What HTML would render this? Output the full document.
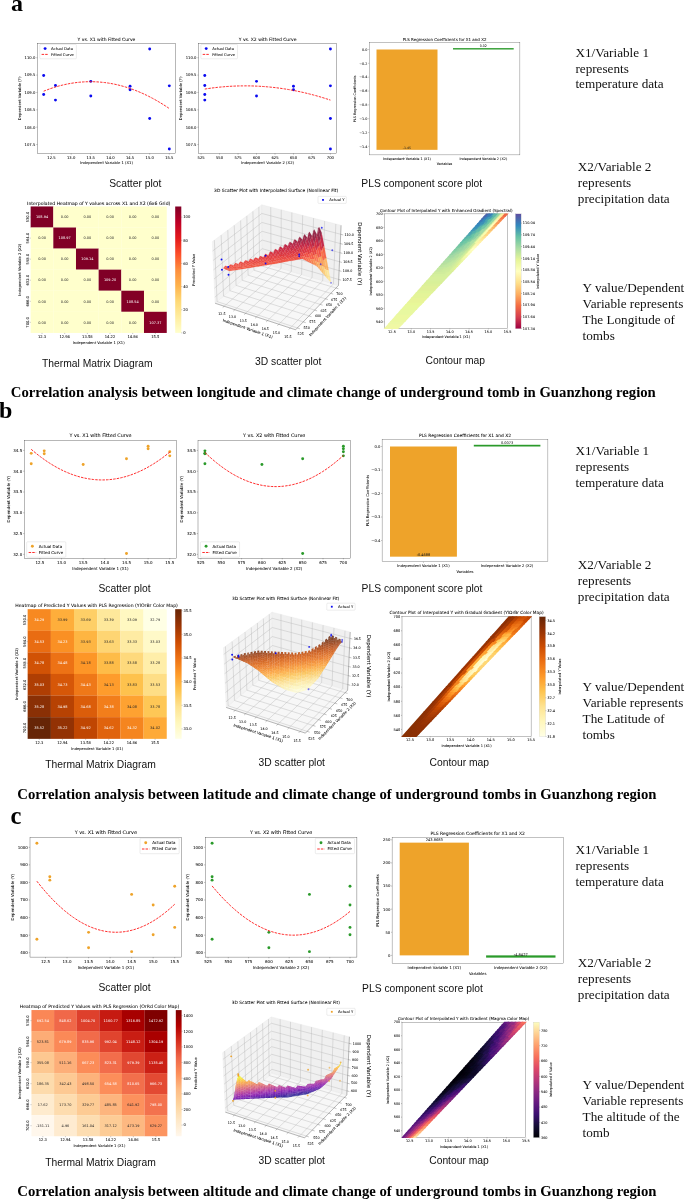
<!DOCTYPE html>
<html><head><meta charset="utf-8"><title>Figure</title>
<style>html,body{margin:0;padding:0;background:#fff}svg{display:block;filter:blur(0.3px)}text{white-space:pre}</style></head>
<body><svg width="685" height="1200" viewBox="0 0 685 1200"><defs><linearGradient id="gA" x1="0" y1="1" x2="0" y2="0" gradientUnits="objectBoundingBox"><stop offset="0.000" stop-color="#ffffcc"/><stop offset="0.125" stop-color="#ffeda0"/><stop offset="0.250" stop-color="#fed976"/><stop offset="0.375" stop-color="#feb24c"/><stop offset="0.500" stop-color="#fd8d3c"/><stop offset="0.625" stop-color="#fc4e2a"/><stop offset="0.750" stop-color="#e31a1c"/><stop offset="0.875" stop-color="#bd0026"/><stop offset="1.000" stop-color="#800026"/></linearGradient><linearGradient id="gcA" x1="0" y1="1" x2="0" y2="0" gradientUnits="objectBoundingBox"><stop offset="0.000" stop-color="#9e0142"/><stop offset="0.100" stop-color="#d53e4f"/><stop offset="0.200" stop-color="#f46d43"/><stop offset="0.300" stop-color="#fdae61"/><stop offset="0.400" stop-color="#fee08b"/><stop offset="0.500" stop-color="#ffffbf"/><stop offset="0.600" stop-color="#e6f598"/><stop offset="0.700" stop-color="#abdda4"/><stop offset="0.800" stop-color="#66c2a5"/><stop offset="0.900" stop-color="#3288bd"/><stop offset="1.000" stop-color="#5e4fa2"/></linearGradient><linearGradient id="gB" x1="0" y1="1" x2="0" y2="0" gradientUnits="objectBoundingBox"><stop offset="0.000" stop-color="#ffffe5"/><stop offset="0.125" stop-color="#fff7bc"/><stop offset="0.250" stop-color="#fee391"/><stop offset="0.375" stop-color="#fec44f"/><stop offset="0.500" stop-color="#fe9929"/><stop offset="0.625" stop-color="#ec7014"/><stop offset="0.750" stop-color="#cc4c02"/><stop offset="0.875" stop-color="#993404"/><stop offset="1.000" stop-color="#662506"/></linearGradient><linearGradient id="gcB" x1="0" y1="1" x2="0" y2="0" gradientUnits="objectBoundingBox"><stop offset="0.000" stop-color="#ffffe5"/><stop offset="0.125" stop-color="#fff7bc"/><stop offset="0.250" stop-color="#fee391"/><stop offset="0.375" stop-color="#fec44f"/><stop offset="0.500" stop-color="#fe9929"/><stop offset="0.625" stop-color="#ec7014"/><stop offset="0.750" stop-color="#cc4c02"/><stop offset="0.875" stop-color="#993404"/><stop offset="1.000" stop-color="#662506"/></linearGradient><linearGradient id="gC" x1="0" y1="1" x2="0" y2="0" gradientUnits="objectBoundingBox"><stop offset="0.000" stop-color="#fff7ec"/><stop offset="0.125" stop-color="#fee8c8"/><stop offset="0.250" stop-color="#fdd49e"/><stop offset="0.375" stop-color="#fdbb84"/><stop offset="0.500" stop-color="#fc8d59"/><stop offset="0.625" stop-color="#ef6548"/><stop offset="0.750" stop-color="#d7301f"/><stop offset="0.875" stop-color="#b30000"/><stop offset="1.000" stop-color="#7f0000"/></linearGradient><linearGradient id="gcC" x1="0" y1="1" x2="0" y2="0" gradientUnits="objectBoundingBox"><stop offset="0.000" stop-color="#000004"/><stop offset="0.100" stop-color="#140e36"/><stop offset="0.200" stop-color="#3b0f70"/><stop offset="0.300" stop-color="#641a80"/><stop offset="0.400" stop-color="#8c2981"/><stop offset="0.500" stop-color="#b73779"/><stop offset="0.600" stop-color="#de4968"/><stop offset="0.700" stop-color="#f7705c"/><stop offset="0.800" stop-color="#fe9f6d"/><stop offset="0.900" stop-color="#fecf92"/><stop offset="1.000" stop-color="#fcfdbf"/></linearGradient></defs>
<rect width="685" height="1200" fill="#fff"/>
<text x="11" y="11.4" font-size="24" font-family="'Liberation Serif',serif" font-weight="bold">a</text><text x="-1" y="418" font-size="24" font-family="'Liberation Serif',serif" font-weight="bold">b</text><text x="10.5" y="823.5" font-size="24.5" font-family="'Liberation Serif',serif" font-weight="bold">c</text><text x="10.8" y="396.9" font-size="14.7" font-family="'Liberation Serif',serif" font-weight="bold" textLength="645" lengthAdjust="spacingAndGlyphs">Correlation analysis between longitude and climate change of underground tomb in Guanzhong region</text><text x="17.3" y="798.5" font-size="14.7" font-family="'Liberation Serif',serif" font-weight="bold" textLength="639.2" lengthAdjust="spacingAndGlyphs">Correlation analysis between latitude and climate change of underground tombs in Guanzhong region</text><text x="17.3" y="1196" font-size="14.7" font-family="'Liberation Serif',serif" font-weight="bold" textLength="639.2" lengthAdjust="spacingAndGlyphs">Correlation analysis between altitude and climate change of underground tombs in Guanzhong region</text><text x="135.3" y="186.5" font-size="10.3" font-family="'Liberation Sans',sans-serif" text-anchor="middle" fill="#111">Scatter plot</text><text x="421.7" y="186.8" font-size="10.3" font-family="'Liberation Sans',sans-serif" text-anchor="middle" fill="#111">PLS component score plot</text><text x="97.3" y="366.6" font-size="10.3" font-family="'Liberation Sans',sans-serif" text-anchor="middle" fill="#111">Thermal Matrix Diagram</text><text x="288.2" y="364.6" font-size="10.3" font-family="'Liberation Sans',sans-serif" text-anchor="middle" fill="#111">3D scatter plot</text><text x="455.3" y="364.2" font-size="10.3" font-family="'Liberation Sans',sans-serif" text-anchor="middle" fill="#111">Contour map</text><text x="575.4" y="56.6" font-size="13.2" font-family="'Liberation Serif',serif" fill="#111">X1/Variable 1</text><text x="575.4" y="72.5" font-size="13.2" font-family="'Liberation Serif',serif" fill="#111">represents</text><text x="575.4" y="88.4" font-size="13.2" font-family="'Liberation Serif',serif" fill="#111">temperature data</text><text x="577.8" y="170.7" font-size="13.2" font-family="'Liberation Serif',serif" fill="#111">X2/Variable 2</text><text x="577.8" y="186.9" font-size="13.2" font-family="'Liberation Serif',serif" fill="#111">represents</text><text x="577.8" y="202.5" font-size="13.2" font-family="'Liberation Serif',serif" fill="#111">precipitation data</text><text x="582.6" y="291.7" font-size="13.2" font-family="'Liberation Serif',serif" fill="#111">Y value/Dependent</text><text x="582.6" y="307.6" font-size="13.2" font-family="'Liberation Serif',serif" fill="#111">Variable represents</text><text x="582.6" y="323.8" font-size="13.2" font-family="'Liberation Serif',serif" fill="#111">The Longitude of</text><text x="582.6" y="339.7" font-size="13.2" font-family="'Liberation Serif',serif" fill="#111">tombs</text><text x="124.5" y="592" font-size="10.3" font-family="'Liberation Sans',sans-serif" text-anchor="middle" fill="#111">Scatter plot</text><text x="422" y="592" font-size="10.3" font-family="'Liberation Sans',sans-serif" text-anchor="middle" fill="#111">PLS component score plot</text><text x="100.5" y="768" font-size="10.3" font-family="'Liberation Sans',sans-serif" text-anchor="middle" fill="#111">Thermal Matrix Diagram</text><text x="291.8" y="765.5" font-size="10.3" font-family="'Liberation Sans',sans-serif" text-anchor="middle" fill="#111">3D scatter plot</text><text x="459.3" y="765.5" font-size="10.3" font-family="'Liberation Sans',sans-serif" text-anchor="middle" fill="#111">Contour map</text><text x="575.6" y="455.4" font-size="13.2" font-family="'Liberation Serif',serif" fill="#111">X1/Variable 1</text><text x="575.6" y="471.4" font-size="13.2" font-family="'Liberation Serif',serif" fill="#111">represents</text><text x="575.6" y="487.4" font-size="13.2" font-family="'Liberation Serif',serif" fill="#111">temperature data</text><text x="577.8" y="569.4" font-size="13.2" font-family="'Liberation Serif',serif" fill="#111">X2/Variable 2</text><text x="577.8" y="585.4" font-size="13.2" font-family="'Liberation Serif',serif" fill="#111">represents</text><text x="577.8" y="601.4" font-size="13.2" font-family="'Liberation Serif',serif" fill="#111">precipitation data</text><text x="582.6" y="690.7" font-size="13.2" font-family="'Liberation Serif',serif" fill="#111">Y value/Dependent</text><text x="582.6" y="706.7" font-size="13.2" font-family="'Liberation Serif',serif" fill="#111">Variable represents</text><text x="582.6" y="722.7" font-size="13.2" font-family="'Liberation Serif',serif" fill="#111">The Latitude of</text><text x="582.6" y="738.7" font-size="13.2" font-family="'Liberation Serif',serif" fill="#111">tombs</text><text x="124.5" y="991" font-size="10.3" font-family="'Liberation Sans',sans-serif" text-anchor="middle" fill="#111">Scatter plot</text><text x="422.5" y="991.5" font-size="10.3" font-family="'Liberation Sans',sans-serif" text-anchor="middle" fill="#111">PLS component score plot</text><text x="100.5" y="1165.5" font-size="10.3" font-family="'Liberation Sans',sans-serif" text-anchor="middle" fill="#111">Thermal Matrix Diagram</text><text x="291.8" y="1163.5" font-size="10.3" font-family="'Liberation Sans',sans-serif" text-anchor="middle" fill="#111">3D scatter plot</text><text x="459" y="1164" font-size="10.3" font-family="'Liberation Sans',sans-serif" text-anchor="middle" fill="#111">Contour map</text><text x="575.6" y="853.7" font-size="13.2" font-family="'Liberation Serif',serif" fill="#111">X1/Variable 1</text><text x="575.6" y="869.7" font-size="13.2" font-family="'Liberation Serif',serif" fill="#111">represents</text><text x="575.6" y="885.7" font-size="13.2" font-family="'Liberation Serif',serif" fill="#111">temperature data</text><text x="577.8" y="967.4" font-size="13.2" font-family="'Liberation Serif',serif" fill="#111">X2/Variable 2</text><text x="577.8" y="983.4" font-size="13.2" font-family="'Liberation Serif',serif" fill="#111">represents</text><text x="577.8" y="999.4" font-size="13.2" font-family="'Liberation Serif',serif" fill="#111">precipitation data</text><text x="582.6" y="1089" font-size="13.2" font-family="'Liberation Serif',serif" fill="#111">Y value/Dependent</text><text x="582.6" y="1105" font-size="13.2" font-family="'Liberation Serif',serif" fill="#111">Variable represents</text><text x="582.6" y="1121" font-size="13.2" font-family="'Liberation Serif',serif" fill="#111">The altitude of the</text><text x="582.6" y="1137" font-size="13.2" font-family="'Liberation Serif',serif" fill="#111">tomb</text><circle cx="43.68" cy="75.45" r="1.45" fill="#0a0af0"/><circle cx="43.68" cy="94.55" r="1.45" fill="#0a0af0"/><circle cx="55.46" cy="85.52" r="1.45" fill="#0a0af0"/><circle cx="55.46" cy="100.1" r="1.45" fill="#0a0af0"/><circle cx="90.8" cy="81.35" r="1.45" fill="#0a0af0"/><circle cx="90.8" cy="95.93" r="1.45" fill="#0a0af0"/><circle cx="130.06" cy="86.21" r="1.45" fill="#0a0af0"/><circle cx="130.06" cy="89.68" r="1.45" fill="#0a0af0"/><circle cx="149.69" cy="49.06" r="1.45" fill="#0a0af0"/><circle cx="149.69" cy="118.5" r="1.45" fill="#0a0af0"/><circle cx="169.32" cy="85.87" r="1.45" fill="#0a0af0"/><circle cx="169.32" cy="149.06" r="1.45" fill="#0a0af0"/><polyline points="43.68,91.18 45.78,90.35 47.87,89.56 49.96,88.81 52.06,88.09 54.15,87.41 56.25,86.77 58.34,86.17 60.43,85.61 62.53,85.08 64.62,84.6 66.72,84.15 68.81,83.73 70.9,83.36 73,83.02 75.09,82.73 77.18,82.47 79.28,82.24 81.37,82.06 83.47,81.91 85.56,81.8 87.65,81.73 89.75,81.7 91.84,81.71 93.94,81.75 96.03,81.83 98.12,81.95 100.22,82.11 102.31,82.3 104.41,82.53 106.5,82.8 108.59,83.11 110.69,83.46 112.78,83.84 114.88,84.26 116.97,84.72 119.06,85.22 121.16,85.76 123.25,86.33 125.35,86.94 127.44,87.59 129.53,88.28 131.63,89 133.72,89.77 135.82,90.57 137.91,91.41 140,92.28 142.1,93.2 144.19,94.15 146.28,95.14 148.38,96.17 150.47,97.24 152.57,98.34 154.66,99.48 156.75,100.66 158.85,101.88 160.94,103.14 163.04,104.43 165.13,105.76 167.22,107.13 169.32,108.54" fill="none" stroke="#ff1414" stroke-width="0.9" stroke-dasharray="2.5 1.1"/><rect x="37.4" y="43.4" width="138.2" height="110" fill="none" stroke="#333" stroke-width="0.35"/><line x1="51.53" y1="153.4" x2="51.53" y2="154.6" stroke="#333" stroke-width="0.3"/><text x="51.53" y="158.81" font-size="3.76" font-family="'DejaVu Sans','Liberation Sans',sans-serif" text-anchor="middle" stroke="#000" stroke-width="0.04">12.5</text><line x1="71.16" y1="153.4" x2="71.16" y2="154.6" stroke="#333" stroke-width="0.3"/><text x="71.16" y="158.81" font-size="3.76" font-family="'DejaVu Sans','Liberation Sans',sans-serif" text-anchor="middle" stroke="#000" stroke-width="0.04">13.0</text><line x1="90.8" y1="153.4" x2="90.8" y2="154.6" stroke="#333" stroke-width="0.3"/><text x="90.8" y="158.81" font-size="3.76" font-family="'DejaVu Sans','Liberation Sans',sans-serif" text-anchor="middle" stroke="#000" stroke-width="0.04">13.5</text><line x1="110.43" y1="153.4" x2="110.43" y2="154.6" stroke="#333" stroke-width="0.3"/><text x="110.43" y="158.81" font-size="3.76" font-family="'DejaVu Sans','Liberation Sans',sans-serif" text-anchor="middle" stroke="#000" stroke-width="0.04">14.0</text><line x1="130.06" y1="153.4" x2="130.06" y2="154.6" stroke="#333" stroke-width="0.3"/><text x="130.06" y="158.81" font-size="3.76" font-family="'DejaVu Sans','Liberation Sans',sans-serif" text-anchor="middle" stroke="#000" stroke-width="0.04">14.5</text><line x1="149.69" y1="153.4" x2="149.69" y2="154.6" stroke="#333" stroke-width="0.3"/><text x="149.69" y="158.81" font-size="3.76" font-family="'DejaVu Sans','Liberation Sans',sans-serif" text-anchor="middle" stroke="#000" stroke-width="0.04">15.0</text><line x1="169.32" y1="153.4" x2="169.32" y2="154.6" stroke="#333" stroke-width="0.3"/><text x="169.32" y="158.81" font-size="3.76" font-family="'DejaVu Sans','Liberation Sans',sans-serif" text-anchor="middle" stroke="#000" stroke-width="0.04">15.5</text><line x1="36.2" y1="144.55" x2="37.4" y2="144.55" stroke="#333" stroke-width="0.3"/><text x="35.3" y="145.9" font-size="3.76" font-family="'DejaVu Sans','Liberation Sans',sans-serif" text-anchor="end" stroke="#000" stroke-width="0.04">107.5</text><line x1="36.2" y1="127.18" x2="37.4" y2="127.18" stroke="#333" stroke-width="0.3"/><text x="35.3" y="128.54" font-size="3.76" font-family="'DejaVu Sans','Liberation Sans',sans-serif" text-anchor="end" stroke="#000" stroke-width="0.04">108.0</text><line x1="36.2" y1="109.82" x2="37.4" y2="109.82" stroke="#333" stroke-width="0.3"/><text x="35.3" y="111.18" font-size="3.76" font-family="'DejaVu Sans','Liberation Sans',sans-serif" text-anchor="end" stroke="#000" stroke-width="0.04">108.5</text><line x1="36.2" y1="92.46" x2="37.4" y2="92.46" stroke="#333" stroke-width="0.3"/><text x="35.3" y="93.82" font-size="3.76" font-family="'DejaVu Sans','Liberation Sans',sans-serif" text-anchor="end" stroke="#000" stroke-width="0.04">109.0</text><line x1="36.2" y1="75.1" x2="37.4" y2="75.1" stroke="#333" stroke-width="0.3"/><text x="35.3" y="76.45" font-size="3.76" font-family="'DejaVu Sans','Liberation Sans',sans-serif" text-anchor="end" stroke="#000" stroke-width="0.04">109.5</text><line x1="36.2" y1="57.74" x2="37.4" y2="57.74" stroke="#333" stroke-width="0.3"/><text x="35.3" y="59.09" font-size="3.76" font-family="'DejaVu Sans','Liberation Sans',sans-serif" text-anchor="end" stroke="#000" stroke-width="0.04">110.0</text><text x="106.5" y="41.3" font-size="4.5" font-family="'DejaVu Sans','Liberation Sans',sans-serif" text-anchor="middle" stroke="#000" stroke-width="0.04">Y vs. X1 with Fitted Curve</text><text x="106.5" y="164.45" font-size="3.76" font-family="'DejaVu Sans','Liberation Sans',sans-serif" text-anchor="middle" stroke="#000" stroke-width="0.04">Independent Variable 1 (X1)</text><text x="21.02" y="98.4" font-size="3.76" font-family="'DejaVu Sans','Liberation Sans',sans-serif" text-anchor="middle" transform="rotate(-90 21.02 98.4)" stroke="#000" stroke-width="0.04">Dependent Variable (Y)</text><rect x="39.8" y="44.4" width="36.6" height="14.4" rx="0.9" fill="#fff" fill-opacity="0.8" stroke="#ccc" stroke-width="0.35"/><circle cx="45.1" cy="48.6" r="1.45" fill="#0a0af0"/><text x="51.1" y="49.9" font-size="3.76" font-family="'DejaVu Sans','Liberation Sans',sans-serif" stroke="#000" stroke-width="0.04">Actual Data</text><line x1="41.6" y1="54.4" x2="48.6" y2="54.4" stroke="#ff1414" stroke-width="0.9" stroke-dasharray="2.5 1.1"/><text x="51.1" y="55.7" font-size="3.76" font-family="'DejaVu Sans','Liberation Sans',sans-serif" stroke="#000" stroke-width="0.04">Fitted Curve</text><circle cx="204.78" cy="75.45" r="1.45" fill="#0a0af0"/><circle cx="204.78" cy="94.55" r="1.45" fill="#0a0af0"/><circle cx="204.78" cy="85.52" r="1.45" fill="#0a0af0"/><circle cx="204.78" cy="100.1" r="1.45" fill="#0a0af0"/><circle cx="256.51" cy="81.35" r="1.45" fill="#0a0af0"/><circle cx="256.51" cy="95.93" r="1.45" fill="#0a0af0"/><circle cx="293.47" cy="86.21" r="1.45" fill="#0a0af0"/><circle cx="293.47" cy="89.68" r="1.45" fill="#0a0af0"/><circle cx="330.42" cy="49.06" r="1.45" fill="#0a0af0"/><circle cx="330.42" cy="118.5" r="1.45" fill="#0a0af0"/><circle cx="330.42" cy="85.87" r="1.45" fill="#0a0af0"/><circle cx="330.42" cy="149.06" r="1.45" fill="#0a0af0"/><polyline points="204.78,89.06 206.88,88.74 208.97,88.43 211.06,88.14 213.16,87.87 215.25,87.62 217.35,87.38 219.44,87.16 221.53,86.96 223.63,86.77 225.72,86.61 227.82,86.45 229.91,86.32 232,86.2 234.1,86.11 236.19,86.02 238.28,85.96 240.38,85.91 242.47,85.88 244.57,85.87 246.66,85.87 248.75,85.89 250.85,85.93 252.94,85.98 255.04,86.06 257.13,86.15 259.22,86.25 261.32,86.38 263.41,86.52 265.51,86.68 267.6,86.85 269.69,87.04 271.79,87.25 273.88,87.48 275.98,87.72 278.07,87.99 280.16,88.26 282.26,88.56 284.35,88.87 286.45,89.2 288.54,89.55 290.63,89.91 292.73,90.3 294.82,90.69 296.92,91.11 299.01,91.54 301.1,91.99 303.2,92.46 305.29,92.95 307.38,93.45 309.48,93.97 311.57,94.5 313.67,95.06 315.76,95.63 317.85,96.21 319.95,96.82 322.04,97.44 324.14,98.08 326.23,98.74 328.32,99.41 330.42,100.1" fill="none" stroke="#ff1414" stroke-width="0.9" stroke-dasharray="2.5 1.1"/><rect x="198.5" y="43.4" width="138.2" height="110" fill="none" stroke="#333" stroke-width="0.35"/><line x1="201.09" y1="153.4" x2="201.09" y2="154.6" stroke="#333" stroke-width="0.3"/><text x="201.09" y="158.81" font-size="3.76" font-family="'DejaVu Sans','Liberation Sans',sans-serif" text-anchor="middle" stroke="#000" stroke-width="0.04">525</text><line x1="219.56" y1="153.4" x2="219.56" y2="154.6" stroke="#333" stroke-width="0.3"/><text x="219.56" y="158.81" font-size="3.76" font-family="'DejaVu Sans','Liberation Sans',sans-serif" text-anchor="middle" stroke="#000" stroke-width="0.04">550</text><line x1="238.04" y1="153.4" x2="238.04" y2="154.6" stroke="#333" stroke-width="0.3"/><text x="238.04" y="158.81" font-size="3.76" font-family="'DejaVu Sans','Liberation Sans',sans-serif" text-anchor="middle" stroke="#000" stroke-width="0.04">575</text><line x1="256.51" y1="153.4" x2="256.51" y2="154.6" stroke="#333" stroke-width="0.3"/><text x="256.51" y="158.81" font-size="3.76" font-family="'DejaVu Sans','Liberation Sans',sans-serif" text-anchor="middle" stroke="#000" stroke-width="0.04">600</text><line x1="274.99" y1="153.4" x2="274.99" y2="154.6" stroke="#333" stroke-width="0.3"/><text x="274.99" y="158.81" font-size="3.76" font-family="'DejaVu Sans','Liberation Sans',sans-serif" text-anchor="middle" stroke="#000" stroke-width="0.04">625</text><line x1="293.47" y1="153.4" x2="293.47" y2="154.6" stroke="#333" stroke-width="0.3"/><text x="293.47" y="158.81" font-size="3.76" font-family="'DejaVu Sans','Liberation Sans',sans-serif" text-anchor="middle" stroke="#000" stroke-width="0.04">650</text><line x1="311.94" y1="153.4" x2="311.94" y2="154.6" stroke="#333" stroke-width="0.3"/><text x="311.94" y="158.81" font-size="3.76" font-family="'DejaVu Sans','Liberation Sans',sans-serif" text-anchor="middle" stroke="#000" stroke-width="0.04">675</text><line x1="330.42" y1="153.4" x2="330.42" y2="154.6" stroke="#333" stroke-width="0.3"/><text x="330.42" y="158.81" font-size="3.76" font-family="'DejaVu Sans','Liberation Sans',sans-serif" text-anchor="middle" stroke="#000" stroke-width="0.04">700</text><line x1="197.3" y1="144.55" x2="198.5" y2="144.55" stroke="#333" stroke-width="0.3"/><text x="196.4" y="145.9" font-size="3.76" font-family="'DejaVu Sans','Liberation Sans',sans-serif" text-anchor="end" stroke="#000" stroke-width="0.04">107.5</text><line x1="197.3" y1="127.18" x2="198.5" y2="127.18" stroke="#333" stroke-width="0.3"/><text x="196.4" y="128.54" font-size="3.76" font-family="'DejaVu Sans','Liberation Sans',sans-serif" text-anchor="end" stroke="#000" stroke-width="0.04">108.0</text><line x1="197.3" y1="109.82" x2="198.5" y2="109.82" stroke="#333" stroke-width="0.3"/><text x="196.4" y="111.18" font-size="3.76" font-family="'DejaVu Sans','Liberation Sans',sans-serif" text-anchor="end" stroke="#000" stroke-width="0.04">108.5</text><line x1="197.3" y1="92.46" x2="198.5" y2="92.46" stroke="#333" stroke-width="0.3"/><text x="196.4" y="93.82" font-size="3.76" font-family="'DejaVu Sans','Liberation Sans',sans-serif" text-anchor="end" stroke="#000" stroke-width="0.04">109.0</text><line x1="197.3" y1="75.1" x2="198.5" y2="75.1" stroke="#333" stroke-width="0.3"/><text x="196.4" y="76.45" font-size="3.76" font-family="'DejaVu Sans','Liberation Sans',sans-serif" text-anchor="end" stroke="#000" stroke-width="0.04">109.5</text><line x1="197.3" y1="57.74" x2="198.5" y2="57.74" stroke="#333" stroke-width="0.3"/><text x="196.4" y="59.09" font-size="3.76" font-family="'DejaVu Sans','Liberation Sans',sans-serif" text-anchor="end" stroke="#000" stroke-width="0.04">110.0</text><text x="267.6" y="41.3" font-size="4.5" font-family="'DejaVu Sans','Liberation Sans',sans-serif" text-anchor="middle" stroke="#000" stroke-width="0.04">Y vs. X2 with Fitted Curve</text><text x="267.6" y="164.45" font-size="3.76" font-family="'DejaVu Sans','Liberation Sans',sans-serif" text-anchor="middle" stroke="#000" stroke-width="0.04">Independent Variable 2 (X2)</text><text x="182.12" y="98.4" font-size="3.76" font-family="'DejaVu Sans','Liberation Sans',sans-serif" text-anchor="middle" transform="rotate(-90 182.12 98.4)" stroke="#000" stroke-width="0.04">Dependent Variable (Y)</text><rect x="200.9" y="44.4" width="36.6" height="14.4" rx="0.9" fill="#fff" fill-opacity="0.8" stroke="#ccc" stroke-width="0.35"/><circle cx="206.2" cy="48.6" r="1.45" fill="#0a0af0"/><text x="212.2" y="49.9" font-size="3.76" font-family="'DejaVu Sans','Liberation Sans',sans-serif" stroke="#000" stroke-width="0.04">Actual Data</text><line x1="202.7" y1="54.4" x2="209.7" y2="54.4" stroke="#ff1414" stroke-width="0.9" stroke-dasharray="2.5 1.1"/><text x="212.2" y="55.7" font-size="3.76" font-family="'DejaVu Sans','Liberation Sans',sans-serif" stroke="#000" stroke-width="0.04">Fitted Curve</text><rect x="376.5" y="49.5" width="61" height="100.34" fill="#eea32a"/><rect x="453" y="48.12" width="60.7" height="1.38" fill="#2a9a2a"/><rect x="369.2" y="42.8" width="150.7" height="112.1" fill="none" stroke="#333" stroke-width="0.3"/><text x="407" y="148.9" font-size="3.23" font-family="'DejaVu Sans','Liberation Sans',sans-serif" text-anchor="middle" fill="#222" stroke="#222" stroke-width="0.04">-1.45</text><text x="483.35" y="46.7" font-size="3.23" font-family="'DejaVu Sans','Liberation Sans',sans-serif" text-anchor="middle" fill="#222" stroke="#222" stroke-width="0.04">0.02</text><line x1="368.2" y1="49.5" x2="369.2" y2="49.5" stroke="#333" stroke-width="0.3"/><text x="367.4" y="50.72" font-size="3.4" font-family="'DejaVu Sans','Liberation Sans',sans-serif" text-anchor="end" stroke="#000" stroke-width="0.04">0.0</text><line x1="368.2" y1="63.34" x2="369.2" y2="63.34" stroke="#333" stroke-width="0.3"/><text x="367.4" y="64.56" font-size="3.4" font-family="'DejaVu Sans','Liberation Sans',sans-serif" text-anchor="end" stroke="#000" stroke-width="0.04">−0.2</text><line x1="368.2" y1="77.18" x2="369.2" y2="77.18" stroke="#333" stroke-width="0.3"/><text x="367.4" y="78.4" font-size="3.4" font-family="'DejaVu Sans','Liberation Sans',sans-serif" text-anchor="end" stroke="#000" stroke-width="0.04">−0.4</text><line x1="368.2" y1="91.02" x2="369.2" y2="91.02" stroke="#333" stroke-width="0.3"/><text x="367.4" y="92.24" font-size="3.4" font-family="'DejaVu Sans','Liberation Sans',sans-serif" text-anchor="end" stroke="#000" stroke-width="0.04">−0.6</text><line x1="368.2" y1="104.86" x2="369.2" y2="104.86" stroke="#333" stroke-width="0.3"/><text x="367.4" y="106.08" font-size="3.4" font-family="'DejaVu Sans','Liberation Sans',sans-serif" text-anchor="end" stroke="#000" stroke-width="0.04">−0.8</text><line x1="368.2" y1="118.7" x2="369.2" y2="118.7" stroke="#333" stroke-width="0.3"/><text x="367.4" y="119.92" font-size="3.4" font-family="'DejaVu Sans','Liberation Sans',sans-serif" text-anchor="end" stroke="#000" stroke-width="0.04">−1.0</text><line x1="368.2" y1="132.54" x2="369.2" y2="132.54" stroke="#333" stroke-width="0.3"/><text x="367.4" y="133.76" font-size="3.4" font-family="'DejaVu Sans','Liberation Sans',sans-serif" text-anchor="end" stroke="#000" stroke-width="0.04">−1.2</text><line x1="368.2" y1="146.38" x2="369.2" y2="146.38" stroke="#333" stroke-width="0.3"/><text x="367.4" y="147.6" font-size="3.4" font-family="'DejaVu Sans','Liberation Sans',sans-serif" text-anchor="end" stroke="#000" stroke-width="0.04">−1.4</text><line x1="407" y1="154.9" x2="407" y2="155.9" stroke="#333" stroke-width="0.3"/><text x="407" y="159.64" font-size="3.4" font-family="'DejaVu Sans','Liberation Sans',sans-serif" text-anchor="middle" stroke="#000" stroke-width="0.04">Independent Variable 1 (X1)</text><line x1="483.35" y1="154.9" x2="483.35" y2="155.9" stroke="#333" stroke-width="0.3"/><text x="483.35" y="159.64" font-size="3.4" font-family="'DejaVu Sans','Liberation Sans',sans-serif" text-anchor="middle" stroke="#000" stroke-width="0.04">Independent Variable 2 (X2)</text><text x="444.55" y="40.9" font-size="4" font-family="'DejaVu Sans','Liberation Sans',sans-serif" text-anchor="middle" stroke="#000" stroke-width="0.04">PLS Regression Coefficients for X1 and X2</text><text x="444.55" y="164.91" font-size="3.4" font-family="'DejaVu Sans','Liberation Sans',sans-serif" text-anchor="middle" stroke="#000" stroke-width="0.04">Variables</text><text x="356.2" y="98.85" font-size="3.4" font-family="'DejaVu Sans','Liberation Sans',sans-serif" text-anchor="middle" transform="rotate(-90 356.2 98.85)" stroke="#000" stroke-width="0.04">PLS Regression Coefficients</text><rect x="30.65" y="206.45" width="22.77" height="21.17" fill="#810026"/><rect x="53.32" y="206.45" width="22.77" height="21.17" fill="#ffffcc"/><rect x="75.98" y="206.45" width="22.77" height="21.17" fill="#ffffcc"/><rect x="98.65" y="206.45" width="22.77" height="21.17" fill="#ffffcc"/><rect x="121.32" y="206.45" width="22.77" height="21.17" fill="#ffffcc"/><rect x="143.98" y="206.45" width="22.77" height="21.17" fill="#ffffcc"/><rect x="30.65" y="227.52" width="22.77" height="21.17" fill="#ffffcc"/><rect x="53.32" y="227.52" width="22.77" height="21.17" fill="#810026"/><rect x="75.98" y="227.52" width="22.77" height="21.17" fill="#ffffcc"/><rect x="98.65" y="227.52" width="22.77" height="21.17" fill="#ffffcc"/><rect x="121.32" y="227.52" width="22.77" height="21.17" fill="#ffffcc"/><rect x="143.98" y="227.52" width="22.77" height="21.17" fill="#ffffcc"/><rect x="30.65" y="248.58" width="22.77" height="21.17" fill="#ffffcc"/><rect x="53.32" y="248.58" width="22.77" height="21.17" fill="#ffffcc"/><rect x="75.98" y="248.58" width="22.77" height="21.17" fill="#800026"/><rect x="98.65" y="248.58" width="22.77" height="21.17" fill="#ffffcc"/><rect x="121.32" y="248.58" width="22.77" height="21.17" fill="#ffffcc"/><rect x="143.98" y="248.58" width="22.77" height="21.17" fill="#ffffcc"/><rect x="30.65" y="269.65" width="22.77" height="21.17" fill="#ffffcc"/><rect x="53.32" y="269.65" width="22.77" height="21.17" fill="#ffffcc"/><rect x="75.98" y="269.65" width="22.77" height="21.17" fill="#ffffcc"/><rect x="98.65" y="269.65" width="22.77" height="21.17" fill="#800026"/><rect x="121.32" y="269.65" width="22.77" height="21.17" fill="#ffffcc"/><rect x="143.98" y="269.65" width="22.77" height="21.17" fill="#ffffcc"/><rect x="30.65" y="290.72" width="22.77" height="21.17" fill="#ffffcc"/><rect x="53.32" y="290.72" width="22.77" height="21.17" fill="#ffffcc"/><rect x="75.98" y="290.72" width="22.77" height="21.17" fill="#ffffcc"/><rect x="98.65" y="290.72" width="22.77" height="21.17" fill="#ffffcc"/><rect x="121.32" y="290.72" width="22.77" height="21.17" fill="#830026"/><rect x="143.98" y="290.72" width="22.77" height="21.17" fill="#ffffcc"/><rect x="30.65" y="311.78" width="22.77" height="21.17" fill="#ffffcc"/><rect x="53.32" y="311.78" width="22.77" height="21.17" fill="#ffffcc"/><rect x="75.98" y="311.78" width="22.77" height="21.17" fill="#ffffcc"/><rect x="98.65" y="311.78" width="22.77" height="21.17" fill="#ffffcc"/><rect x="121.32" y="311.78" width="22.77" height="21.17" fill="#ffffcc"/><rect x="143.98" y="311.78" width="22.77" height="21.17" fill="#880026"/><text x="42.03" y="218.29" font-size="3.5" font-family="'DejaVu Sans','Liberation Sans',sans-serif" text-anchor="middle" fill="#fff">108.94</text><text x="64.7" y="218.29" font-size="3.5" font-family="'DejaVu Sans','Liberation Sans',sans-serif" text-anchor="middle" fill="#262626">0.00</text><text x="87.37" y="218.29" font-size="3.5" font-family="'DejaVu Sans','Liberation Sans',sans-serif" text-anchor="middle" fill="#262626">0.00</text><text x="110.03" y="218.29" font-size="3.5" font-family="'DejaVu Sans','Liberation Sans',sans-serif" text-anchor="middle" fill="#262626">0.00</text><text x="132.7" y="218.29" font-size="3.5" font-family="'DejaVu Sans','Liberation Sans',sans-serif" text-anchor="middle" fill="#262626">0.00</text><text x="155.37" y="218.29" font-size="3.5" font-family="'DejaVu Sans','Liberation Sans',sans-serif" text-anchor="middle" fill="#262626">0.00</text><text x="42.03" y="239.36" font-size="3.5" font-family="'DejaVu Sans','Liberation Sans',sans-serif" text-anchor="middle" fill="#262626">0.00</text><text x="64.7" y="239.36" font-size="3.5" font-family="'DejaVu Sans','Liberation Sans',sans-serif" text-anchor="middle" fill="#fff">108.97</text><text x="87.37" y="239.36" font-size="3.5" font-family="'DejaVu Sans','Liberation Sans',sans-serif" text-anchor="middle" fill="#262626">0.00</text><text x="110.03" y="239.36" font-size="3.5" font-family="'DejaVu Sans','Liberation Sans',sans-serif" text-anchor="middle" fill="#262626">0.00</text><text x="132.7" y="239.36" font-size="3.5" font-family="'DejaVu Sans','Liberation Sans',sans-serif" text-anchor="middle" fill="#262626">0.00</text><text x="155.37" y="239.36" font-size="3.5" font-family="'DejaVu Sans','Liberation Sans',sans-serif" text-anchor="middle" fill="#262626">0.00</text><text x="42.03" y="260.43" font-size="3.5" font-family="'DejaVu Sans','Liberation Sans',sans-serif" text-anchor="middle" fill="#262626">0.00</text><text x="64.7" y="260.43" font-size="3.5" font-family="'DejaVu Sans','Liberation Sans',sans-serif" text-anchor="middle" fill="#262626">0.00</text><text x="87.37" y="260.43" font-size="3.5" font-family="'DejaVu Sans','Liberation Sans',sans-serif" text-anchor="middle" fill="#fff">109.14</text><text x="110.03" y="260.43" font-size="3.5" font-family="'DejaVu Sans','Liberation Sans',sans-serif" text-anchor="middle" fill="#262626">0.00</text><text x="132.7" y="260.43" font-size="3.5" font-family="'DejaVu Sans','Liberation Sans',sans-serif" text-anchor="middle" fill="#262626">0.00</text><text x="155.37" y="260.43" font-size="3.5" font-family="'DejaVu Sans','Liberation Sans',sans-serif" text-anchor="middle" fill="#262626">0.00</text><text x="42.03" y="281.49" font-size="3.5" font-family="'DejaVu Sans','Liberation Sans',sans-serif" text-anchor="middle" fill="#262626">0.00</text><text x="64.7" y="281.49" font-size="3.5" font-family="'DejaVu Sans','Liberation Sans',sans-serif" text-anchor="middle" fill="#262626">0.00</text><text x="87.37" y="281.49" font-size="3.5" font-family="'DejaVu Sans','Liberation Sans',sans-serif" text-anchor="middle" fill="#262626">0.00</text><text x="110.03" y="281.49" font-size="3.5" font-family="'DejaVu Sans','Liberation Sans',sans-serif" text-anchor="middle" fill="#fff">109.20</text><text x="132.7" y="281.49" font-size="3.5" font-family="'DejaVu Sans','Liberation Sans',sans-serif" text-anchor="middle" fill="#262626">0.00</text><text x="155.37" y="281.49" font-size="3.5" font-family="'DejaVu Sans','Liberation Sans',sans-serif" text-anchor="middle" fill="#262626">0.00</text><text x="42.03" y="302.56" font-size="3.5" font-family="'DejaVu Sans','Liberation Sans',sans-serif" text-anchor="middle" fill="#262626">0.00</text><text x="64.7" y="302.56" font-size="3.5" font-family="'DejaVu Sans','Liberation Sans',sans-serif" text-anchor="middle" fill="#262626">0.00</text><text x="87.37" y="302.56" font-size="3.5" font-family="'DejaVu Sans','Liberation Sans',sans-serif" text-anchor="middle" fill="#262626">0.00</text><text x="110.03" y="302.56" font-size="3.5" font-family="'DejaVu Sans','Liberation Sans',sans-serif" text-anchor="middle" fill="#262626">0.00</text><text x="132.7" y="302.56" font-size="3.5" font-family="'DejaVu Sans','Liberation Sans',sans-serif" text-anchor="middle" fill="#fff">108.54</text><text x="155.37" y="302.56" font-size="3.5" font-family="'DejaVu Sans','Liberation Sans',sans-serif" text-anchor="middle" fill="#262626">0.00</text><text x="42.03" y="323.63" font-size="3.5" font-family="'DejaVu Sans','Liberation Sans',sans-serif" text-anchor="middle" fill="#262626">0.00</text><text x="64.7" y="323.63" font-size="3.5" font-family="'DejaVu Sans','Liberation Sans',sans-serif" text-anchor="middle" fill="#262626">0.00</text><text x="87.37" y="323.63" font-size="3.5" font-family="'DejaVu Sans','Liberation Sans',sans-serif" text-anchor="middle" fill="#262626">0.00</text><text x="110.03" y="323.63" font-size="3.5" font-family="'DejaVu Sans','Liberation Sans',sans-serif" text-anchor="middle" fill="#262626">0.00</text><text x="132.7" y="323.63" font-size="3.5" font-family="'DejaVu Sans','Liberation Sans',sans-serif" text-anchor="middle" fill="#262626">0.00</text><text x="155.37" y="323.63" font-size="3.5" font-family="'DejaVu Sans','Liberation Sans',sans-serif" text-anchor="middle" fill="#fff">107.37</text><line x1="29.7" y1="217.03" x2="30.7" y2="217.03" stroke="#333" stroke-width="0.3"/><text x="28.7" y="217.03" font-size="3.7" font-family="'DejaVu Sans','Liberation Sans',sans-serif" text-anchor="middle" transform="rotate(-90 28.7 217.03)" stroke="#000" stroke-width="0.04">530.0</text><line x1="42.03" y1="332.9" x2="42.03" y2="333.9" stroke="#333" stroke-width="0.3"/><text x="42.03" y="338.15" font-size="3.7" font-family="'DejaVu Sans','Liberation Sans',sans-serif" text-anchor="middle" stroke="#000" stroke-width="0.04">12.3</text><line x1="29.7" y1="238.1" x2="30.7" y2="238.1" stroke="#333" stroke-width="0.3"/><text x="28.7" y="238.1" font-size="3.7" font-family="'DejaVu Sans','Liberation Sans',sans-serif" text-anchor="middle" transform="rotate(-90 28.7 238.1)" stroke="#000" stroke-width="0.04">564.0</text><line x1="64.7" y1="332.9" x2="64.7" y2="333.9" stroke="#333" stroke-width="0.3"/><text x="64.7" y="338.15" font-size="3.7" font-family="'DejaVu Sans','Liberation Sans',sans-serif" text-anchor="middle" stroke="#000" stroke-width="0.04">12.94</text><line x1="29.7" y1="259.17" x2="30.7" y2="259.17" stroke="#333" stroke-width="0.3"/><text x="28.7" y="259.17" font-size="3.7" font-family="'DejaVu Sans','Liberation Sans',sans-serif" text-anchor="middle" transform="rotate(-90 28.7 259.17)" stroke="#000" stroke-width="0.04">598.0</text><line x1="87.37" y1="332.9" x2="87.37" y2="333.9" stroke="#333" stroke-width="0.3"/><text x="87.37" y="338.15" font-size="3.7" font-family="'DejaVu Sans','Liberation Sans',sans-serif" text-anchor="middle" stroke="#000" stroke-width="0.04">13.58</text><line x1="29.7" y1="280.23" x2="30.7" y2="280.23" stroke="#333" stroke-width="0.3"/><text x="28.7" y="280.23" font-size="3.7" font-family="'DejaVu Sans','Liberation Sans',sans-serif" text-anchor="middle" transform="rotate(-90 28.7 280.23)" stroke="#000" stroke-width="0.04">632.0</text><line x1="110.03" y1="332.9" x2="110.03" y2="333.9" stroke="#333" stroke-width="0.3"/><text x="110.03" y="338.15" font-size="3.7" font-family="'DejaVu Sans','Liberation Sans',sans-serif" text-anchor="middle" stroke="#000" stroke-width="0.04">14.22</text><line x1="29.7" y1="301.3" x2="30.7" y2="301.3" stroke="#333" stroke-width="0.3"/><text x="28.7" y="301.3" font-size="3.7" font-family="'DejaVu Sans','Liberation Sans',sans-serif" text-anchor="middle" transform="rotate(-90 28.7 301.3)" stroke="#000" stroke-width="0.04">666.0</text><line x1="132.7" y1="332.9" x2="132.7" y2="333.9" stroke="#333" stroke-width="0.3"/><text x="132.7" y="338.15" font-size="3.7" font-family="'DejaVu Sans','Liberation Sans',sans-serif" text-anchor="middle" stroke="#000" stroke-width="0.04">14.86</text><line x1="29.7" y1="322.37" x2="30.7" y2="322.37" stroke="#333" stroke-width="0.3"/><text x="28.7" y="322.37" font-size="3.7" font-family="'DejaVu Sans','Liberation Sans',sans-serif" text-anchor="middle" transform="rotate(-90 28.7 322.37)" stroke="#000" stroke-width="0.04">700.0</text><line x1="155.37" y1="332.9" x2="155.37" y2="333.9" stroke="#333" stroke-width="0.3"/><text x="155.37" y="338.15" font-size="3.7" font-family="'DejaVu Sans','Liberation Sans',sans-serif" text-anchor="middle" stroke="#000" stroke-width="0.04">15.5</text><text x="98.7" y="344.07" font-size="3.7" font-family="'DejaVu Sans','Liberation Sans',sans-serif" text-anchor="middle" stroke="#000" stroke-width="0.04">Independent Variable 1 (X1)</text><text x="20.9" y="269.7" font-size="3.7" font-family="'DejaVu Sans','Liberation Sans',sans-serif" text-anchor="middle" transform="rotate(-90 20.9 269.7)" stroke="#000" stroke-width="0.04">Independent Variable 2 (X2)</text><text x="98.7" y="204.6" font-size="4.6" font-family="'DejaVu Sans','Liberation Sans',sans-serif" text-anchor="middle" stroke="#000" stroke-width="0.04">Interpolated Heatmap of Y values across X1 and X2 (6x6 Grid)</text><rect x="175.2" y="206.5" width="6.1" height="126.4" fill="url(#gA)"/><line x1="181.3" y1="332.9" x2="182.3" y2="332.9" stroke="#333" stroke-width="0.3"/><text x="183.2" y="334.23" font-size="3.7" font-family="'DejaVu Sans','Liberation Sans',sans-serif" stroke="#000" stroke-width="0.04">0</text><line x1="181.3" y1="309.75" x2="182.3" y2="309.75" stroke="#333" stroke-width="0.3"/><text x="183.2" y="311.08" font-size="3.7" font-family="'DejaVu Sans','Liberation Sans',sans-serif" stroke="#000" stroke-width="0.04">20</text><line x1="181.3" y1="286.6" x2="182.3" y2="286.6" stroke="#333" stroke-width="0.3"/><text x="183.2" y="287.93" font-size="3.7" font-family="'DejaVu Sans','Liberation Sans',sans-serif" stroke="#000" stroke-width="0.04">40</text><line x1="181.3" y1="263.45" x2="182.3" y2="263.45" stroke="#333" stroke-width="0.3"/><text x="183.2" y="264.78" font-size="3.7" font-family="'DejaVu Sans','Liberation Sans',sans-serif" stroke="#000" stroke-width="0.04">60</text><line x1="181.3" y1="240.3" x2="182.3" y2="240.3" stroke="#333" stroke-width="0.3"/><text x="183.2" y="241.63" font-size="3.7" font-family="'DejaVu Sans','Liberation Sans',sans-serif" stroke="#000" stroke-width="0.04">80</text><line x1="181.3" y1="217.15" x2="182.3" y2="217.15" stroke="#333" stroke-width="0.3"/><text x="183.2" y="218.48" font-size="3.7" font-family="'DejaVu Sans','Liberation Sans',sans-serif" stroke="#000" stroke-width="0.04">100</text><text x="194.9" y="269.7" font-size="3.7" font-family="'DejaVu Sans','Liberation Sans',sans-serif" text-anchor="middle" transform="rotate(-90 194.9 269.7)" stroke="#000" stroke-width="0.04">Predicted Y Value</text><rect x="384.3" y="213.9" width="123.3" height="114.7" fill="none" stroke="#333" stroke-width="0.3"/><line x1="392.01" y1="328.6" x2="392.01" y2="329.5" stroke="#333" stroke-width="0.3"/><text x="392.01" y="333.47" font-size="3.45" font-family="'DejaVu Sans','Liberation Sans',sans-serif" text-anchor="middle" stroke="#000" stroke-width="0.04">12.5</text><line x1="411.27" y1="328.6" x2="411.27" y2="329.5" stroke="#333" stroke-width="0.3"/><text x="411.27" y="333.47" font-size="3.45" font-family="'DejaVu Sans','Liberation Sans',sans-serif" text-anchor="middle" stroke="#000" stroke-width="0.04">13.0</text><line x1="430.54" y1="328.6" x2="430.54" y2="329.5" stroke="#333" stroke-width="0.3"/><text x="430.54" y="333.47" font-size="3.45" font-family="'DejaVu Sans','Liberation Sans',sans-serif" text-anchor="middle" stroke="#000" stroke-width="0.04">13.5</text><line x1="449.8" y1="328.6" x2="449.8" y2="329.5" stroke="#333" stroke-width="0.3"/><text x="449.8" y="333.47" font-size="3.45" font-family="'DejaVu Sans','Liberation Sans',sans-serif" text-anchor="middle" stroke="#000" stroke-width="0.04">14.0</text><line x1="469.07" y1="328.6" x2="469.07" y2="329.5" stroke="#333" stroke-width="0.3"/><text x="469.07" y="333.47" font-size="3.45" font-family="'DejaVu Sans','Liberation Sans',sans-serif" text-anchor="middle" stroke="#000" stroke-width="0.04">14.5</text><line x1="488.33" y1="328.6" x2="488.33" y2="329.5" stroke="#333" stroke-width="0.3"/><text x="488.33" y="333.47" font-size="3.45" font-family="'DejaVu Sans','Liberation Sans',sans-serif" text-anchor="middle" stroke="#000" stroke-width="0.04">15.0</text><line x1="507.6" y1="328.6" x2="507.6" y2="329.5" stroke="#333" stroke-width="0.3"/><text x="507.6" y="333.47" font-size="3.45" font-family="'DejaVu Sans','Liberation Sans',sans-serif" text-anchor="middle" stroke="#000" stroke-width="0.04">15.5</text><line x1="383.4" y1="321.85" x2="384.3" y2="321.85" stroke="#333" stroke-width="0.3"/><text x="382.6" y="323.09" font-size="3.45" font-family="'DejaVu Sans','Liberation Sans',sans-serif" text-anchor="end" stroke="#000" stroke-width="0.04">540</text><line x1="383.4" y1="308.36" x2="384.3" y2="308.36" stroke="#333" stroke-width="0.3"/><text x="382.6" y="309.6" font-size="3.45" font-family="'DejaVu Sans','Liberation Sans',sans-serif" text-anchor="end" stroke="#000" stroke-width="0.04">560</text><line x1="383.4" y1="294.86" x2="384.3" y2="294.86" stroke="#333" stroke-width="0.3"/><text x="382.6" y="296.11" font-size="3.45" font-family="'DejaVu Sans','Liberation Sans',sans-serif" text-anchor="end" stroke="#000" stroke-width="0.04">580</text><line x1="383.4" y1="281.37" x2="384.3" y2="281.37" stroke="#333" stroke-width="0.3"/><text x="382.6" y="282.61" font-size="3.45" font-family="'DejaVu Sans','Liberation Sans',sans-serif" text-anchor="end" stroke="#000" stroke-width="0.04">600</text><line x1="383.4" y1="267.88" x2="384.3" y2="267.88" stroke="#333" stroke-width="0.3"/><text x="382.6" y="269.12" font-size="3.45" font-family="'DejaVu Sans','Liberation Sans',sans-serif" text-anchor="end" stroke="#000" stroke-width="0.04">620</text><line x1="383.4" y1="254.38" x2="384.3" y2="254.38" stroke="#333" stroke-width="0.3"/><text x="382.6" y="255.62" font-size="3.45" font-family="'DejaVu Sans','Liberation Sans',sans-serif" text-anchor="end" stroke="#000" stroke-width="0.04">640</text><line x1="383.4" y1="240.89" x2="384.3" y2="240.89" stroke="#333" stroke-width="0.3"/><text x="382.6" y="242.13" font-size="3.45" font-family="'DejaVu Sans','Liberation Sans',sans-serif" text-anchor="end" stroke="#000" stroke-width="0.04">660</text><line x1="383.4" y1="227.39" x2="384.3" y2="227.39" stroke="#333" stroke-width="0.3"/><text x="382.6" y="228.64" font-size="3.45" font-family="'DejaVu Sans','Liberation Sans',sans-serif" text-anchor="end" stroke="#000" stroke-width="0.04">680</text><line x1="383.4" y1="213.9" x2="384.3" y2="213.9" stroke="#333" stroke-width="0.3"/><text x="382.6" y="215.14" font-size="3.45" font-family="'DejaVu Sans','Liberation Sans',sans-serif" text-anchor="end" stroke="#000" stroke-width="0.04">700</text><text x="445.95" y="338.4" font-size="3.45" font-family="'DejaVu Sans','Liberation Sans',sans-serif" text-anchor="middle" stroke="#000" stroke-width="0.04">Independent Variable 1 (X1)</text><text x="372.4" y="271.25" font-size="3.45" font-family="'DejaVu Sans','Liberation Sans',sans-serif" text-anchor="middle" transform="rotate(-90 372.4 271.25)" stroke="#000" stroke-width="0.04">Independent Variable 2 (X2)</text><text x="446.1" y="211.6" font-size="4.1" font-family="'DejaVu Sans','Liberation Sans',sans-serif" text-anchor="middle" stroke="#000" stroke-width="0.04">Contour Plot of Interpolated Y with Enhanced Gradient (Spectral)</text><rect x="515.5" y="213.9" width="5.6" height="114.7" fill="url(#gcA)" stroke="#999" stroke-width="0.15"/><line x1="521.1" y1="328.6" x2="522" y2="328.6" stroke="#333" stroke-width="0.3"/><text x="522.8" y="329.84" font-size="3.45" font-family="'DejaVu Sans','Liberation Sans',sans-serif" stroke="#000" stroke-width="0.04">107.34</text><line x1="521.1" y1="316.88" x2="522" y2="316.88" stroke="#333" stroke-width="0.3"/><text x="522.8" y="318.12" font-size="3.45" font-family="'DejaVu Sans','Liberation Sans',sans-serif" stroke="#000" stroke-width="0.04">107.64</text><line x1="521.1" y1="305.16" x2="522" y2="305.16" stroke="#333" stroke-width="0.3"/><text x="522.8" y="306.4" font-size="3.45" font-family="'DejaVu Sans','Liberation Sans',sans-serif" stroke="#000" stroke-width="0.04">107.94</text><line x1="521.1" y1="293.44" x2="522" y2="293.44" stroke="#333" stroke-width="0.3"/><text x="522.8" y="294.68" font-size="3.45" font-family="'DejaVu Sans','Liberation Sans',sans-serif" stroke="#000" stroke-width="0.04">108.24</text><line x1="521.1" y1="281.72" x2="522" y2="281.72" stroke="#333" stroke-width="0.3"/><text x="522.8" y="282.96" font-size="3.45" font-family="'DejaVu Sans','Liberation Sans',sans-serif" stroke="#000" stroke-width="0.04">108.54</text><line x1="521.1" y1="270" x2="522" y2="270" stroke="#333" stroke-width="0.3"/><text x="522.8" y="271.24" font-size="3.45" font-family="'DejaVu Sans','Liberation Sans',sans-serif" stroke="#000" stroke-width="0.04">108.84</text><line x1="521.1" y1="258.28" x2="522" y2="258.28" stroke="#333" stroke-width="0.3"/><text x="522.8" y="259.52" font-size="3.45" font-family="'DejaVu Sans','Liberation Sans',sans-serif" stroke="#000" stroke-width="0.04">109.14</text><line x1="521.1" y1="246.56" x2="522" y2="246.56" stroke="#333" stroke-width="0.3"/><text x="522.8" y="247.8" font-size="3.45" font-family="'DejaVu Sans','Liberation Sans',sans-serif" stroke="#000" stroke-width="0.04">109.44</text><line x1="521.1" y1="234.84" x2="522" y2="234.84" stroke="#333" stroke-width="0.3"/><text x="522.8" y="236.08" font-size="3.45" font-family="'DejaVu Sans','Liberation Sans',sans-serif" stroke="#000" stroke-width="0.04">109.74</text><line x1="521.1" y1="223.12" x2="522" y2="223.12" stroke="#333" stroke-width="0.3"/><text x="522.8" y="224.36" font-size="3.45" font-family="'DejaVu Sans','Liberation Sans',sans-serif" stroke="#000" stroke-width="0.04">110.04</text><text x="539.33" y="271.25" font-size="3.45" font-family="'DejaVu Sans','Liberation Sans',sans-serif" text-anchor="middle" transform="rotate(-90 539.33 271.25)" stroke="#000" stroke-width="0.04">Interpolated Y Value</text><g><path fill="#f0f8a4" d="M383.5 329.1l2.5 0 3-3.3-2.6 0zM385.2 329.1l2.6 0 3-3.3-2.6 0zM386.9 329.1l2.6 0 3-3.3-2.6 0zM388.7 329.1l2.5 0 3.1-3.3-2.6 0zM390.4 329.1l2.6 0 3-3.3-2.6 0zM392.1 329.1l2.6 0 3.1-3.3-2.6 0zM393.9 329.1l2.5 0 3.2-3.3-2.6 0zM395.6 329.1l2.5 0 3.2-3.3-2.6 0zM385.6 326.7l2.6 0 3-3.3-2.7 0zM387.3 326.7l2.6 0 3-3.3-2.6 0zM389.1 326.7l2.6 0 3-3.3-2.6 0zM390.8 326.7l2.6 0 3.1-3.3-2.6 0zM392.6 326.7l2.6 0 3.1-3.3-2.7 0zM394.3 326.7l2.6 0 3.1-3.3-2.6 0zM396.1 326.7l2.6 0 3.1-3.3-2.6 0zM397.8 326.7l2.6 0 3.2-3.3-2.6 0z"/><path fill="#ecf8a4" d="M387.7 324.3l2.6 0 3-3.3-2.6 0zM389.5 324.3l2.6 0 3-3.3-2.6 0zM391.3 324.3l2.6 0 3-3.3-2.7 0zM393 324.3l2.6 0 3.1-3.3-2.7 0zM394.8 324.3l2.6 0 3.1-3.3-2.7 0zM396.6 324.3l2.6 0 3.1-3.3-2.7 0zM398.3 324.3l2.6 0 3.2-3.3-2.7 0zM400.1 324.3l2.6 0 3.2-3.3-2.7 0zM472.2 245.4l3.5 0 3.1-3.3-3.5 0z"/><path fill="#ecf8a0" d="M389.8 321.9l2.7 0 3-3.3-2.7 0zM391.6 321.9l2.7 0 3-3.3-2.7 0zM393.4 321.9l2.7 0 3-3.3-2.7 0zM395.2 321.9l2.7 0 3-3.3-2.7 0zM397 321.9l2.6 0 3.1-3.3-2.7 0zM398.8 321.9l2.6 0 3.1-3.3-2.6 0zM400.6 321.9l2.6 0 3.1-3.3-2.6 0zM402.4 321.9l2.6 0 3.2-3.3-2.7 0zM392 319.5l2.6 0 3-3.3-2.7 0zM393.8 319.5l2.6 0 3.1-3.3-2.8 0zM395.6 319.5l2.7 0 3-3.3-2.7 0zM397.4 319.5l2.7 0 3-3.3-2.7 0zM399.2 319.5l2.7 0 3-3.3-2.7 0zM401 319.5l2.7 0 3.1-3.3-2.7 0zM402.8 319.5l2.7 0 3.1-3.3-2.7 0zM404.6 319.5l2.7 0 3.1-3.3-2.7 0zM394.1 317.1l2.7 0 3-3.3-2.8 0zM395.9 317.1l2.7 0 3-3.3-2.7 0zM397.7 317.1l2.7 0 3.1-3.3-2.8 0zM399.6 317.1l2.7 0 3-3.3-2.7 0zM401.4 317.1l2.7 0 3.1-3.3-2.8 0zM403.2 317.1l2.7 0 3.1-3.3-2.7 0zM405 317.1l2.7 0 3.2-3.3-2.8 0zM406.9 317.1l2.7 0 3.1-3.3-2.7 0zM458.8 262.2l3.3 0 3.2-3.4-3.4 0zM469.9 247.8l3.5 0 3.2-3.3-3.6 0z"/><path fill="#e8f8a0" d="M396.2 314.7l2.7 0 3-3.3-2.7 0zM398.1 314.7l2.7 0 3-3.3-2.8 0zM399.9 314.7l2.7 0 3.1-3.3-2.8 0zM401.7 314.7l2.8 0 3-3.3-2.7 0zM403.6 314.7l2.7 0 3.1-3.3-2.8 0zM405.4 314.7l2.8 0 3.1-3.3-2.8 0zM407.3 314.7l2.7 0 3.1-3.3-2.7 0zM409.1 314.7l2.8 0 3.1-3.3-2.8 0zM398.3 312.3l2.8 0 3-3.3-2.8 0zM400.2 312.3l2.8 0 3-3.3-2.8 0zM402.1 312.3l2.7 0 3.1-3.3-2.8 0zM403.9 312.3l2.8 0 3-3.3-2.8 0zM405.8 312.3l2.7 0 3.1-3.3-2.8 0zM407.7 312.3l2.7 0 3.1-3.3-2.8 0zM409.5 312.3l2.8 0 3.1-3.3-2.8 0zM411.4 312.3l2.7 0 3.2-3.3-2.8 0zM456.5 264.5l3.3 0 3.2-3.3-3.4 0z"/><path fill="#e8f89c" d="M400.5 309.9l2.7 0 3-3.3-2.8 0zM402.3 309.9l2.8 0 3-3.3-2.8 0zM404.2 309.9l2.8 0 3-3.3-2.8 0zM406.1 309.9l2.8 0 3-3.3-2.8 0zM408 309.9l2.8 0 3.1-3.3-2.9 0zM409.9 309.9l2.8 0 3.1-3.3-2.9 0zM411.8 309.9l2.7 0 3.2-3.3-2.8 0zM413.6 309.9l2.8 0 3.2-3.3-2.8 0zM402.6 307.6l2.8 0 3-3.4-2.9 0zM404.5 307.6l2.8 0 3-3.4-2.9 0zM406.4 307.6l2.8 0 3-3.4-2.8 0zM408.3 307.6l2.8 0 3.1-3.4-2.9 0zM410.2 307.6l2.8 0 3.1-3.4-2.9 0zM412.1 307.6l2.8 0 3.1-3.4-2.8 0zM414 307.6l2.8 0 3.1-3.4-2.8 0zM415.9 307.6l2.8 0 3.2-3.4-2.9 0zM465.4 252.6l3.5 0 3.1-3.3-3.5 0zM467.7 250.2l3.5 0 3.1-3.3-3.5 0z"/><path fill="#e8f898" d="M404.7 305.2l2.8 0 3-3.3-2.9 0zM406.6 305.2l2.9 0 3-3.3-2.9 0zM408.5 305.2l2.9 0 3-3.3-2.9 0zM410.5 305.2l2.8 0 3.1-3.3-2.9 0zM412.4 305.2l2.8 0 3.1-3.3-2.9 0zM414.3 305.2l2.9 0 3.1-3.3-2.9 0zM416.2 305.2l2.9 0 3.1-3.3-2.9 0zM418.1 305.2l2.9 0 3.2-3.3-2.9 0z"/><path fill="#e8f498" d="M406.8 302.8l2.9 0 3-3.3-2.9 0zM408.8 302.8l2.8 0 3-3.3-2.9 0zM410.7 302.8l2.9 0 3-3.3-2.9 0zM412.6 302.8l2.9 0 3.1-3.3-2.9 0zM414.6 302.8l2.9 0 3-3.3-2.9 0zM416.5 302.8l2.9 0 3.1-3.3-2.9 0zM418.5 302.8l2.8 0 3.2-3.3-2.9 0zM420.4 302.8l2.9 0 3.1-3.3-2.9 0zM408.9 300.4l2.9 0 3-3.3-2.9 0zM410.9 300.4l2.9 0 3-3.3-2.9 0zM412.9 300.4l2.9 0 3-3.3-2.9 0zM414.8 300.4l2.9 0 3.1-3.3-3 0zM416.8 300.4l2.9 0 3.1-3.3-3 0zM418.7 300.4l2.9 0 3.2-3.3-3 0zM420.7 300.4l2.9 0 3.1-3.3-2.9 0zM422.7 300.4l2.9 0 3.1-3.3-2.9 0zM454.2 266.9l3.3 0 3.2-3.3-3.3 0zM463.2 255l3.4 0 3.2-3.3-3.5 0z"/><path fill="#e4f498" d="M411.1 298l2.9 0 3-3.3-3 0zM413 298l3 0 3-3.3-3 0zM415 298l3 0 3-3.3-3 0zM417 298l2.9 0 3.1-3.3-3 0zM419 298l2.9 0 3.1-3.3-3 0zM421 298l2.9 0 3.1-3.3-3 0zM422.9 298l3 0 3.1-3.3-3 0zM424.9 298l2.9 0 3.2-3.3-3 0zM413.2 295.6l2.9 0 3-3.3-3 0zM415.2 295.6l2.9 0 3-3.3-2.9 0zM417.2 295.6l2.9 0 3.1-3.3-3 0zM419.2 295.6l2.9 0 3.1-3.3-3 0zM421.2 295.6l2.9 0 3.1-3.3-3 0zM423.2 295.6l2.9 0 3.1-3.3-3 0zM425.2 295.6l2.9 0 3.2-3.3-3 0zM427.2 295.6l2.9 0 3.2-3.3-3 0zM452 269.3l3.3 0 3.1-3.3-3.3 0zM461 257.4l3.4 0 3.1-3.3-3.4 0z"/><path fill="#e0f498" d="M415.3 293.2l3 0 3-3.3-3 0zM417.3 293.2l3 0 3-3.3-3 0zM419.3 293.2l3 0 3.1-3.3-3.1 0zM421.4 293.2l2.9 0 3.1-3.3-3 0zM423.4 293.2l3 0 3-3.3-3 0zM425.4 293.2l3 0 3.1-3.3-3 0zM427.4 293.2l3 0 3.1-3.3-3 0zM429.4 293.2l3 0 3.2-3.3-3 0zM458.7 259.8l3.4 0 3.1-3.3-3.4 0z"/><path fill="#e0f098" d="M417.4 290.8l3.1 0 2.9-3.3-3 0zM419.5 290.8l3 0 3-3.3-3.1 0zM421.5 290.8l3 0 3.1-3.3-3.1 0zM423.5 290.8l3.1 0 3-3.3-3 0zM425.6 290.8l3 0 3.1-3.3-3.1 0zM427.6 290.8l3 0 3.1-3.3-3 0zM429.7 290.8l3 0 3.1-3.3-3.1 0zM431.7 290.8l3 0 3.2-3.3-3.1 0zM419.6 288.4l3 0 3-3.3-3.1 0zM421.6 288.4l3.1 0 3-3.3-3.1 0zM423.7 288.4l3 0 3-3.3-3 0zM425.7 288.4l3.1 0 3-3.3-3.1 0zM427.8 288.4l3 0 3.1-3.3-3.1 0zM429.8 288.4l3.1 0 3.1-3.3-3.1 0zM431.9 288.4l3 0 3.2-3.3-3.1 0zM433.9 288.4l3.1 0 3.1-3.3-3 0zM449.7 271.7l3.3 0 3.1-3.3-3.2 0zM456.5 262.2l3.3 0 3.2-3.4-3.4 0z"/><path fill="#dcf098" d="M421.7 286l3.1 0 2.9-3.3-3.1 0zM423.8 286l3 0 3-3.3-3.1 0zM425.8 286l3.1 0 3-3.3-3.1 0zM427.9 286l3.1 0 3-3.3-3.1 0zM430 286l3 0 3.1-3.3-3.1 0zM432.1 286l3 0 3.1-3.3-3.1 0zM434.1 286l3.1 0 3.1-3.3-3.1 0zM436.2 286l3.1 0 3.1-3.3-3.1 0zM454.3 264.5l3.3 0 3.1-3.3-3.3 0zM496.4 216.7l3.9 0 3.1-3.3-4 0z"/><path fill="#d8f098" d="M423.8 283.7l3.1 0 3-3.4-3.2 0zM425.9 283.7l3.1 0 3-3.4-3.1 0zM428 283.7l3.1 0 3-3.4-3.1 0zM430.1 283.7l3.1 0 3-3.4-3.1 0zM432.2 283.7l3.1 0 3.1-3.4-3.2 0zM434.3 283.7l3.1 0 3.1-3.4-3.2 0zM436.4 283.7l3.1 0 3.1-3.4-3.1 0zM438.5 283.7l3.1 0 3.1-3.4-3.1 0zM447.5 274.1l3.2 0 3.2-3.3-3.3 0zM452 266.9l3.3 0 3.2-3.3-3.4 0zM494.2 219.1l3.8 0 3.1-3.3-3.9 0z"/><path fill="#d8f09c" d="M425.9 281.3l3.2 0 2.9-3.3-3.1 0zM428 281.3l3.2 0 3-3.3-3.2 0zM430.2 281.3l3.1 0 3-3.3-3.2 0zM432.3 281.3l3.1 0 3-3.3-3.1 0zM434.4 281.3l3.1 0 3.1-3.3-3.2 0zM436.5 281.3l3.1 0 3.1-3.3-3.1 0zM438.6 281.3l3.1 0 3.2-3.3-3.2 0zM440.7 281.3l3.1 0 3.2-3.3-3.2 0zM428.1 278.9l3.1 0 3-3.3-3.2 0zM430.2 278.9l3.1 0 3-3.3-3.2 0zM432.3 278.9l3.2 0 3-3.3-3.2 0zM434.4 278.9l3.2 0 3.1-3.3-3.2 0zM436.6 278.9l3.1 0 3.1-3.3-3.2 0zM438.7 278.9l3.2 0 3.1-3.3-3.2 0zM440.8 278.9l3.2 0 3.1-3.3-3.2 0zM443 278.9l3.1 0 3.2-3.3-3.2 0zM443.1 276.5l3.2 0 3.1-3.3-3.2 0zM445.2 276.5l3.2 0 3.2-3.3-3.3 0zM445.3 274.1l3.2 0 3.2-3.3-3.3 0zM447.5 271.7l3.3 0 3.1-3.3-3.3 0zM449.8 269.3l3.3 0 3.1-3.3-3.3 0zM489.7 223.9l3.8 0 3.1-3.3-3.8 0zM491.9 221.5l3.9 0 3.1-3.3-3.9 0z"/><path fill="#d4ec9c" d="M430.2 276.5l3.2 0 2.9-3.3-3.2 0z"/><path fill="#d4f09c" d="M432.3 276.5l3.2 0 3-3.3-3.2 0zM434.5 276.5l3.2 0 3-3.3-3.2 0zM436.6 276.5l3.2 0 3.1-3.3-3.3 0zM438.8 276.5l3.2 0 3-3.3-3.2 0zM440.9 276.5l3.2 0 3.1-3.3-3.2 0zM443.1 274.1l3.3 0 3.1-3.3-3.3 0zM487.5 226.3l3.8 0 3.1-3.3-3.8 0z"/><path fill="#d0ec9c" d="M432.3 274.1l3.2 0 3-3.3-3.3 0zM434.5 274.1l3.2 0 3-3.3-3.3 0zM436.6 274.1l3.2 0 3.1-3.3-3.3 0zM438.8 274.1l3.2 0 3.1-3.3-3.3 0zM441 274.1l3.2 0 3.1-3.3-3.3 0zM443.2 271.7l3.2 0 3.1-3.3-3.3 0zM445.4 271.7l3.2 0 3.1-3.3-3.3 0zM447.6 269.3l3.2 0 3.2-3.3-3.4 0zM449.8 266.9l3.3 0 3.1-3.3-3.3 0zM452 264.5l3.3 0 3.1-3.3-3.3 0zM454.2 262.2l3.4 0 3.1-3.4-3.4 0zM476.4 238.3l3.6 0 3.2-3.4-3.7 0zM478.6 235.9l3.7 0 3.1-3.3-3.7 0zM480.8 233.5l3.7 0 3.1-3.3-3.7 0zM483.1 231.1l3.7 0 3.1-3.3-3.8 0zM485.3 228.7l3.7 0 3.1-3.3-3.7 0z"/><path fill="#c8e8a0" d="M434.4 271.7l3.3 0 2.9-3.3-3.2 0zM436.6 271.7l3.2 0 3-3.3-3.2 0zM441 269.3l3.2 0 3.1-3.3-3.4 0zM443.2 269.3l3.2 0 3.1-3.3-3.3 0zM447.6 266.9l3.3 0 3-3.3-3.3 0zM449.8 264.5l3.3 0 3.1-3.3-3.4 0z"/><path fill="#cce89c" d="M438.8 271.7l3.2 0 3.1-3.3-3.3 0zM463.1 252.6l3.5 0 3.1-3.3-3.5 0zM465.3 250.2l3.5 0 3.1-3.3-3.5 0zM467.5 247.8l3.6 0 3.1-3.3-3.6 0zM469.8 245.4l3.5 0 3.1-3.3-3.6 0z"/><path fill="#ccec9c" d="M441 271.7l3.2 0 3.1-3.3-3.3 0zM445.4 269.3l3.2 0 3.1-3.3-3.3 0zM456.4 259.8l3.4 0 3.1-3.3-3.4 0zM458.7 257.4l3.4 0 3.1-3.3-3.5 0zM460.9 255l3.4 0 3.1-3.3-3.4 0zM472 243l3.6 0 3.1-3.3-3.7 0zM474.2 240.6l3.6 0 3.1-3.3-3.6 0z"/><path fill="#c4e8a0" d="M436.5 269.3l3.3 0 3-3.3-3.3 0zM438.7 269.3l3.3 0 3-3.3-3.3 0zM445.3 266.9l3.3 0 3.1-3.3-3.3 0zM452 262.2l3.3 0 3.1-3.4-3.4 0z"/><path fill="#bce4a0" d="M438.7 266.9l3.3 0 2.9-3.3-3.3 0zM445.3 264.5l3.3 0 3-3.3-3.3 0zM449.7 262.2l3.4 0 3-3.4-3.4 0zM456.4 257.4l3.4 0 3.1-3.3-3.5 0z"/><path fill="#c0e4a0" d="M440.9 266.9l3.3 0 3-3.3-3.3 0z"/><path fill="#c0e8a0" d="M443.1 266.9l3.3 0 3-3.3-3.3 0zM447.5 264.5l3.3 0 3.1-3.3-3.4 0zM454.2 259.8l3.3 0 3.1-3.3-3.4 0z"/><path fill="#b4e0a0" d="M440.8 264.5l3.3 0 3-3.3-3.4 0zM463 250.2l3.5 0 3-3.3-3.5 0z"/><path fill="#b8e0a0" d="M443 264.5l3.4 0 3-3.3-3.4 0zM447.4 262.2l3.4 0 3-3.4-3.4 0zM451.9 259.8l3.4 0 3-3.3-3.4 0zM460.8 252.6l3.4 0 3.1-3.3-3.5 0z"/><path fill="#b0e0a4" d="M442.9 262.2l3.4 0 2.9-3.4-3.4 0zM445.2 262.2l3.3 0 3-3.4-3.4 0zM449.6 259.8l3.4 0 3-3.3-3.4 0zM456.2 255l3.5 0 3-3.3-3.4 0zM465.2 247.8l3.5 0 3.1-3.3-3.6 0zM467.4 245.4l3.5 0 3.1-3.3-3.6 0z"/><path fill="#a8dca4" d="M445 259.8l3.4 0 3-3.3-3.4 0zM458.4 252.6l3.5 0 3-3.3-3.5 0zM471.8 240.6l3.6 0 3-3.3-3.6 0zM474 238.3l3.6 0 3.1-3.4-3.7 0z"/><path fill="#acdca4" d="M447.3 259.8l3.4 0 3-3.3-3.4 0zM451.8 257.4l3.4 0 3-3.3-3.4 0z"/><path fill="#f0f8a8" d="M461 259.8l3.4 0 3.2-3.3-3.5 0zM474.4 243l3.6 0 3.1-3.3-3.6 0zM476.6 240.6l3.6 0 3.2-3.3-3.7 0z"/><path fill="#9cd8a4" d="M447.2 257.4l3.4 0 2.9-3.3-3.4 0zM451.6 255l3.4 0 3-3.3-3.4 0zM456.1 252.6l3.4 0 3.1-3.3-3.5 0zM482.8 228.7l3.7 0 3.1-3.3-3.8 0zM485 226.3l3.7 0 3.1-3.3-3.8 0z"/><path fill="#a4d8a4" d="M449.5 257.4l3.4 0 3-3.3-3.5 0zM453.9 255l3.5 0 3-3.3-3.5 0zM460.6 250.2l3.5 0 3.1-3.3-3.6 0zM476.2 235.9l3.6 0 3.1-3.3-3.7 0z"/><path fill="#b0e0a0" d="M454.1 257.4l3.4 0 3-3.3-3.4 0z"/><path fill="#f4f8ac" d="M463.3 257.4l3.4 0 3.1-3.3-3.4 0zM478.9 238.3l3.6 0 3.1-3.4-3.6 0z"/><path fill="#94d4a4" d="M449.3 255l3.4 0 3-3.3-3.5 0zM453.7 252.6l3.5 0 3-3.3-3.5 0zM467.1 243l3.6 0 3.1-3.3-3.6 0zM491.5 219.1l3.9 0 3.1-3.3-3.9 0zM493.7 216.7l3.9 0 3.1-3.3-3.9 0z"/><path fill="#b8e4a0" d="M458.6 255l3.4 0 3.1-3.3-3.5 0z"/><path fill="#f8fcb0" d="M465.5 255l3.5 0 3.1-3.3-3.4 0zM481.1 235.9l3.7 0 3.1-3.3-3.7 0z"/><path fill="#88d0a4" d="M451.4 252.6l3.5 0 2.9-3.3-3.5 0zM462.6 245.4l3.5 0 3-3.3-3.5 0zM471.5 238.3l3.6 0 3.1-3.4-3.7 0z"/><path fill="#fcfcb8" d="M467.8 252.6l3.4 0 3.2-3.3-3.5 0zM485.6 231.1l3.7 0 3.1-3.3-3.7 0z"/><path fill="#80cca4" d="M453.5 250.2l3.5 0 3-3.3-3.5 0zM458 247.8l3.5 0 3-3.3-3.5 0zM464.7 243l3.6 0 3-3.3-3.6 0zM475.9 233.5l3.7 0 3-3.3-3.7 0z"/><path fill="#8cd0a4" d="M455.9 250.2l3.5 0 3-3.3-3.6 0zM469.3 240.6l3.6 0 3.1-3.3-3.7 0z"/><path fill="#98d4a4" d="M458.2 250.2l3.5 0 3.1-3.3-3.6 0zM489.3 221.5l3.9 0 3.1-3.3-3.9 0z"/><path fill="#ffffc0" d="M470 250.2l3.5 0 3.2-3.3-3.5 0z"/><path fill="#78c8a4" d="M455.6 247.8l3.6 0 2.9-3.3-3.5 0zM460.2 245.4l3.5 0 3-3.3-3.6 0zM466.9 240.6l3.6 0 3-3.3-3.6 0zM478 231.1l3.8 0 3-3.3-3.7 0z"/><path fill="#90d0a4" d="M460.4 247.8l3.5 0 3.1-3.3-3.6 0z"/><path fill="#a0d8a4" d="M462.8 247.8l3.5 0 3.1-3.3-3.6 0zM478.4 233.5l3.6 0 3.1-3.3-3.7 0zM480.6 231.1l3.7 0 3.1-3.3-3.8 0z"/><path fill="#fff8b8" d="M472.3 247.8l3.5 0 3.2-3.3-3.6 0z"/><path fill="#70c4a4" d="M457.8 245.4l3.5 0 3-3.3-3.6 0zM482.4 226.3l3.8 0 3-3.3-3.8 0z"/><path fill="#98d8a4" d="M465 245.4l3.5 0 3.1-3.3-3.6 0zM487.2 223.9l3.8 0 3-3.3-3.8 0z"/><path fill="#fff4ac" d="M474.6 245.4l3.5 0 3.2-3.3-3.6 0z"/><path fill="#64c0a8" d="M459.9 243l3.6 0 2.9-3.3-3.6 0zM473.4 233.5l3.7 0 3-3.3-3.7 0z"/><path fill="#70c8a4" d="M462.3 243l3.6 0 3-3.3-3.6 0zM469 238.3l3.7 0 3-3.4-3.7 0z"/><path fill="#ace0a4" d="M469.6 243l3.5 0 3.1-3.3-3.6 0z"/><path fill="#fff0a4" d="M476.8 243l3.6 0 3.1-3.3-3.6 0z"/><path fill="#5cb8a8" d="M462 240.6l3.6 0 3-3.3-3.6 0zM468.7 235.9l3.7 0 3-3.3-3.7 0z"/><path fill="#68c4a4" d="M464.5 240.6l3.6 0 3-3.3-3.7 0zM484.6 223.9l3.8 0 3-3.3-3.8 0z"/><path fill="#ffe898" d="M479.1 240.6l3.6 0 3.1-3.3-3.6 0z"/><path fill="#58b0ac" d="M464.1 238.3l3.7 0 2.9-3.4-3.6 0z"/><path fill="#60bca8" d="M466.6 238.3l3.6 0 3-3.4-3.6 0zM488.9 219.1l3.9 0 3.1-3.3-3.9 0z"/><path fill="#ffe090" d="M481.3 238.3l3.7 0 3.1-3.4-3.7 0z"/><path fill="#50a8b0" d="M466.3 235.9l3.6 0 3-3.3-3.7 0zM473 231.1l3.7 0 3-3.3-3.7 0zM482 223.9l3.8 0 3-3.3-3.8 0z"/><path fill="#6cc4a4" d="M471.2 235.9l3.7 0 3-3.3-3.7 0z"/><path fill="#84cca4" d="M473.7 235.9l3.6 0 3.1-3.3-3.7 0z"/><path fill="#ffd884" d="M483.6 235.9l3.6 0 3.2-3.3-3.7 0z"/><path fill="#48a0b4" d="M468.4 233.5l3.7 0 2.9-3.3-3.7 0zM475.2 228.7l3.7 0 3-3.3-3.8 0z"/><path fill="#54b0ac" d="M470.9 233.5l3.7 0 3-3.3-3.8 0zM479.9 226.3l3.7 0 3.1-3.3-3.9 0z"/><path fill="#f8fcb4" d="M483.3 233.5l3.7 0 3.2-3.3-3.8 0z"/><path fill="#ffd07c" d="M485.8 233.5l3.7 0 3.2-3.3-3.7 0z"/><path fill="#4098b8" d="M470.5 231.1l3.7 0 3-3.3-3.8 0zM477.3 226.3l3.8 0 3-3.3-3.8 0zM488.5 216.7l3.9 0 3-3.3-3.9 0z"/><path fill="#60b8a8" d="M475.5 231.1l3.7 0 3.1-3.3-3.8 0zM491.1 216.7l3.9 0 3.1-3.3-4 0z"/><path fill="#fcc474" d="M488.1 231.1l3.7 0 3.2-3.3-3.8 0z"/><path fill="#3890b8" d="M472.6 228.7l3.8 0 3-3.3-3.8 0z"/><path fill="#58b4ac" d="M477.7 228.7l3.7 0 3.1-3.3-3.8 0z"/><path fill="#74c8a4" d="M480.2 228.7l3.8 0 3-3.3-3.8 0z"/><path fill="#ffffbc" d="M487.8 228.7l3.8 0 3.1-3.3-3.8 0z"/><path fill="#fcb868" d="M490.3 228.7l3.8 0 3.2-3.3-3.8 0z"/><path fill="#3488bc" d="M474.8 226.3l3.7 0 3-3.3-3.8 0z"/><path fill="#fffcbc" d="M490.1 226.3l3.7 0 3.2-3.3-3.9 0z"/><path fill="#fca860" d="M492.6 226.3l3.8 0 3.1-3.3-3.8 0z"/><path fill="#3880b8" d="M476.9 223.9l3.8 0 3-3.3-3.9 0z"/><path fill="#3c90b8" d="M479.4 223.9l3.8 0 3-3.3-3.8 0z"/><path fill="#fff8b4" d="M492.3 223.9l3.8 0 3.1-3.3-3.8 0z"/><path fill="#f89858" d="M494.9 223.9l3.8 0 3.1-3.3-3.8 0z"/><path fill="#4074b4" d="M479 221.5l3.8 0 3-3.3-3.9 0z"/><path fill="#348cbc" d="M481.6 221.5l3.8 0 3-3.3-3.9 0z"/><path fill="#48a4b0" d="M484.2 221.5l3.8 0 3-3.3-3.8 0z"/><path fill="#64c0a4" d="M486.8 221.5l3.8 0 3-3.3-3.8 0z"/><path fill="#fff4b0" d="M494.5 221.5l3.9 0 3.1-3.3-3.9 0z"/><path fill="#f88850" d="M497.1 221.5l3.8 0 3.2-3.3-3.9 0z"/><path fill="#486cb0" d="M481.1 219.1l3.9 0 3-3.3-3.9 0z"/><path fill="#3484bc" d="M483.7 219.1l3.9 0 3-3.3-3.9 0z"/><path fill="#449cb4" d="M486.3 219.1l3.9 0 3-3.3-3.9 0z"/><path fill="#fff0a8" d="M496.8 219.1l3.8 0 3.2-3.3-3.9 0z"/><path fill="#f87848" d="M499.4 219.1l3.8 0 3.2-3.3-3.9 0z"/><path fill="#4c64ac" d="M483.2 216.7l3.9 0 3-3.3-3.9 0z"/><path fill="#387cb8" d="M485.9 216.7l3.9 0 3-3.3-4 0z"/><path fill="#ffeca0" d="M499 216.7l3.9 0 3.1-3.3-3.9 0z"/><path fill="#f06844" d="M501.6 216.7l3.9 0 3.2-3.3-4 0z"/></g><circle cx="31.23" cy="453.34" r="1.45" fill="#eea32a"/><circle cx="31.23" cy="463.73" r="1.45" fill="#eea32a"/><circle cx="44.22" cy="450.84" r="1.45" fill="#eea32a"/><circle cx="44.22" cy="453.75" r="1.45" fill="#eea32a"/><circle cx="83.18" cy="464.57" r="1.45" fill="#eea32a"/><circle cx="126.48" cy="458.74" r="1.45" fill="#eea32a"/><circle cx="126.48" cy="553.54" r="1.45" fill="#eea32a"/><circle cx="148.12" cy="446.27" r="1.45" fill="#eea32a"/><circle cx="148.12" cy="448.77" r="1.45" fill="#eea32a"/><circle cx="169.77" cy="451.68" r="1.45" fill="#eea32a"/><circle cx="169.77" cy="455.83" r="1.45" fill="#eea32a"/><polyline points="31.23,449.31 33.54,451.27 35.85,453.17 38.15,455 40.46,456.77 42.77,458.47 45.08,460.11 47.39,461.68 49.7,463.19 52.01,464.63 54.32,466.01 56.63,467.33 58.94,468.57 61.25,469.76 63.55,470.88 65.86,471.93 68.17,472.92 70.48,473.84 72.79,474.7 75.1,475.49 77.41,476.22 79.72,476.89 82.03,477.48 84.34,478.02 86.65,478.49 88.95,478.89 91.26,479.23 93.57,479.5 95.88,479.71 98.19,479.86 100.5,479.93 102.81,479.95 105.12,479.9 107.43,479.78 109.74,479.6 112.05,479.35 114.35,479.04 116.66,478.67 118.97,478.23 121.28,477.72 123.59,477.15 125.9,476.51 128.21,475.81 130.52,475.05 132.83,474.22 135.14,473.32 137.45,472.36 139.75,471.34 142.06,470.25 144.37,469.09 146.68,467.87 148.99,466.58 151.3,465.23 153.61,463.82 155.92,462.34 158.23,460.79 160.54,459.18 162.85,457.51 165.15,455.77 167.46,453.96 169.77,452.09" fill="none" stroke="#ff1414" stroke-width="0.9" stroke-dasharray="2.5 1.1"/><rect x="24.3" y="440.2" width="152.4" height="118" fill="none" stroke="#333" stroke-width="0.35"/><line x1="39.89" y1="558.2" x2="39.89" y2="559.4" stroke="#333" stroke-width="0.3"/><text x="39.89" y="563.88" font-size="4" font-family="'DejaVu Sans','Liberation Sans',sans-serif" text-anchor="middle" stroke="#000" stroke-width="0.04">12.5</text><line x1="61.53" y1="558.2" x2="61.53" y2="559.4" stroke="#333" stroke-width="0.3"/><text x="61.53" y="563.88" font-size="4" font-family="'DejaVu Sans','Liberation Sans',sans-serif" text-anchor="middle" stroke="#000" stroke-width="0.04">13.0</text><line x1="83.18" y1="558.2" x2="83.18" y2="559.4" stroke="#333" stroke-width="0.3"/><text x="83.18" y="563.88" font-size="4" font-family="'DejaVu Sans','Liberation Sans',sans-serif" text-anchor="middle" stroke="#000" stroke-width="0.04">13.5</text><line x1="104.83" y1="558.2" x2="104.83" y2="559.4" stroke="#333" stroke-width="0.3"/><text x="104.83" y="563.88" font-size="4" font-family="'DejaVu Sans','Liberation Sans',sans-serif" text-anchor="middle" stroke="#000" stroke-width="0.04">14.0</text><line x1="126.48" y1="558.2" x2="126.48" y2="559.4" stroke="#333" stroke-width="0.3"/><text x="126.48" y="563.88" font-size="4" font-family="'DejaVu Sans','Liberation Sans',sans-serif" text-anchor="middle" stroke="#000" stroke-width="0.04">14.5</text><line x1="148.12" y1="558.2" x2="148.12" y2="559.4" stroke="#333" stroke-width="0.3"/><text x="148.12" y="563.88" font-size="4" font-family="'DejaVu Sans','Liberation Sans',sans-serif" text-anchor="middle" stroke="#000" stroke-width="0.04">15.0</text><line x1="169.77" y1="558.2" x2="169.77" y2="559.4" stroke="#333" stroke-width="0.3"/><text x="169.77" y="563.88" font-size="4" font-family="'DejaVu Sans','Liberation Sans',sans-serif" text-anchor="middle" stroke="#000" stroke-width="0.04">15.5</text><line x1="23.1" y1="554.37" x2="24.3" y2="554.37" stroke="#333" stroke-width="0.3"/><text x="22.2" y="555.81" font-size="4" font-family="'DejaVu Sans','Liberation Sans',sans-serif" text-anchor="end" stroke="#000" stroke-width="0.04">32.0</text><line x1="23.1" y1="533.59" x2="24.3" y2="533.59" stroke="#333" stroke-width="0.3"/><text x="22.2" y="535.03" font-size="4" font-family="'DejaVu Sans','Liberation Sans',sans-serif" text-anchor="end" stroke="#000" stroke-width="0.04">32.5</text><line x1="23.1" y1="512.8" x2="24.3" y2="512.8" stroke="#333" stroke-width="0.3"/><text x="22.2" y="514.24" font-size="4" font-family="'DejaVu Sans','Liberation Sans',sans-serif" text-anchor="end" stroke="#000" stroke-width="0.04">33.0</text><line x1="23.1" y1="492.01" x2="24.3" y2="492.01" stroke="#333" stroke-width="0.3"/><text x="22.2" y="493.45" font-size="4" font-family="'DejaVu Sans','Liberation Sans',sans-serif" text-anchor="end" stroke="#000" stroke-width="0.04">33.5</text><line x1="23.1" y1="471.22" x2="24.3" y2="471.22" stroke="#333" stroke-width="0.3"/><text x="22.2" y="472.66" font-size="4" font-family="'DejaVu Sans','Liberation Sans',sans-serif" text-anchor="end" stroke="#000" stroke-width="0.04">34.0</text><line x1="23.1" y1="450.43" x2="24.3" y2="450.43" stroke="#333" stroke-width="0.3"/><text x="22.2" y="451.87" font-size="4" font-family="'DejaVu Sans','Liberation Sans',sans-serif" text-anchor="end" stroke="#000" stroke-width="0.04">34.5</text><text x="100.5" y="437.4" font-size="4.85" font-family="'DejaVu Sans','Liberation Sans',sans-serif" text-anchor="middle" stroke="#000" stroke-width="0.04">Y vs. X1 with Fitted Curve</text><text x="100.5" y="569.88" font-size="4" font-family="'DejaVu Sans','Liberation Sans',sans-serif" text-anchor="middle" stroke="#000" stroke-width="0.04">Independent Variable 1 (X1)</text><text x="9.6" y="499.2" font-size="4" font-family="'DejaVu Sans','Liberation Sans',sans-serif" text-anchor="middle" transform="rotate(-90 9.6 499.2)" stroke="#000" stroke-width="0.04">Dependent Variable (Y)</text><rect x="26.7" y="541.79" width="39.16" height="15.41" rx="0.9" fill="#fff" fill-opacity="0.8" stroke="#ccc" stroke-width="0.35"/><circle cx="32.37" cy="546.29" r="1.45" fill="#eea32a"/><text x="38.79" y="547.68" font-size="4" font-family="'DejaVu Sans','Liberation Sans',sans-serif" stroke="#000" stroke-width="0.04">Actual Data</text><line x1="28.63" y1="552.49" x2="36.12" y2="552.49" stroke="#ff1414" stroke-width="0.9" stroke-dasharray="2.5 1.1"/><text x="38.79" y="553.88" font-size="4" font-family="'DejaVu Sans','Liberation Sans',sans-serif" stroke="#000" stroke-width="0.04">Fitted Curve</text><circle cx="204.92" cy="453.34" r="1.45" fill="#2a9a2a"/><circle cx="204.92" cy="463.73" r="1.45" fill="#2a9a2a"/><circle cx="204.92" cy="450.84" r="1.45" fill="#2a9a2a"/><circle cx="204.92" cy="453.75" r="1.45" fill="#2a9a2a"/><circle cx="261.93" cy="464.57" r="1.45" fill="#2a9a2a"/><circle cx="302.66" cy="458.74" r="1.45" fill="#2a9a2a"/><circle cx="302.66" cy="553.54" r="1.45" fill="#2a9a2a"/><circle cx="343.38" cy="446.27" r="1.45" fill="#2a9a2a"/><circle cx="343.38" cy="448.77" r="1.45" fill="#2a9a2a"/><circle cx="343.38" cy="451.68" r="1.45" fill="#2a9a2a"/><circle cx="343.38" cy="455.83" r="1.45" fill="#2a9a2a"/><polyline points="204.92,452.51 207.23,454.69 209.54,456.81 211.85,458.85 214.15,460.82 216.46,462.72 218.77,464.54 221.08,466.29 223.38,467.97 225.69,469.58 228,471.12 230.31,472.58 232.61,473.97 234.92,475.29 237.23,476.53 239.54,477.7 241.84,478.8 244.15,479.83 246.46,480.78 248.77,481.67 251.07,482.48 253.38,483.21 255.69,483.88 258,484.47 260.3,484.99 262.61,485.44 264.92,485.81 267.23,486.11 269.53,486.34 271.84,486.5 274.15,486.59 276.46,486.6 278.77,486.54 281.07,486.4 283.38,486.2 285.69,485.92 288,485.57 290.3,485.15 292.61,484.65 294.92,484.09 297.23,483.45 299.53,482.73 301.84,481.95 304.15,481.09 306.46,480.16 308.76,479.16 311.07,478.08 313.38,476.93 315.69,475.71 317.99,474.42 320.3,473.06 322.61,471.62 324.92,470.11 327.22,468.53 329.53,466.87 331.84,465.14 334.15,463.34 336.45,461.47 338.76,459.53 341.07,457.51 343.38,455.42" fill="none" stroke="#ff1414" stroke-width="0.9" stroke-dasharray="2.5 1.1"/><rect x="198" y="440.2" width="152.3" height="118" fill="none" stroke="#333" stroke-width="0.35"/><line x1="200.85" y1="558.2" x2="200.85" y2="559.4" stroke="#333" stroke-width="0.3"/><text x="200.85" y="563.88" font-size="4" font-family="'DejaVu Sans','Liberation Sans',sans-serif" text-anchor="middle" stroke="#000" stroke-width="0.04">525</text><line x1="221.21" y1="558.2" x2="221.21" y2="559.4" stroke="#333" stroke-width="0.3"/><text x="221.21" y="563.88" font-size="4" font-family="'DejaVu Sans','Liberation Sans',sans-serif" text-anchor="middle" stroke="#000" stroke-width="0.04">550</text><line x1="241.57" y1="558.2" x2="241.57" y2="559.4" stroke="#333" stroke-width="0.3"/><text x="241.57" y="563.88" font-size="4" font-family="'DejaVu Sans','Liberation Sans',sans-serif" text-anchor="middle" stroke="#000" stroke-width="0.04">575</text><line x1="261.93" y1="558.2" x2="261.93" y2="559.4" stroke="#333" stroke-width="0.3"/><text x="261.93" y="563.88" font-size="4" font-family="'DejaVu Sans','Liberation Sans',sans-serif" text-anchor="middle" stroke="#000" stroke-width="0.04">600</text><line x1="282.29" y1="558.2" x2="282.29" y2="559.4" stroke="#333" stroke-width="0.3"/><text x="282.29" y="563.88" font-size="4" font-family="'DejaVu Sans','Liberation Sans',sans-serif" text-anchor="middle" stroke="#000" stroke-width="0.04">625</text><line x1="302.66" y1="558.2" x2="302.66" y2="559.4" stroke="#333" stroke-width="0.3"/><text x="302.66" y="563.88" font-size="4" font-family="'DejaVu Sans','Liberation Sans',sans-serif" text-anchor="middle" stroke="#000" stroke-width="0.04">650</text><line x1="323.02" y1="558.2" x2="323.02" y2="559.4" stroke="#333" stroke-width="0.3"/><text x="323.02" y="563.88" font-size="4" font-family="'DejaVu Sans','Liberation Sans',sans-serif" text-anchor="middle" stroke="#000" stroke-width="0.04">675</text><line x1="343.38" y1="558.2" x2="343.38" y2="559.4" stroke="#333" stroke-width="0.3"/><text x="343.38" y="563.88" font-size="4" font-family="'DejaVu Sans','Liberation Sans',sans-serif" text-anchor="middle" stroke="#000" stroke-width="0.04">700</text><line x1="196.8" y1="554.37" x2="198" y2="554.37" stroke="#333" stroke-width="0.3"/><text x="195.9" y="555.81" font-size="4" font-family="'DejaVu Sans','Liberation Sans',sans-serif" text-anchor="end" stroke="#000" stroke-width="0.04">32.0</text><line x1="196.8" y1="533.59" x2="198" y2="533.59" stroke="#333" stroke-width="0.3"/><text x="195.9" y="535.03" font-size="4" font-family="'DejaVu Sans','Liberation Sans',sans-serif" text-anchor="end" stroke="#000" stroke-width="0.04">32.5</text><line x1="196.8" y1="512.8" x2="198" y2="512.8" stroke="#333" stroke-width="0.3"/><text x="195.9" y="514.24" font-size="4" font-family="'DejaVu Sans','Liberation Sans',sans-serif" text-anchor="end" stroke="#000" stroke-width="0.04">33.0</text><line x1="196.8" y1="492.01" x2="198" y2="492.01" stroke="#333" stroke-width="0.3"/><text x="195.9" y="493.45" font-size="4" font-family="'DejaVu Sans','Liberation Sans',sans-serif" text-anchor="end" stroke="#000" stroke-width="0.04">33.5</text><line x1="196.8" y1="471.22" x2="198" y2="471.22" stroke="#333" stroke-width="0.3"/><text x="195.9" y="472.66" font-size="4" font-family="'DejaVu Sans','Liberation Sans',sans-serif" text-anchor="end" stroke="#000" stroke-width="0.04">34.0</text><line x1="196.8" y1="450.43" x2="198" y2="450.43" stroke="#333" stroke-width="0.3"/><text x="195.9" y="451.87" font-size="4" font-family="'DejaVu Sans','Liberation Sans',sans-serif" text-anchor="end" stroke="#000" stroke-width="0.04">34.5</text><text x="274.15" y="437.4" font-size="4.85" font-family="'DejaVu Sans','Liberation Sans',sans-serif" text-anchor="middle" stroke="#000" stroke-width="0.04">Y vs. X2 with Fitted Curve</text><text x="274.15" y="569.88" font-size="4" font-family="'DejaVu Sans','Liberation Sans',sans-serif" text-anchor="middle" stroke="#000" stroke-width="0.04">Independent Variable 2 (X2)</text><text x="183.3" y="499.2" font-size="4" font-family="'DejaVu Sans','Liberation Sans',sans-serif" text-anchor="middle" transform="rotate(-90 183.3 499.2)" stroke="#000" stroke-width="0.04">Dependent Variable (Y)</text><rect x="200.4" y="541.79" width="39.16" height="15.41" rx="0.9" fill="#fff" fill-opacity="0.8" stroke="#ccc" stroke-width="0.35"/><circle cx="206.07" cy="546.29" r="1.45" fill="#2a9a2a"/><text x="212.49" y="547.68" font-size="4" font-family="'DejaVu Sans','Liberation Sans',sans-serif" stroke="#000" stroke-width="0.04">Actual Data</text><line x1="202.33" y1="552.49" x2="209.82" y2="552.49" stroke="#ff1414" stroke-width="0.9" stroke-dasharray="2.5 1.1"/><text x="212.49" y="553.88" font-size="4" font-family="'DejaVu Sans','Liberation Sans',sans-serif" stroke="#000" stroke-width="0.04">Fitted Curve</text><rect x="390" y="446.5" width="66.9" height="110.17" fill="#eea32a"/><rect x="473.8" y="444.78" width="66.6" height="1.72" fill="#2a9a2a"/><rect x="382.1" y="439.2" width="165.8" height="122.6" fill="none" stroke="#333" stroke-width="0.3"/><text x="423.45" y="555.8" font-size="3.53" font-family="'DejaVu Sans','Liberation Sans',sans-serif" text-anchor="middle" fill="#222" stroke="#222" stroke-width="0.04">-0.4688</text><text x="507.1" y="444" font-size="3.53" font-family="'DejaVu Sans','Liberation Sans',sans-serif" text-anchor="middle" fill="#222" stroke="#222" stroke-width="0.04">0.0073</text><line x1="381.1" y1="446.5" x2="382.1" y2="446.5" stroke="#333" stroke-width="0.3"/><text x="380.3" y="447.84" font-size="3.72" font-family="'DejaVu Sans','Liberation Sans',sans-serif" text-anchor="end" stroke="#000" stroke-width="0.04">0.0</text><line x1="381.1" y1="470" x2="382.1" y2="470" stroke="#333" stroke-width="0.3"/><text x="380.3" y="471.34" font-size="3.72" font-family="'DejaVu Sans','Liberation Sans',sans-serif" text-anchor="end" stroke="#000" stroke-width="0.04">−0.1</text><line x1="381.1" y1="493.5" x2="382.1" y2="493.5" stroke="#333" stroke-width="0.3"/><text x="380.3" y="494.84" font-size="3.72" font-family="'DejaVu Sans','Liberation Sans',sans-serif" text-anchor="end" stroke="#000" stroke-width="0.04">−0.2</text><line x1="381.1" y1="517" x2="382.1" y2="517" stroke="#333" stroke-width="0.3"/><text x="380.3" y="518.34" font-size="3.72" font-family="'DejaVu Sans','Liberation Sans',sans-serif" text-anchor="end" stroke="#000" stroke-width="0.04">−0.3</text><line x1="381.1" y1="540.5" x2="382.1" y2="540.5" stroke="#333" stroke-width="0.3"/><text x="380.3" y="541.84" font-size="3.72" font-family="'DejaVu Sans','Liberation Sans',sans-serif" text-anchor="end" stroke="#000" stroke-width="0.04">−0.4</text><line x1="423.45" y1="561.8" x2="423.45" y2="562.8" stroke="#333" stroke-width="0.3"/><text x="423.45" y="566.89" font-size="3.72" font-family="'DejaVu Sans','Liberation Sans',sans-serif" text-anchor="middle" stroke="#000" stroke-width="0.04">Independent Variable 1 (X1)</text><line x1="507.1" y1="561.8" x2="507.1" y2="562.8" stroke="#333" stroke-width="0.3"/><text x="507.1" y="566.89" font-size="3.72" font-family="'DejaVu Sans','Liberation Sans',sans-serif" text-anchor="middle" stroke="#000" stroke-width="0.04">Independent Variable 2 (X2)</text><text x="465" y="437.3" font-size="4.4" font-family="'DejaVu Sans','Liberation Sans',sans-serif" text-anchor="middle" stroke="#000" stroke-width="0.04">PLS Regression Coefficients for X1 and X2</text><text x="465" y="572.66" font-size="3.72" font-family="'DejaVu Sans','Liberation Sans',sans-serif" text-anchor="middle" stroke="#000" stroke-width="0.04">Variables</text><text x="368.5" y="500.5" font-size="3.72" font-family="'DejaVu Sans','Liberation Sans',sans-serif" text-anchor="middle" transform="rotate(-90 368.5 500.5)" stroke="#000" stroke-width="0.04">PLS Regression Coefficients</text><rect x="27.65" y="609.15" width="23.27" height="21.7" fill="#f78921"/><rect x="50.82" y="609.15" width="23.27" height="21.7" fill="#feae3b"/><rect x="73.98" y="609.15" width="23.27" height="21.7" fill="#fecf67"/><rect x="97.15" y="609.15" width="23.27" height="21.7" fill="#fee89b"/><rect x="120.32" y="609.15" width="23.27" height="21.7" fill="#fff8c1"/><rect x="143.48" y="609.15" width="23.27" height="21.7" fill="#ffffe5"/><rect x="27.65" y="630.75" width="23.27" height="21.7" fill="#e96c12"/><rect x="50.82" y="630.75" width="23.27" height="21.7" fill="#fa9024"/><rect x="73.98" y="630.75" width="23.27" height="21.7" fill="#feb542"/><rect x="97.15" y="630.75" width="23.27" height="21.7" fill="#fed573"/><rect x="120.32" y="630.75" width="23.27" height="21.7" fill="#feeba3"/><rect x="143.48" y="630.75" width="23.27" height="21.7" fill="#fff9c8"/><rect x="27.65" y="652.35" width="23.27" height="21.7" fill="#d15205"/><rect x="50.82" y="652.35" width="23.27" height="21.7" fill="#ed7215"/><rect x="73.98" y="652.35" width="23.27" height="21.7" fill="#fd9627"/><rect x="97.15" y="652.35" width="23.27" height="21.7" fill="#febc48"/><rect x="120.32" y="652.35" width="23.27" height="21.7" fill="#fed97c"/><rect x="143.48" y="652.35" width="23.27" height="21.7" fill="#ffeea9"/><rect x="27.65" y="673.95" width="23.27" height="21.7" fill="#af3e03"/><rect x="50.82" y="673.95" width="23.27" height="21.7" fill="#d65708"/><rect x="73.98" y="673.95" width="23.27" height="21.7" fill="#ef7818"/><rect x="97.15" y="673.95" width="23.27" height="21.7" fill="#fe9c2c"/><rect x="120.32" y="673.95" width="23.27" height="21.7" fill="#fec24d"/><rect x="143.48" y="673.95" width="23.27" height="21.7" fill="#fede86"/><rect x="27.65" y="695.55" width="23.27" height="21.7" fill="#8a3005"/><rect x="50.82" y="695.55" width="23.27" height="21.7" fill="#b74203"/><rect x="73.98" y="695.55" width="23.27" height="21.7" fill="#db5d0a"/><rect x="97.15" y="695.55" width="23.27" height="21.7" fill="#f27e1b"/><rect x="120.32" y="695.55" width="23.27" height="21.7" fill="#fea231"/><rect x="143.48" y="695.55" width="23.27" height="21.7" fill="#fec756"/><rect x="27.65" y="717.15" width="23.27" height="21.7" fill="#662506"/><rect x="50.82" y="717.15" width="23.27" height="21.7" fill="#933204"/><rect x="73.98" y="717.15" width="23.27" height="21.7" fill="#c04602"/><rect x="97.15" y="717.15" width="23.27" height="21.7" fill="#e0630d"/><rect x="120.32" y="717.15" width="23.27" height="21.7" fill="#f5851f"/><rect x="143.48" y="717.15" width="23.27" height="21.7" fill="#feaa38"/><text x="39.28" y="621.26" font-size="3.5" font-family="'DejaVu Sans','Liberation Sans',sans-serif" text-anchor="middle" fill="#fff">34.29</text><text x="62.45" y="621.26" font-size="3.5" font-family="'DejaVu Sans','Liberation Sans',sans-serif" text-anchor="middle" fill="#262626">33.99</text><text x="85.62" y="621.26" font-size="3.5" font-family="'DejaVu Sans','Liberation Sans',sans-serif" text-anchor="middle" fill="#262626">33.69</text><text x="108.78" y="621.26" font-size="3.5" font-family="'DejaVu Sans','Liberation Sans',sans-serif" text-anchor="middle" fill="#262626">33.39</text><text x="131.95" y="621.26" font-size="3.5" font-family="'DejaVu Sans','Liberation Sans',sans-serif" text-anchor="middle" fill="#262626">33.09</text><text x="155.12" y="621.26" font-size="3.5" font-family="'DejaVu Sans','Liberation Sans',sans-serif" text-anchor="middle" fill="#262626">32.79</text><text x="39.28" y="642.86" font-size="3.5" font-family="'DejaVu Sans','Liberation Sans',sans-serif" text-anchor="middle" fill="#fff">34.53</text><text x="62.45" y="642.86" font-size="3.5" font-family="'DejaVu Sans','Liberation Sans',sans-serif" text-anchor="middle" fill="#fff">34.23</text><text x="85.62" y="642.86" font-size="3.5" font-family="'DejaVu Sans','Liberation Sans',sans-serif" text-anchor="middle" fill="#262626">33.93</text><text x="108.78" y="642.86" font-size="3.5" font-family="'DejaVu Sans','Liberation Sans',sans-serif" text-anchor="middle" fill="#262626">33.63</text><text x="131.95" y="642.86" font-size="3.5" font-family="'DejaVu Sans','Liberation Sans',sans-serif" text-anchor="middle" fill="#262626">33.33</text><text x="155.12" y="642.86" font-size="3.5" font-family="'DejaVu Sans','Liberation Sans',sans-serif" text-anchor="middle" fill="#262626">33.03</text><text x="39.28" y="664.46" font-size="3.5" font-family="'DejaVu Sans','Liberation Sans',sans-serif" text-anchor="middle" fill="#fff">34.78</text><text x="62.45" y="664.46" font-size="3.5" font-family="'DejaVu Sans','Liberation Sans',sans-serif" text-anchor="middle" fill="#fff">34.48</text><text x="85.62" y="664.46" font-size="3.5" font-family="'DejaVu Sans','Liberation Sans',sans-serif" text-anchor="middle" fill="#262626">34.18</text><text x="108.78" y="664.46" font-size="3.5" font-family="'DejaVu Sans','Liberation Sans',sans-serif" text-anchor="middle" fill="#262626">33.88</text><text x="131.95" y="664.46" font-size="3.5" font-family="'DejaVu Sans','Liberation Sans',sans-serif" text-anchor="middle" fill="#262626">33.58</text><text x="155.12" y="664.46" font-size="3.5" font-family="'DejaVu Sans','Liberation Sans',sans-serif" text-anchor="middle" fill="#262626">33.28</text><text x="39.28" y="686.06" font-size="3.5" font-family="'DejaVu Sans','Liberation Sans',sans-serif" text-anchor="middle" fill="#fff">35.03</text><text x="62.45" y="686.06" font-size="3.5" font-family="'DejaVu Sans','Liberation Sans',sans-serif" text-anchor="middle" fill="#fff">34.73</text><text x="85.62" y="686.06" font-size="3.5" font-family="'DejaVu Sans','Liberation Sans',sans-serif" text-anchor="middle" fill="#fff">34.43</text><text x="108.78" y="686.06" font-size="3.5" font-family="'DejaVu Sans','Liberation Sans',sans-serif" text-anchor="middle" fill="#262626">34.13</text><text x="131.95" y="686.06" font-size="3.5" font-family="'DejaVu Sans','Liberation Sans',sans-serif" text-anchor="middle" fill="#262626">33.83</text><text x="155.12" y="686.06" font-size="3.5" font-family="'DejaVu Sans','Liberation Sans',sans-serif" text-anchor="middle" fill="#262626">33.53</text><text x="39.28" y="707.66" font-size="3.5" font-family="'DejaVu Sans','Liberation Sans',sans-serif" text-anchor="middle" fill="#fff">35.28</text><text x="62.45" y="707.66" font-size="3.5" font-family="'DejaVu Sans','Liberation Sans',sans-serif" text-anchor="middle" fill="#fff">34.98</text><text x="85.62" y="707.66" font-size="3.5" font-family="'DejaVu Sans','Liberation Sans',sans-serif" text-anchor="middle" fill="#fff">34.68</text><text x="108.78" y="707.66" font-size="3.5" font-family="'DejaVu Sans','Liberation Sans',sans-serif" text-anchor="middle" fill="#fff">34.38</text><text x="131.95" y="707.66" font-size="3.5" font-family="'DejaVu Sans','Liberation Sans',sans-serif" text-anchor="middle" fill="#262626">34.08</text><text x="155.12" y="707.66" font-size="3.5" font-family="'DejaVu Sans','Liberation Sans',sans-serif" text-anchor="middle" fill="#262626">33.78</text><text x="39.28" y="729.26" font-size="3.5" font-family="'DejaVu Sans','Liberation Sans',sans-serif" text-anchor="middle" fill="#fff">35.52</text><text x="62.45" y="729.26" font-size="3.5" font-family="'DejaVu Sans','Liberation Sans',sans-serif" text-anchor="middle" fill="#fff">35.22</text><text x="85.62" y="729.26" font-size="3.5" font-family="'DejaVu Sans','Liberation Sans',sans-serif" text-anchor="middle" fill="#fff">34.92</text><text x="108.78" y="729.26" font-size="3.5" font-family="'DejaVu Sans','Liberation Sans',sans-serif" text-anchor="middle" fill="#fff">34.62</text><text x="131.95" y="729.26" font-size="3.5" font-family="'DejaVu Sans','Liberation Sans',sans-serif" text-anchor="middle" fill="#fff">34.32</text><text x="155.12" y="729.26" font-size="3.5" font-family="'DejaVu Sans','Liberation Sans',sans-serif" text-anchor="middle" fill="#262626">34.02</text><line x1="26.7" y1="620" x2="27.7" y2="620" stroke="#333" stroke-width="0.3"/><text x="25.7" y="620" font-size="3.7" font-family="'DejaVu Sans','Liberation Sans',sans-serif" text-anchor="middle" transform="rotate(-90 25.7 620)" stroke="#000" stroke-width="0.04">530.0</text><line x1="39.28" y1="738.8" x2="39.28" y2="739.8" stroke="#333" stroke-width="0.3"/><text x="39.28" y="744.05" font-size="3.7" font-family="'DejaVu Sans','Liberation Sans',sans-serif" text-anchor="middle" stroke="#000" stroke-width="0.04">12.3</text><line x1="26.7" y1="641.6" x2="27.7" y2="641.6" stroke="#333" stroke-width="0.3"/><text x="25.7" y="641.6" font-size="3.7" font-family="'DejaVu Sans','Liberation Sans',sans-serif" text-anchor="middle" transform="rotate(-90 25.7 641.6)" stroke="#000" stroke-width="0.04">564.0</text><line x1="62.45" y1="738.8" x2="62.45" y2="739.8" stroke="#333" stroke-width="0.3"/><text x="62.45" y="744.05" font-size="3.7" font-family="'DejaVu Sans','Liberation Sans',sans-serif" text-anchor="middle" stroke="#000" stroke-width="0.04">12.94</text><line x1="26.7" y1="663.2" x2="27.7" y2="663.2" stroke="#333" stroke-width="0.3"/><text x="25.7" y="663.2" font-size="3.7" font-family="'DejaVu Sans','Liberation Sans',sans-serif" text-anchor="middle" transform="rotate(-90 25.7 663.2)" stroke="#000" stroke-width="0.04">598.0</text><line x1="85.62" y1="738.8" x2="85.62" y2="739.8" stroke="#333" stroke-width="0.3"/><text x="85.62" y="744.05" font-size="3.7" font-family="'DejaVu Sans','Liberation Sans',sans-serif" text-anchor="middle" stroke="#000" stroke-width="0.04">13.58</text><line x1="26.7" y1="684.8" x2="27.7" y2="684.8" stroke="#333" stroke-width="0.3"/><text x="25.7" y="684.8" font-size="3.7" font-family="'DejaVu Sans','Liberation Sans',sans-serif" text-anchor="middle" transform="rotate(-90 25.7 684.8)" stroke="#000" stroke-width="0.04">632.0</text><line x1="108.78" y1="738.8" x2="108.78" y2="739.8" stroke="#333" stroke-width="0.3"/><text x="108.78" y="744.05" font-size="3.7" font-family="'DejaVu Sans','Liberation Sans',sans-serif" text-anchor="middle" stroke="#000" stroke-width="0.04">14.22</text><line x1="26.7" y1="706.4" x2="27.7" y2="706.4" stroke="#333" stroke-width="0.3"/><text x="25.7" y="706.4" font-size="3.7" font-family="'DejaVu Sans','Liberation Sans',sans-serif" text-anchor="middle" transform="rotate(-90 25.7 706.4)" stroke="#000" stroke-width="0.04">666.0</text><line x1="131.95" y1="738.8" x2="131.95" y2="739.8" stroke="#333" stroke-width="0.3"/><text x="131.95" y="744.05" font-size="3.7" font-family="'DejaVu Sans','Liberation Sans',sans-serif" text-anchor="middle" stroke="#000" stroke-width="0.04">14.86</text><line x1="26.7" y1="728" x2="27.7" y2="728" stroke="#333" stroke-width="0.3"/><text x="25.7" y="728" font-size="3.7" font-family="'DejaVu Sans','Liberation Sans',sans-serif" text-anchor="middle" transform="rotate(-90 25.7 728)" stroke="#000" stroke-width="0.04">700.0</text><line x1="155.12" y1="738.8" x2="155.12" y2="739.8" stroke="#333" stroke-width="0.3"/><text x="155.12" y="744.05" font-size="3.7" font-family="'DejaVu Sans','Liberation Sans',sans-serif" text-anchor="middle" stroke="#000" stroke-width="0.04">15.5</text><text x="97.2" y="749.97" font-size="3.7" font-family="'DejaVu Sans','Liberation Sans',sans-serif" text-anchor="middle" stroke="#000" stroke-width="0.04">Independent Variable 1 (X1)</text><text x="17.5" y="674" font-size="3.7" font-family="'DejaVu Sans','Liberation Sans',sans-serif" text-anchor="middle" transform="rotate(-90 17.5 674)" stroke="#000" stroke-width="0.04">Independent Variable 2 (X2)</text><text x="96.6" y="607.3" font-size="4.6" font-family="'DejaVu Sans','Liberation Sans',sans-serif" text-anchor="middle" stroke="#000" stroke-width="0.04">Heatmap of Predicted Y Values with PLS Regression (YlOrBr Color Map)</text><rect x="175.2" y="609.2" width="6.4" height="129.6" fill="url(#gB)"/><line x1="181.6" y1="610.7" x2="182.6" y2="610.7" stroke="#333" stroke-width="0.3"/><text x="183.5" y="612.03" font-size="3.7" font-family="'DejaVu Sans','Liberation Sans',sans-serif" stroke="#000" stroke-width="0.04">35.5</text><line x1="181.6" y1="634.35" x2="182.6" y2="634.35" stroke="#333" stroke-width="0.3"/><text x="183.5" y="635.68" font-size="3.7" font-family="'DejaVu Sans','Liberation Sans',sans-serif" stroke="#000" stroke-width="0.04">35.0</text><line x1="181.6" y1="658" x2="182.6" y2="658" stroke="#333" stroke-width="0.3"/><text x="183.5" y="659.33" font-size="3.7" font-family="'DejaVu Sans','Liberation Sans',sans-serif" stroke="#000" stroke-width="0.04">34.5</text><line x1="181.6" y1="681.65" x2="182.6" y2="681.65" stroke="#333" stroke-width="0.3"/><text x="183.5" y="682.98" font-size="3.7" font-family="'DejaVu Sans','Liberation Sans',sans-serif" stroke="#000" stroke-width="0.04">34.0</text><line x1="181.6" y1="705.3" x2="182.6" y2="705.3" stroke="#333" stroke-width="0.3"/><text x="183.5" y="706.63" font-size="3.7" font-family="'DejaVu Sans','Liberation Sans',sans-serif" stroke="#000" stroke-width="0.04">33.5</text><line x1="181.6" y1="728.95" x2="182.6" y2="728.95" stroke="#333" stroke-width="0.3"/><text x="183.5" y="730.28" font-size="3.7" font-family="'DejaVu Sans','Liberation Sans',sans-serif" stroke="#000" stroke-width="0.04">33.0</text><text x="195.5" y="674" font-size="3.7" font-family="'DejaVu Sans','Liberation Sans',sans-serif" text-anchor="middle" transform="rotate(-90 195.5 674)" stroke="#000" stroke-width="0.04">Predicted Y Value</text><rect x="402" y="616.7" width="129.1" height="119.8" fill="none" stroke="#333" stroke-width="0.3"/><line x1="410.07" y1="736.5" x2="410.07" y2="737.4" stroke="#333" stroke-width="0.3"/><text x="410.07" y="741.48" font-size="3.55" font-family="'DejaVu Sans','Liberation Sans',sans-serif" text-anchor="middle" stroke="#000" stroke-width="0.04">12.5</text><line x1="430.24" y1="736.5" x2="430.24" y2="737.4" stroke="#333" stroke-width="0.3"/><text x="430.24" y="741.48" font-size="3.55" font-family="'DejaVu Sans','Liberation Sans',sans-serif" text-anchor="middle" stroke="#000" stroke-width="0.04">13.0</text><line x1="450.41" y1="736.5" x2="450.41" y2="737.4" stroke="#333" stroke-width="0.3"/><text x="450.41" y="741.48" font-size="3.55" font-family="'DejaVu Sans','Liberation Sans',sans-serif" text-anchor="middle" stroke="#000" stroke-width="0.04">13.5</text><line x1="470.58" y1="736.5" x2="470.58" y2="737.4" stroke="#333" stroke-width="0.3"/><text x="470.58" y="741.48" font-size="3.55" font-family="'DejaVu Sans','Liberation Sans',sans-serif" text-anchor="middle" stroke="#000" stroke-width="0.04">14.0</text><line x1="490.76" y1="736.5" x2="490.76" y2="737.4" stroke="#333" stroke-width="0.3"/><text x="490.76" y="741.48" font-size="3.55" font-family="'DejaVu Sans','Liberation Sans',sans-serif" text-anchor="middle" stroke="#000" stroke-width="0.04">14.5</text><line x1="510.93" y1="736.5" x2="510.93" y2="737.4" stroke="#333" stroke-width="0.3"/><text x="510.93" y="741.48" font-size="3.55" font-family="'DejaVu Sans','Liberation Sans',sans-serif" text-anchor="middle" stroke="#000" stroke-width="0.04">15.0</text><line x1="531.1" y1="736.5" x2="531.1" y2="737.4" stroke="#333" stroke-width="0.3"/><text x="531.1" y="741.48" font-size="3.55" font-family="'DejaVu Sans','Liberation Sans',sans-serif" text-anchor="middle" stroke="#000" stroke-width="0.04">15.5</text><line x1="401.1" y1="729.45" x2="402" y2="729.45" stroke="#333" stroke-width="0.3"/><text x="400.3" y="730.73" font-size="3.55" font-family="'DejaVu Sans','Liberation Sans',sans-serif" text-anchor="end" stroke="#000" stroke-width="0.04">540</text><line x1="401.1" y1="715.36" x2="402" y2="715.36" stroke="#333" stroke-width="0.3"/><text x="400.3" y="716.64" font-size="3.55" font-family="'DejaVu Sans','Liberation Sans',sans-serif" text-anchor="end" stroke="#000" stroke-width="0.04">560</text><line x1="401.1" y1="701.26" x2="402" y2="701.26" stroke="#333" stroke-width="0.3"/><text x="400.3" y="702.54" font-size="3.55" font-family="'DejaVu Sans','Liberation Sans',sans-serif" text-anchor="end" stroke="#000" stroke-width="0.04">580</text><line x1="401.1" y1="687.17" x2="402" y2="687.17" stroke="#333" stroke-width="0.3"/><text x="400.3" y="688.45" font-size="3.55" font-family="'DejaVu Sans','Liberation Sans',sans-serif" text-anchor="end" stroke="#000" stroke-width="0.04">600</text><line x1="401.1" y1="673.08" x2="402" y2="673.08" stroke="#333" stroke-width="0.3"/><text x="400.3" y="674.35" font-size="3.55" font-family="'DejaVu Sans','Liberation Sans',sans-serif" text-anchor="end" stroke="#000" stroke-width="0.04">620</text><line x1="401.1" y1="658.98" x2="402" y2="658.98" stroke="#333" stroke-width="0.3"/><text x="400.3" y="660.26" font-size="3.55" font-family="'DejaVu Sans','Liberation Sans',sans-serif" text-anchor="end" stroke="#000" stroke-width="0.04">640</text><line x1="401.1" y1="644.89" x2="402" y2="644.89" stroke="#333" stroke-width="0.3"/><text x="400.3" y="646.17" font-size="3.55" font-family="'DejaVu Sans','Liberation Sans',sans-serif" text-anchor="end" stroke="#000" stroke-width="0.04">660</text><line x1="401.1" y1="630.79" x2="402" y2="630.79" stroke="#333" stroke-width="0.3"/><text x="400.3" y="632.07" font-size="3.55" font-family="'DejaVu Sans','Liberation Sans',sans-serif" text-anchor="end" stroke="#000" stroke-width="0.04">680</text><line x1="401.1" y1="616.7" x2="402" y2="616.7" stroke="#333" stroke-width="0.3"/><text x="400.3" y="617.98" font-size="3.55" font-family="'DejaVu Sans','Liberation Sans',sans-serif" text-anchor="end" stroke="#000" stroke-width="0.04">700</text><text x="466.55" y="746.7" font-size="3.55" font-family="'DejaVu Sans','Liberation Sans',sans-serif" text-anchor="middle" stroke="#000" stroke-width="0.04">Independent Variable 1 (X1)</text><text x="390.1" y="676.6" font-size="3.55" font-family="'DejaVu Sans','Liberation Sans',sans-serif" text-anchor="middle" transform="rotate(-90 390.1 676.6)" stroke="#000" stroke-width="0.04">Independent Variable 2 (X2)</text><text x="466.5" y="613.5" font-size="4.3" font-family="'DejaVu Sans','Liberation Sans',sans-serif" text-anchor="middle" stroke="#000" stroke-width="0.04">Contour Plot of Interpolated Y with Gradual Gradient (YlOrBr Color Map)</text><rect x="539.3" y="616.7" width="6.2" height="119.8" fill="url(#gcB)" stroke="#999" stroke-width="0.15"/><line x1="545.5" y1="736.5" x2="546.4" y2="736.5" stroke="#333" stroke-width="0.3"/><text x="547.2" y="737.78" font-size="3.55" font-family="'DejaVu Sans','Liberation Sans',sans-serif" stroke="#000" stroke-width="0.04">31.8</text><line x1="545.5" y1="723.6" x2="546.4" y2="723.6" stroke="#333" stroke-width="0.3"/><text x="547.2" y="724.88" font-size="3.55" font-family="'DejaVu Sans','Liberation Sans',sans-serif" stroke="#000" stroke-width="0.04">32.1</text><line x1="545.5" y1="710.7" x2="546.4" y2="710.7" stroke="#333" stroke-width="0.3"/><text x="547.2" y="711.98" font-size="3.55" font-family="'DejaVu Sans','Liberation Sans',sans-serif" stroke="#000" stroke-width="0.04">32.4</text><line x1="545.5" y1="697.8" x2="546.4" y2="697.8" stroke="#333" stroke-width="0.3"/><text x="547.2" y="699.08" font-size="3.55" font-family="'DejaVu Sans','Liberation Sans',sans-serif" stroke="#000" stroke-width="0.04">32.7</text><line x1="545.5" y1="684.9" x2="546.4" y2="684.9" stroke="#333" stroke-width="0.3"/><text x="547.2" y="686.18" font-size="3.55" font-family="'DejaVu Sans','Liberation Sans',sans-serif" stroke="#000" stroke-width="0.04">33.0</text><line x1="545.5" y1="672" x2="546.4" y2="672" stroke="#333" stroke-width="0.3"/><text x="547.2" y="673.28" font-size="3.55" font-family="'DejaVu Sans','Liberation Sans',sans-serif" stroke="#000" stroke-width="0.04">33.3</text><line x1="545.5" y1="659.1" x2="546.4" y2="659.1" stroke="#333" stroke-width="0.3"/><text x="547.2" y="660.38" font-size="3.55" font-family="'DejaVu Sans','Liberation Sans',sans-serif" stroke="#000" stroke-width="0.04">33.6</text><line x1="545.5" y1="646.2" x2="546.4" y2="646.2" stroke="#333" stroke-width="0.3"/><text x="547.2" y="647.48" font-size="3.55" font-family="'DejaVu Sans','Liberation Sans',sans-serif" stroke="#000" stroke-width="0.04">33.9</text><line x1="545.5" y1="633.3" x2="546.4" y2="633.3" stroke="#333" stroke-width="0.3"/><text x="547.2" y="634.58" font-size="3.55" font-family="'DejaVu Sans','Liberation Sans',sans-serif" stroke="#000" stroke-width="0.04">34.2</text><line x1="545.5" y1="620.4" x2="546.4" y2="620.4" stroke="#333" stroke-width="0.3"/><text x="547.2" y="621.68" font-size="3.55" font-family="'DejaVu Sans','Liberation Sans',sans-serif" stroke="#000" stroke-width="0.04">34.5</text><text x="560.83" y="676.6" font-size="3.55" font-family="'DejaVu Sans','Liberation Sans',sans-serif" text-anchor="middle" transform="rotate(-90 560.83 676.6)" stroke="#000" stroke-width="0.04">Interpolated Y Value</text><g><path fill="#883004" d="M401.1 737l3.3 0 3.1-3.5-3.3 0zM403.6 737l3.2 0 3.2-3.5-3.3 0zM406 737l3.3 0 3.2-3.5-3.4 0zM413.2 737l3.3 0 3.3-3.5-3.3 0zM403.4 734.5l3.3 0 3.1-3.5-3.4 0zM405.8 734.5l3.3 0 3.2-3.5-3.4 0zM408.2 734.5l3.4 0 3.2-3.5-3.4 0zM405.6 732l3.3 0 3.2-3.5-3.4 0zM408.1 732l3.3 0 3.2-3.5-3.4 0zM407.8 729.5l3.4 0 3.1-3.5-3.4 0zM410.3 729.5l3.4 0 3.2-3.5-3.5 0zM410 727l3.5 0 3.1-3.5-3.5 0zM412.5 727l3.5 0 3.1-3.5-3.4 0zM412.3 724.5l3.4 0 3.1-3.5-3.5 0zM414.5 722l3.5 0 3.1-3.5-3.6 0zM416.7 719.5l3.5 0 3.2-3.4-3.6 0zM418.9 717l3.6 0 3.1-3.4-3.6 0zM421.1 714.5l3.7 0 3.1-3.4-3.7 0z"/><path fill="#8c3004" d="M408.4 737l3.3 0 3.2-3.5-3.3 0zM410.8 737l3.3 0 3.3-3.5-3.4 0zM410.7 734.5l3.3 0 3.2-3.5-3.3 0zM413.1 734.5l3.3 0 3.3-3.5-3.3 0zM415.6 734.5l3.3 0 3.3-3.5-3.4 0zM410.5 732l3.4 0 3.2-3.5-3.4 0zM413 732l3.3 0 3.3-3.5-3.4 0zM417.9 732l3.4 0 3.3-3.5-3.4 0zM412.8 729.5l3.4 0 3.2-3.5-3.5 0zM414.8 724.5l3.5 0 3.1-3.5-3.5 0zM417 722l3.6 0 3.1-3.5-3.5 0zM419.3 719.5l3.5 0 3.2-3.4-3.6 0zM423.4 712l3.6 0 3.1-3.4-3.7 0zM425.6 709.5l3.7 0 3.1-3.4-3.7 0zM427.8 707l3.7 0 3.2-3.4-3.8 0zM430 704.5l3.8 0 3.1-3.4-3.8 0zM501.2 624.7l4.9 0 3.1-3.5-5 0zM503.4 622.2l4.9 0 3.1-3.5-5 0zM505.6 619.7l5 0 3.1-3.5-5 0z"/><path fill="#903004" d="M415.5 732l3.3 0 3.3-3.5-3.4 0zM415.3 729.5l3.4 0 3.2-3.5-3.4 0zM417.8 729.5l3.4 0 3.3-3.5-3.5 0zM420.3 729.5l3.4 0 3.3-3.5-3.5 0zM415.1 727l3.4 0 3.2-3.5-3.5 0zM417.6 727l3.4 0 3.3-3.5-3.5 0zM422.6 727l3.5 0 3.3-3.5-3.5 0zM417.3 724.5l3.5 0 3.2-3.5-3.5 0zM425 724.5l3.5 0 3.3-3.5-3.5 0zM421.5 717l3.6 0 3.2-3.4-3.6 0zM423.8 714.5l3.6 0 3.2-3.4-3.7 0zM432.3 702l3.7 0 3.2-3.4-3.9 0zM434.5 699.5l3.8 0 3.1-3.4-3.8 0zM436.7 697l3.9 0 3.1-3.4-3.9 0zM438.9 694.6l3.9 0 3.1-3.5-3.9 0zM441.1 692.1l4 0 3.1-3.5-4 0zM492.3 634.7l4.7 0 3.2-3.5-4.9 0zM494.5 632.2l4.8 0 3.1-3.5-4.8 0zM496.7 629.7l4.8 0 3.2-3.5-4.9 0zM498.9 627.2l4.9 0 3.1-3.5-4.9 0z"/><path fill="#943004" d="M420.1 727l3.4 0 3.3-3.5-3.5 0zM419.6 722l3.5 0 3.2-3.5-3.5 0zM426 712l3.7 0 3.2-3.4-3.7 0zM443.4 689.6l3.9 0 3.2-3.5-4.1 0zM490 637.1l4.8 0 3.1-3.4-4.8 0z"/><path fill="#983404" d="M419.9 724.5l3.5 0 3.2-3.5-3.5 0zM422.4 724.5l3.5 0 3.3-3.5-3.5 0zM422.2 722l3.5 0 3.2-3.5-3.5 0zM427.3 722l3.6 0 3.3-3.5-3.6 0zM421.9 719.5l3.5 0 3.2-3.4-3.6 0zM429.7 719.5l3.5 0 3.4-3.4-3.6 0zM424.2 717l3.5 0 3.2-3.4-3.6 0zM428.3 709.5l3.7 0 3.1-3.4-3.7 0zM430.5 707l3.8 0 3.1-3.4-3.7 0zM447.8 684.6l4.1 0 3.1-3.5-4.1 0zM450 682.1l4.1 0 3.1-3.5-4.1 0zM452.3 679.6l4.1 0 3.1-3.5-4.2 0zM454.5 677.1l4.1 0 3.2-3.5-4.2 0zM456.7 674.6l4.2 0 3.1-3.5-4.2 0zM458.9 672.1l4.2 0 3.2-3.5-4.3 0zM472.3 657.1l4.4 0 3.1-3.4-4.5 0zM474.5 654.6l4.5 0 3.1-3.4-4.5 0zM476.7 652.1l4.5 0 3.1-3.4-4.5 0zM478.9 649.6l4.6 0 3.1-3.4-4.6 0zM481.1 647.1l4.6 0 3.2-3.4-4.7 0zM483.4 644.6l4.6 0 3.1-3.4-4.7 0zM507 622.2l5 0 3.1-3.5-5 0zM509.3 619.7l4.9 0 3.2-3.5-5 0z"/><path fill="#9c3404" d="M424.8 722l3.5 0 3.2-3.5-3.5 0zM432.8 704.5l3.7 0 3.2-3.4-3.8 0zM461.1 669.6l4.3 0 3.1-3.5-4.3 0zM463.4 667.1l4.3 0 3.1-3.5-4.4 0zM465.6 664.6l4.3 0 3.2-3.5-4.4 0zM467.8 662.1l4.4 0 3.1-3.5-4.4 0zM470 659.6l4.4 0 3.2-3.4-4.5 0z"/><path fill="#a03804" d="M424.5 719.5l3.5 0 3.3-3.4-3.6 0zM427.1 719.5l3.5 0 3.3-3.4-3.6 0zM432.1 717l3.5 0 3.3-3.4-3.6 0zM426.5 714.5l3.6 0 3.2-3.4-3.7 0zM435 702l3.8 0 3.2-3.4-3.8 0zM502.5 627.2l4.9 0 3.2-3.5-5 0zM504.8 624.7l4.9 0 3.1-3.5-4.9 0z"/><path fill="#a83804" d="M426.8 717l3.6 0 3.2-3.4-3.6 0zM434.4 714.5l3.6 0 3.3-3.4-3.6 0zM500.3 629.7l4.8 0 3.2-3.5-4.9 0z"/><path fill="#a83c04" d="M429.4 717l3.6 0 3.3-3.4-3.6 0zM439.5 697l3.9 0 3.2-3.4-3.9 0z"/><path fill="#b04004" d="M429.1 714.5l3.6 0 3.3-3.4-3.7 0zM431.8 714.5l3.6 0 3.2-3.4-3.6 0zM444 692.1l4 0 3.1-3.5-3.9 0zM495.8 634.7l4.7 0 3.2-3.5-4.8 0zM512.9 619.7l5 0 3.2-3.5-5 0z"/><path fill="#a43804" d="M428.7 712l3.7 0 3.2-3.4-3.7 0zM437.3 699.5l3.8 0 3.2-3.4-3.9 0z"/><path fill="#b84404" d="M431.4 712l3.7 0 3.2-3.4-3.7 0zM491.3 639.6l4.7 0 3.1-3.4-4.7 0zM510.7 622.2l4.9 0 3.2-3.5-5 0z"/><path fill="#bc4404" d="M434.1 712l3.6 0 3.3-3.4-3.7 0zM435.6 704.5l3.7 0 3.2-3.4-3.8 0zM448.5 687.1l4 0 3.2-3.5-4.1 0zM523.9 619.7l5 0 3.3-3.5-5 0z"/><path fill="#ac4004" d="M436.8 712l3.6 0 3.3-3.4-3.7 0z"/><path fill="#ac3c04" d="M431 709.5l3.7 0 3.2-3.4-3.7 0zM441.8 694.6l3.9 0 3.2-3.5-4 0zM498 632.2l4.8 0 3.2-3.5-4.9 0z"/><path fill="#c44800" d="M433.7 709.5l3.7 0 3.2-3.4-3.7 0zM453 682.1l4.1 0 3.2-3.5-4.2 0z"/><path fill="#c84c00" d="M436.4 709.5l3.7 0 3.3-3.4-3.8 0zM482.3 649.6l4.5 0 3.2-3.4-4.6 0zM516.6 619.7l5 0 3.2-3.5-5 0z"/><path fill="#b84004" d="M439.1 709.5l3.7 0 3.3-3.4-3.7 0zM446.3 689.6l4 0 3.1-3.5-4 0z"/><path fill="#b44004" d="M433.3 707l3.7 0 3.2-3.4-3.8 0zM493.5 637.1l4.8 0 3.1-3.4-4.8 0z"/><path fill="#d05004" d="M436 707l3.7 0 3.3-3.4-3.8 0zM440.1 699.5l3.8 0 3.2-3.4-3.8 0zM462 672.1l4.3 0 3.1-3.5-4.3 0zM464.3 669.6l4.2 0 3.2-3.5-4.3 0zM466.5 667.1l4.3 0 3.2-3.5-4.4 0zM468.8 664.6l4.3 0 3.2-3.5-4.4 0zM471 662.1l4.4 0 3.2-3.5-4.5 0zM473.3 659.6l4.4 0 3.1-3.4-4.4 0zM475.5 657.1l4.5 0 3.1-3.4-4.5 0zM477.8 654.6l4.5 0 3.1-3.4-4.5 0zM519.2 624.7l4.9 0 3.3-3.5-4.9 0zM520.3 619.7l4.9 0 3.3-3.5-5 0z"/><path fill="#d45408" d="M438.7 707l3.8 0 3.2-3.4-3.7 0zM446.2 702l3.8 0 3.3-3.4-3.8 0zM514.3 622.2l4.9 0 3.3-3.5-5 0z"/><path fill="#c04800" d="M441.5 707l3.7 0 3.3-3.4-3.8 0zM450.8 684.6l4 0 3.2-3.5-4.1 0zM486.8 644.6l4.6 0 3.2-3.4-4.7 0zM508.4 624.7l4.9 0 3.2-3.5-5 0z"/><path fill="#d85808" d="M438.3 704.5l3.8 0 3.2-3.4-3.8 0zM442.4 697l3.8 0 3.2-3.4-3.9 0zM516.9 627.2l4.8 0 3.3-3.5-4.9 0zM517.9 622.2l5 0 3.3-3.5-5 0z"/><path fill="#dc600c" d="M441.1 704.5l3.7 0 3.3-3.4-3.8 0zM448.5 699.5l3.9 0 3.3-3.4-3.9 0zM444.7 694.6l3.9 0 3.2-3.5-4 0zM512 624.7l4.9 0 3.2-3.5-4.9 0z"/><path fill="#cc4c00" d="M443.8 704.5l3.8 0 3.3-3.4-3.8 0zM457.5 677.1l4.2 0 3.1-3.5-4.2 0zM480 652.1l4.5 0 3.2-3.4-4.6 0zM506.1 627.2l4.9 0 3.2-3.5-4.9 0z"/><path fill="#c84800" d="M437.8 702l3.8 0 3.2-3.4-3.8 0zM455.3 679.6l4.1 0 3.2-3.5-4.2 0zM484.5 647.1l4.6 0 3.2-3.4-4.7 0zM521.6 622.2l4.9 0 3.3-3.5-5 0z"/><path fill="#e06410" d="M440.6 702l3.8 0 3.2-3.4-3.8 0zM499.3 634.7l4.7 0 3.2-3.5-4.8 0zM514.5 629.7l4.8 0 3.4-3.5-4.9 0z"/><path fill="#e86c10" d="M443.4 702l3.8 0 3.3-3.4-3.9 0zM497 637.1l4.7 0 3.2-3.4-4.8 0zM509.7 627.2l4.9 0 3.2-3.5-4.9 0z"/><path fill="#ec7014" d="M442.9 699.5l3.8 0 3.3-3.4-3.9 0zM449.2 689.6l4 0 3.2-3.5-4 0z"/><path fill="#f07c18" d="M445.7 699.5l3.9 0 3.2-3.4-3.8 0zM451.5 687.1l4 0 3.2-3.5-4.1 0z"/><path fill="#f4801c" d="M445.2 697l3.9 0 3.2-3.4-3.9 0zM455.6 692.1l4 0 3.3-3.5-4 0zM492.4 642.1l4.7 0 3.2-3.4-4.7 0z"/><path fill="#f88c20" d="M448.1 697l3.8 0 3.3-3.4-3.9 0z"/><path fill="#e46810" d="M450.9 697l3.9 0 3.3-3.4-3.9 0zM446.9 692.1l4 0 3.2-3.5-4 0zM515.6 624.7l4.9 0 3.3-3.5-5 0z"/><path fill="#fc9024" d="M447.5 694.6l3.9 0 3.3-3.5-4 0zM487.9 647.1l4.6 0 3.2-3.4-4.7 0z"/><path fill="#ff9c2c" d="M450.4 694.6l3.9 0 3.3-3.5-4 0zM460.6 677.1l4.1 0 3.2-3.5-4.2 0z"/><path fill="#f07418" d="M453.3 694.6l3.9 0 3.3-3.5-4 0z"/><path fill="#ffa030" d="M449.8 692.1l4 0 3.2-3.5-4 0zM462.9 674.6l4.2 0 3.2-3.5-4.3 0zM483.3 652.1l4.6 0 3.2-3.4-4.6 0zM502.7 642.1l4.7 0 3.3-3.4-4.7 0z"/><path fill="#ffb03c" d="M452.7 692.1l4 0 3.2-3.5-4 0z"/><path fill="#ffb440" d="M452.1 689.6l4 0 3.2-3.5-4 0zM465 682.1l4.1 0 3.3-3.5-4.1 0z"/><path fill="#ffc450" d="M455.1 689.6l3.9 0 3.3-3.5-4 0zM454.4 687.1l4 0 3.3-3.5-4.1 0z"/><path fill="#f88c24" d="M458 689.6l3.9 0 3.4-3.5-4.1 0zM456 682.1l4.1 0 3.2-3.5-4.1 0z"/><path fill="#943404" d="M445.6 687.1l4 0 3.1-3.5-4 0zM485.6 642.1l4.7 0 3.1-3.4-4.7 0zM487.8 639.6l4.7 0 3.1-3.4-4.7 0z"/><path fill="#ffd068" d="M457.4 687.1l4 0 3.3-3.5-4.1 0zM456.7 684.6l4.1 0 3.2-3.5-4.1 0zM474.5 672.1l4.2 0 3.3-3.5-4.3 0z"/><path fill="#ff9828" d="M460.3 687.1l4 0 3.3-3.5-4 0zM485.6 649.6l4.6 0 3.2-3.4-4.6 0zM502.8 634.7l4.8 0 3.2-3.5-4.8 0z"/><path fill="#f48420" d="M453.8 684.6l4 0 3.2-3.5-4.1 0zM510.9 629.7l4.9 0 3.3-3.5-4.9 0z"/><path fill="#ffdc84" d="M459.7 684.6l4.1 0 3.2-3.5-4.1 0z"/><path fill="#ffa834" d="M462.7 684.6l4 0 3.3-3.5-4.1 0zM465.1 672.1l4.3 0 3.2-3.5-4.3 0zM506.3 634.7l4.8 0 3.2-3.5-4.8 0z"/><path fill="#ffdc80" d="M459 682.1l4.1 0 3.3-3.5-4.2 0z"/><path fill="#ffe898" d="M462 682.1l4.1 0 3.3-3.5-4.1 0z"/><path fill="#fc9428" d="M458.3 679.6l4.1 0 3.2-3.5-4.1 0zM505.1 639.6l4.7 0 3.3-3.4-4.8 0zM508.6 632.2l4.8 0 3.3-3.5-4.9 0z"/><path fill="#ffe494" d="M461.3 679.6l4.2 0 3.2-3.5-4.2 0z"/><path fill="#fff0a8" d="M464.4 679.6l4.1 0 3.3-3.5-4.2 0zM465.9 674.6l4.2 0 3.3-3.5-4.3 0z"/><path fill="#ffbc48" d="M467.4 679.6l4.1 0 3.3-3.5-4.1 0zM498.2 639.6l4.7 0 3.2-3.4-4.7 0z"/><path fill="#ffe8a0" d="M463.6 677.1l4.2 0 3.2-3.5-4.2 0z"/><path fill="#fff4b8" d="M466.7 677.1l4.1 0 3.3-3.5-4.2 0zM470.5 669.6l4.3 0 3.2-3.5-4.3 0z"/><path fill="#ffc854" d="M469.7 677.1l4.2 0 3.3-3.5-4.2 0z"/><path fill="#cc5004" d="M459.8 674.6l4.2 0 3.1-3.5-4.2 0z"/><path fill="#fff8c0" d="M469 674.6l4.2 0 3.3-3.5-4.3 0z"/><path fill="#ffcc60" d="M472.1 674.6l4.2 0 3.3-3.5-4.2 0z"/><path fill="#fff0b0" d="M468.2 672.1l4.3 0 3.2-3.5-4.3 0zM484.4 654.6l4.4 0 3.3-3.4-4.6 0zM492.3 649.6l4.6 0 3.2-3.4-4.6 0z"/><path fill="#fff8c8" d="M471.4 672.1l4.2 0 3.3-3.5-4.3 0z"/><path fill="#ffa838" d="M467.4 669.6l4.3 0 3.2-3.5-4.3 0zM478.8 657.1l4.4 0 3.2-3.4-4.5 0z"/><path fill="#fffcd0" d="M473.7 669.6l4.2 0 3.3-3.5-4.3 0zM476 667.1l4.3 0 3.3-3.5-4.4 0zM483 659.6l4.4 0 3.3-3.4-4.5 0z"/><path fill="#ffd470" d="M476.8 669.6l4.3 0 3.3-3.5-4.3 0zM486.2 659.6l4.4 0 3.4-3.4-4.5 0z"/><path fill="#ffac38" d="M469.7 667.1l4.3 0 3.2-3.5-4.4 0zM472 664.6l4.3 0 3.2-3.5-4.4 0zM474.2 662.1l4.4 0 3.2-3.5-4.4 0zM476.5 659.6l4.4 0 3.2-3.4-4.4 0zM500.5 637.1l4.7 0 3.2-3.4-4.7 0z"/><path fill="#fff8bc" d="M472.9 667.1l4.2 0 3.3-3.5-4.4 0zM475.2 664.6l4.3 0 3.2-3.5-4.4 0zM477.5 662.1l4.3 0 3.3-3.5-4.5 0zM490 652.1l4.5 0 3.3-3.4-4.6 0z"/><path fill="#ffd474" d="M479.2 667.1l4.3 0 3.3-3.5-4.4 0zM483.9 662.1l4.4 0 3.3-3.5-4.5 0z"/><path fill="#fffcd4" d="M478.3 664.6l4.4 0 3.2-3.5-4.3 0zM480.7 662.1l4.3 0 3.3-3.5-4.4 0z"/><path fill="#ffd874" d="M481.5 664.6l4.4 0 3.3-3.5-4.4 0zM493.6 644.6l4.6 0 3.2-3.4-4.6 0z"/><path fill="#fff8b8" d="M479.8 659.6l4.4 0 3.2-3.4-4.5 0z"/><path fill="#fff4b4" d="M482.1 657.1l4.4 0 3.2-3.4-4.5 0z"/><path fill="#fff8cc" d="M485.3 657.1l4.5 0 3.2-3.4-4.4 0z"/><path fill="#ffd06c" d="M488.6 657.1l4.4 0 3.3-3.4-4.4 0z"/><path fill="#ffa434" d="M481.1 654.6l4.4 0 3.2-3.4-4.5 0z"/><path fill="#fff8c4" d="M487.7 654.6l4.4 0 3.3-3.4-4.5 0z"/><path fill="#ffd064" d="M490.9 654.6l4.5 0 3.3-3.4-4.5 0z"/><path fill="#ffeca8" d="M486.7 652.1l4.5 0 3.2-3.4-4.5 0z"/><path fill="#ffc858" d="M493.3 652.1l4.5 0 3.3-3.4-4.5 0z"/><path fill="#ffe89c" d="M489 649.6l4.5 0 3.3-3.4-4.6 0z"/><path fill="#ffc050" d="M495.7 649.6l4.5 0 3.3-3.4-4.6 0z"/><path fill="#ffe08c" d="M491.3 647.1l4.6 0 3.2-3.4-4.6 0z"/><path fill="#ffeca0" d="M494.6 647.1l4.6 0 3.3-3.4-4.6 0z"/><path fill="#ffb844" d="M498 647.1l4.6 0 3.3-3.4-4.6 0z"/><path fill="#f88820" d="M490.2 644.6l4.6 0 3.2-3.4-4.7 0zM507.4 637.1l4.8 0 3.3-3.4-4.8 0zM505.1 632.2l4.8 0 3.2-3.5-4.8 0z"/><path fill="#ffe490" d="M497 644.6l4.6 0 3.3-3.4-4.7 0z"/><path fill="#ffac3c" d="M500.4 644.6l4.6 0 3.3-3.4-4.7 0z"/><path fill="#c04404" d="M489 642.1l4.7 0 3.1-3.4-4.7 0z"/><path fill="#ffcc5c" d="M495.9 642.1l4.6 0 3.3-3.4-4.7 0z"/><path fill="#ffd878" d="M499.3 642.1l4.7 0 3.2-3.4-4.7 0z"/><path fill="#f07818" d="M494.7 639.6l4.7 0 3.2-3.4-4.7 0zM509.8 634.7l4.8 0 3.3-3.5-4.8 0zM507.4 629.7l4.8 0 3.3-3.5-4.9 0z"/><path fill="#ffc85c" d="M501.6 639.6l4.7 0 3.3-3.4-4.7 0z"/><path fill="#ffb848" d="M504 637.1l4.7 0 3.3-3.4-4.8 0z"/><path fill="#d85c08" d="M501.6 632.2l4.8 0 3.2-3.5-4.9 0z"/><path fill="#e87014" d="M512.2 632.2l4.8 0 3.3-3.5-4.9 0z"/><path fill="#d05408" d="M503.8 629.7l4.9 0 3.2-3.5-4.9 0z"/><path fill="#ec7418" d="M513.3 627.2l4.9 0 3.2-3.5-4.9 0z"/></g><circle cx="36.89" cy="843.26" r="1.45" fill="#eea32a"/><circle cx="36.89" cy="939.19" r="1.45" fill="#eea32a"/><circle cx="49.81" cy="876.82" r="1.45" fill="#eea32a"/><circle cx="49.81" cy="880.16" r="1.45" fill="#eea32a"/><circle cx="88.57" cy="932.34" r="1.45" fill="#eea32a"/><circle cx="88.57" cy="947.8" r="1.45" fill="#eea32a"/><circle cx="131.64" cy="894.39" r="1.45" fill="#eea32a"/><circle cx="131.64" cy="951.67" r="1.45" fill="#eea32a"/><circle cx="153.17" cy="904.93" r="1.45" fill="#eea32a"/><circle cx="153.17" cy="934.8" r="1.45" fill="#eea32a"/><circle cx="174.71" cy="886.31" r="1.45" fill="#eea32a"/><circle cx="174.71" cy="927.42" r="1.45" fill="#eea32a"/><polyline points="36.89,881.21 39.19,884.13 41.48,886.96 43.78,889.71 46.08,892.37 48.38,894.95 50.67,897.44 52.97,899.84 55.27,902.16 57.56,904.39 59.86,906.53 62.16,908.59 64.45,910.57 66.75,912.46 69.05,914.26 71.35,915.97 73.64,917.6 75.94,919.15 78.24,920.61 80.53,921.98 82.83,923.26 85.13,924.46 87.42,925.58 89.72,926.61 92.02,927.55 94.32,928.4 96.61,929.18 98.91,929.86 101.21,930.46 103.5,930.97 105.8,931.4 108.1,931.74 110.39,931.99 112.69,932.16 114.99,932.24 117.28,932.24 119.58,932.15 121.88,931.98 124.18,931.72 126.47,931.37 128.77,930.94 131.07,930.42 133.36,929.81 135.66,929.12 137.96,928.34 140.25,927.48 142.55,926.53 144.85,925.5 147.15,924.38 149.44,923.17 151.74,921.88 154.04,920.5 156.33,919.04 158.63,917.49 160.93,915.85 163.22,914.13 165.52,912.32 167.82,910.42 170.12,908.44 172.41,906.38 174.71,904.23" fill="none" stroke="#ff1414" stroke-width="0.9" stroke-dasharray="2.5 1.1"/><rect x="30" y="837.3" width="151.6" height="119.8" fill="none" stroke="#333" stroke-width="0.35"/><line x1="45.5" y1="957.1" x2="45.5" y2="958.3" stroke="#333" stroke-width="0.3"/><text x="45.5" y="962.78" font-size="4" font-family="'DejaVu Sans','Liberation Sans',sans-serif" text-anchor="middle" stroke="#000" stroke-width="0.04">12.5</text><line x1="67.04" y1="957.1" x2="67.04" y2="958.3" stroke="#333" stroke-width="0.3"/><text x="67.04" y="962.78" font-size="4" font-family="'DejaVu Sans','Liberation Sans',sans-serif" text-anchor="middle" stroke="#000" stroke-width="0.04">13.0</text><line x1="88.57" y1="957.1" x2="88.57" y2="958.3" stroke="#333" stroke-width="0.3"/><text x="88.57" y="962.78" font-size="4" font-family="'DejaVu Sans','Liberation Sans',sans-serif" text-anchor="middle" stroke="#000" stroke-width="0.04">13.5</text><line x1="110.11" y1="957.1" x2="110.11" y2="958.3" stroke="#333" stroke-width="0.3"/><text x="110.11" y="962.78" font-size="4" font-family="'DejaVu Sans','Liberation Sans',sans-serif" text-anchor="middle" stroke="#000" stroke-width="0.04">14.0</text><line x1="131.64" y1="957.1" x2="131.64" y2="958.3" stroke="#333" stroke-width="0.3"/><text x="131.64" y="962.78" font-size="4" font-family="'DejaVu Sans','Liberation Sans',sans-serif" text-anchor="middle" stroke="#000" stroke-width="0.04">14.5</text><line x1="153.17" y1="957.1" x2="153.17" y2="958.3" stroke="#333" stroke-width="0.3"/><text x="153.17" y="962.78" font-size="4" font-family="'DejaVu Sans','Liberation Sans',sans-serif" text-anchor="middle" stroke="#000" stroke-width="0.04">15.0</text><line x1="174.71" y1="957.1" x2="174.71" y2="958.3" stroke="#333" stroke-width="0.3"/><text x="174.71" y="962.78" font-size="4" font-family="'DejaVu Sans','Liberation Sans',sans-serif" text-anchor="middle" stroke="#000" stroke-width="0.04">15.5</text><line x1="28.8" y1="952.72" x2="30" y2="952.72" stroke="#333" stroke-width="0.3"/><text x="27.9" y="954.16" font-size="4" font-family="'DejaVu Sans','Liberation Sans',sans-serif" text-anchor="end" stroke="#000" stroke-width="0.04">400</text><line x1="28.8" y1="935.15" x2="30" y2="935.15" stroke="#333" stroke-width="0.3"/><text x="27.9" y="936.59" font-size="4" font-family="'DejaVu Sans','Liberation Sans',sans-serif" text-anchor="end" stroke="#000" stroke-width="0.04">500</text><line x1="28.8" y1="917.58" x2="30" y2="917.58" stroke="#333" stroke-width="0.3"/><text x="27.9" y="919.02" font-size="4" font-family="'DejaVu Sans','Liberation Sans',sans-serif" text-anchor="end" stroke="#000" stroke-width="0.04">600</text><line x1="28.8" y1="900.01" x2="30" y2="900.01" stroke="#333" stroke-width="0.3"/><text x="27.9" y="901.45" font-size="4" font-family="'DejaVu Sans','Liberation Sans',sans-serif" text-anchor="end" stroke="#000" stroke-width="0.04">700</text><line x1="28.8" y1="882.44" x2="30" y2="882.44" stroke="#333" stroke-width="0.3"/><text x="27.9" y="883.88" font-size="4" font-family="'DejaVu Sans','Liberation Sans',sans-serif" text-anchor="end" stroke="#000" stroke-width="0.04">800</text><line x1="28.8" y1="864.87" x2="30" y2="864.87" stroke="#333" stroke-width="0.3"/><text x="27.9" y="866.31" font-size="4" font-family="'DejaVu Sans','Liberation Sans',sans-serif" text-anchor="end" stroke="#000" stroke-width="0.04">900</text><line x1="28.8" y1="847.3" x2="30" y2="847.3" stroke="#333" stroke-width="0.3"/><text x="27.9" y="848.74" font-size="4" font-family="'DejaVu Sans','Liberation Sans',sans-serif" text-anchor="end" stroke="#000" stroke-width="0.04">1000</text><text x="105.8" y="834.4" font-size="4.85" font-family="'DejaVu Sans','Liberation Sans',sans-serif" text-anchor="middle" stroke="#000" stroke-width="0.04">Y vs. X1 with Fitted Curve</text><text x="105.8" y="968.78" font-size="4" font-family="'DejaVu Sans','Liberation Sans',sans-serif" text-anchor="middle" stroke="#000" stroke-width="0.04">Independent Variable 1 (X1)</text><text x="13.6" y="897.2" font-size="4" font-family="'DejaVu Sans','Liberation Sans',sans-serif" text-anchor="middle" transform="rotate(-90 13.6 897.2)" stroke="#000" stroke-width="0.04">Dependent Variable (Y)</text><rect x="140.04" y="838.3" width="39.16" height="15.41" rx="0.9" fill="#fff" fill-opacity="0.8" stroke="#ccc" stroke-width="0.35"/><circle cx="145.71" cy="842.79" r="1.45" fill="#eea32a"/><text x="152.13" y="844.18" font-size="4" font-family="'DejaVu Sans','Liberation Sans',sans-serif" stroke="#000" stroke-width="0.04">Actual Data</text><line x1="141.96" y1="849" x2="149.45" y2="849" stroke="#ff1414" stroke-width="0.9" stroke-dasharray="2.5 1.1"/><text x="152.13" y="850.39" font-size="4" font-family="'DejaVu Sans','Liberation Sans',sans-serif" stroke="#000" stroke-width="0.04">Fitted Curve</text><circle cx="212.1" cy="843.26" r="1.45" fill="#2a9a2a"/><circle cx="212.1" cy="939.19" r="1.45" fill="#2a9a2a"/><circle cx="212.1" cy="876.82" r="1.45" fill="#2a9a2a"/><circle cx="212.1" cy="880.16" r="1.45" fill="#2a9a2a"/><circle cx="268.88" cy="932.34" r="1.45" fill="#2a9a2a"/><circle cx="268.88" cy="947.8" r="1.45" fill="#2a9a2a"/><circle cx="309.44" cy="894.39" r="1.45" fill="#2a9a2a"/><circle cx="309.44" cy="951.67" r="1.45" fill="#2a9a2a"/><circle cx="350" cy="904.93" r="1.45" fill="#2a9a2a"/><circle cx="350" cy="934.8" r="1.45" fill="#2a9a2a"/><circle cx="350" cy="886.31" r="1.45" fill="#2a9a2a"/><circle cx="350" cy="927.42" r="1.45" fill="#2a9a2a"/><polyline points="212.1,885.95 214.39,888.69 216.69,891.36 218.99,893.94 221.29,896.44 223.59,898.87 225.89,901.22 228.18,903.49 230.48,905.68 232.78,907.79 235.08,909.82 237.38,911.78 239.68,913.66 241.98,915.45 244.27,917.17 246.57,918.82 248.87,920.38 251.17,921.86 253.47,923.27 255.77,924.6 258.07,925.84 260.36,927.01 262.66,928.11 264.96,929.12 267.26,930.05 269.56,930.91 271.86,931.69 274.15,932.39 276.45,933.01 278.75,933.55 281.05,934.02 283.35,934.4 285.65,934.71 287.95,934.94 290.24,935.09 292.54,935.16 294.84,935.15 297.14,935.06 299.44,934.9 301.74,934.66 304.03,934.34 306.33,933.94 308.63,933.46 310.93,932.9 313.23,932.27 315.53,931.55 317.83,930.76 320.12,929.89 322.42,928.94 324.72,927.91 327.02,926.81 329.32,925.62 331.62,924.36 333.92,923.02 336.21,921.6 338.51,920.1 340.81,918.52 343.11,916.87 345.41,915.13 347.71,913.32 350,911.43" fill="none" stroke="#ff1414" stroke-width="0.9" stroke-dasharray="2.5 1.1"/><rect x="205.2" y="837.3" width="151.7" height="119.8" fill="none" stroke="#333" stroke-width="0.35"/><line x1="208.04" y1="957.1" x2="208.04" y2="958.3" stroke="#333" stroke-width="0.3"/><text x="208.04" y="962.78" font-size="4" font-family="'DejaVu Sans','Liberation Sans',sans-serif" text-anchor="middle" stroke="#000" stroke-width="0.04">525</text><line x1="228.32" y1="957.1" x2="228.32" y2="958.3" stroke="#333" stroke-width="0.3"/><text x="228.32" y="962.78" font-size="4" font-family="'DejaVu Sans','Liberation Sans',sans-serif" text-anchor="middle" stroke="#000" stroke-width="0.04">550</text><line x1="248.6" y1="957.1" x2="248.6" y2="958.3" stroke="#333" stroke-width="0.3"/><text x="248.6" y="962.78" font-size="4" font-family="'DejaVu Sans','Liberation Sans',sans-serif" text-anchor="middle" stroke="#000" stroke-width="0.04">575</text><line x1="268.88" y1="957.1" x2="268.88" y2="958.3" stroke="#333" stroke-width="0.3"/><text x="268.88" y="962.78" font-size="4" font-family="'DejaVu Sans','Liberation Sans',sans-serif" text-anchor="middle" stroke="#000" stroke-width="0.04">600</text><line x1="289.16" y1="957.1" x2="289.16" y2="958.3" stroke="#333" stroke-width="0.3"/><text x="289.16" y="962.78" font-size="4" font-family="'DejaVu Sans','Liberation Sans',sans-serif" text-anchor="middle" stroke="#000" stroke-width="0.04">625</text><line x1="309.44" y1="957.1" x2="309.44" y2="958.3" stroke="#333" stroke-width="0.3"/><text x="309.44" y="962.78" font-size="4" font-family="'DejaVu Sans','Liberation Sans',sans-serif" text-anchor="middle" stroke="#000" stroke-width="0.04">650</text><line x1="329.72" y1="957.1" x2="329.72" y2="958.3" stroke="#333" stroke-width="0.3"/><text x="329.72" y="962.78" font-size="4" font-family="'DejaVu Sans','Liberation Sans',sans-serif" text-anchor="middle" stroke="#000" stroke-width="0.04">675</text><line x1="350" y1="957.1" x2="350" y2="958.3" stroke="#333" stroke-width="0.3"/><text x="350" y="962.78" font-size="4" font-family="'DejaVu Sans','Liberation Sans',sans-serif" text-anchor="middle" stroke="#000" stroke-width="0.04">700</text><line x1="204" y1="952.72" x2="205.2" y2="952.72" stroke="#333" stroke-width="0.3"/><text x="203.1" y="954.16" font-size="4" font-family="'DejaVu Sans','Liberation Sans',sans-serif" text-anchor="end" stroke="#000" stroke-width="0.04">400</text><line x1="204" y1="935.15" x2="205.2" y2="935.15" stroke="#333" stroke-width="0.3"/><text x="203.1" y="936.59" font-size="4" font-family="'DejaVu Sans','Liberation Sans',sans-serif" text-anchor="end" stroke="#000" stroke-width="0.04">500</text><line x1="204" y1="917.58" x2="205.2" y2="917.58" stroke="#333" stroke-width="0.3"/><text x="203.1" y="919.02" font-size="4" font-family="'DejaVu Sans','Liberation Sans',sans-serif" text-anchor="end" stroke="#000" stroke-width="0.04">600</text><line x1="204" y1="900.01" x2="205.2" y2="900.01" stroke="#333" stroke-width="0.3"/><text x="203.1" y="901.45" font-size="4" font-family="'DejaVu Sans','Liberation Sans',sans-serif" text-anchor="end" stroke="#000" stroke-width="0.04">700</text><line x1="204" y1="882.44" x2="205.2" y2="882.44" stroke="#333" stroke-width="0.3"/><text x="203.1" y="883.88" font-size="4" font-family="'DejaVu Sans','Liberation Sans',sans-serif" text-anchor="end" stroke="#000" stroke-width="0.04">800</text><line x1="204" y1="864.87" x2="205.2" y2="864.87" stroke="#333" stroke-width="0.3"/><text x="203.1" y="866.31" font-size="4" font-family="'DejaVu Sans','Liberation Sans',sans-serif" text-anchor="end" stroke="#000" stroke-width="0.04">900</text><line x1="204" y1="847.3" x2="205.2" y2="847.3" stroke="#333" stroke-width="0.3"/><text x="203.1" y="848.74" font-size="4" font-family="'DejaVu Sans','Liberation Sans',sans-serif" text-anchor="end" stroke="#000" stroke-width="0.04">1000</text><text x="281.05" y="834.4" font-size="4.85" font-family="'DejaVu Sans','Liberation Sans',sans-serif" text-anchor="middle" stroke="#000" stroke-width="0.04">Y vs. X2 with Fitted Curve</text><text x="281.05" y="968.78" font-size="4" font-family="'DejaVu Sans','Liberation Sans',sans-serif" text-anchor="middle" stroke="#000" stroke-width="0.04">Independent Variable 2 (X2)</text><text x="189.2" y="897.2" font-size="4" font-family="'DejaVu Sans','Liberation Sans',sans-serif" text-anchor="middle" transform="rotate(-90 189.2 897.2)" stroke="#000" stroke-width="0.04">Dependent Variable (Y)</text><rect x="315.34" y="838.3" width="39.16" height="15.41" rx="0.9" fill="#fff" fill-opacity="0.8" stroke="#ccc" stroke-width="0.35"/><circle cx="321.01" cy="842.79" r="1.45" fill="#2a9a2a"/><text x="327.43" y="844.18" font-size="4" font-family="'DejaVu Sans','Liberation Sans',sans-serif" stroke="#000" stroke-width="0.04">Actual Data</text><line x1="317.26" y1="849" x2="324.75" y2="849" stroke="#ff1414" stroke-width="0.9" stroke-dasharray="2.5 1.1"/><text x="327.43" y="850.39" font-size="4" font-family="'DejaVu Sans','Liberation Sans',sans-serif" stroke="#000" stroke-width="0.04">Fitted Curve</text><rect x="399.7" y="842.64" width="69.2" height="112.74" fill="#eea32a"/><rect x="486.1" y="955.38" width="69.4" height="2.24" fill="#2a9a2a"/><rect x="392.1" y="837.2" width="171.2" height="126.4" fill="none" stroke="#333" stroke-width="0.3"/><text x="434.3" y="841.4" font-size="3.61" font-family="'DejaVu Sans','Liberation Sans',sans-serif" text-anchor="middle" fill="#222" stroke="#222" stroke-width="0.04">243.8683</text><text x="520.8" y="956" font-size="3.61" font-family="'DejaVu Sans','Liberation Sans',sans-serif" text-anchor="middle" fill="#222" stroke="#222" stroke-width="0.04">-4.8427</text><line x1="391.1" y1="955.38" x2="392.1" y2="955.38" stroke="#333" stroke-width="0.3"/><text x="390.3" y="956.75" font-size="3.8" font-family="'DejaVu Sans','Liberation Sans',sans-serif" text-anchor="end" stroke="#000" stroke-width="0.04">0</text><line x1="391.1" y1="932.27" x2="392.1" y2="932.27" stroke="#333" stroke-width="0.3"/><text x="390.3" y="933.63" font-size="3.8" font-family="'DejaVu Sans','Liberation Sans',sans-serif" text-anchor="end" stroke="#000" stroke-width="0.04">50</text><line x1="391.1" y1="909.15" x2="392.1" y2="909.15" stroke="#333" stroke-width="0.3"/><text x="390.3" y="910.52" font-size="3.8" font-family="'DejaVu Sans','Liberation Sans',sans-serif" text-anchor="end" stroke="#000" stroke-width="0.04">100</text><line x1="391.1" y1="886.04" x2="392.1" y2="886.04" stroke="#333" stroke-width="0.3"/><text x="390.3" y="887.4" font-size="3.8" font-family="'DejaVu Sans','Liberation Sans',sans-serif" text-anchor="end" stroke="#000" stroke-width="0.04">150</text><line x1="391.1" y1="862.92" x2="392.1" y2="862.92" stroke="#333" stroke-width="0.3"/><text x="390.3" y="864.29" font-size="3.8" font-family="'DejaVu Sans','Liberation Sans',sans-serif" text-anchor="end" stroke="#000" stroke-width="0.04">200</text><line x1="391.1" y1="839.81" x2="392.1" y2="839.81" stroke="#333" stroke-width="0.3"/><text x="390.3" y="841.17" font-size="3.8" font-family="'DejaVu Sans','Liberation Sans',sans-serif" text-anchor="end" stroke="#000" stroke-width="0.04">250</text><line x1="434.3" y1="963.6" x2="434.3" y2="964.6" stroke="#333" stroke-width="0.3"/><text x="434.3" y="968.78" font-size="3.8" font-family="'DejaVu Sans','Liberation Sans',sans-serif" text-anchor="middle" stroke="#000" stroke-width="0.04">Independent Variable 1 (X1)</text><line x1="520.8" y1="963.6" x2="520.8" y2="964.6" stroke="#333" stroke-width="0.3"/><text x="520.8" y="968.78" font-size="3.8" font-family="'DejaVu Sans','Liberation Sans',sans-serif" text-anchor="middle" stroke="#000" stroke-width="0.04">Independent Variable 2 (X2)</text><text x="477.7" y="835.3" font-size="4.5" font-family="'DejaVu Sans','Liberation Sans',sans-serif" text-anchor="middle" stroke="#000" stroke-width="0.04">PLS Regression Coefficients for X1 and X2</text><text x="477.7" y="974.67" font-size="3.8" font-family="'DejaVu Sans','Liberation Sans',sans-serif" text-anchor="middle" stroke="#000" stroke-width="0.04">Variables</text><text x="379" y="900.4" font-size="3.8" font-family="'DejaVu Sans','Liberation Sans',sans-serif" text-anchor="middle" transform="rotate(-90 379 900.4)" stroke="#000" stroke-width="0.04">PLS Regression Coefficients</text><rect x="31.45" y="1010.05" width="22.73" height="21.12" fill="#fa8756"/><rect x="54.08" y="1010.05" width="22.73" height="21.12" fill="#f06849"/><rect x="76.72" y="1010.05" width="22.73" height="21.12" fill="#de402c"/><rect x="99.35" y="1010.05" width="22.73" height="21.12" fill="#c61a11"/><rect x="121.98" y="1010.05" width="22.73" height="21.12" fill="#a70000"/><rect x="144.62" y="1010.05" width="22.73" height="21.12" fill="#7f0000"/><rect x="31.45" y="1031.07" width="22.73" height="21.12" fill="#fdac76"/><rect x="54.08" y="1031.07" width="22.73" height="21.12" fill="#fb8957"/><rect x="76.72" y="1031.07" width="22.73" height="21.12" fill="#f16b4a"/><rect x="99.35" y="1031.07" width="22.73" height="21.12" fill="#e0442e"/><rect x="121.98" y="1031.07" width="22.73" height="21.12" fill="#c91d13"/><rect x="144.62" y="1031.07" width="22.73" height="21.12" fill="#aa0000"/><rect x="31.45" y="1052.08" width="22.73" height="21.12" fill="#fdc891"/><rect x="54.08" y="1052.08" width="22.73" height="21.12" fill="#fdaf79"/><rect x="76.72" y="1052.08" width="22.73" height="21.12" fill="#fc8c58"/><rect x="99.35" y="1052.08" width="22.73" height="21.12" fill="#f26d4b"/><rect x="121.98" y="1052.08" width="22.73" height="21.12" fill="#e14731"/><rect x="144.62" y="1052.08" width="22.73" height="21.12" fill="#cb2015"/><rect x="31.45" y="1073.1" width="22.73" height="21.12" fill="#fddbac"/><rect x="54.08" y="1073.1" width="22.73" height="21.12" fill="#fdc993"/><rect x="76.72" y="1073.1" width="22.73" height="21.12" fill="#fdb27b"/><rect x="99.35" y="1073.1" width="22.73" height="21.12" fill="#fc8e5a"/><rect x="121.98" y="1073.1" width="22.73" height="21.12" fill="#f26f4c"/><rect x="144.62" y="1073.1" width="22.73" height="21.12" fill="#e34a33"/><rect x="31.45" y="1094.12" width="22.73" height="21.12" fill="#feebce"/><rect x="54.08" y="1094.12" width="22.73" height="21.12" fill="#fddcaf"/><rect x="76.72" y="1094.12" width="22.73" height="21.12" fill="#fdcb94"/><rect x="99.35" y="1094.12" width="22.73" height="21.12" fill="#fdb57e"/><rect x="121.98" y="1094.12" width="22.73" height="21.12" fill="#fc915d"/><rect x="144.62" y="1094.12" width="22.73" height="21.12" fill="#f3724e"/><rect x="31.45" y="1115.13" width="22.73" height="21.12" fill="#fff7ec"/><rect x="54.08" y="1115.13" width="22.73" height="21.12" fill="#feebd0"/><rect x="76.72" y="1115.13" width="22.73" height="21.12" fill="#fdddb1"/><rect x="99.35" y="1115.13" width="22.73" height="21.12" fill="#fdcc96"/><rect x="121.98" y="1115.13" width="22.73" height="21.12" fill="#fdb881"/><rect x="144.62" y="1115.13" width="22.73" height="21.12" fill="#fc9460"/><text x="42.82" y="1021.87" font-size="3.5" font-family="'DejaVu Sans','Liberation Sans',sans-serif" text-anchor="middle" fill="#fff">692.54</text><text x="65.45" y="1021.87" font-size="3.5" font-family="'DejaVu Sans','Liberation Sans',sans-serif" text-anchor="middle" fill="#fff">848.62</text><text x="88.08" y="1021.87" font-size="3.5" font-family="'DejaVu Sans','Liberation Sans',sans-serif" text-anchor="middle" fill="#fff">1004.70</text><text x="110.72" y="1021.87" font-size="3.5" font-family="'DejaVu Sans','Liberation Sans',sans-serif" text-anchor="middle" fill="#fff">1160.77</text><text x="133.35" y="1021.87" font-size="3.5" font-family="'DejaVu Sans','Liberation Sans',sans-serif" text-anchor="middle" fill="#fff">1316.85</text><text x="155.98" y="1021.87" font-size="3.5" font-family="'DejaVu Sans','Liberation Sans',sans-serif" text-anchor="middle" fill="#fff">1472.92</text><text x="42.82" y="1042.88" font-size="3.5" font-family="'DejaVu Sans','Liberation Sans',sans-serif" text-anchor="middle" fill="#262626">523.81</text><text x="65.45" y="1042.88" font-size="3.5" font-family="'DejaVu Sans','Liberation Sans',sans-serif" text-anchor="middle" fill="#fff">679.89</text><text x="88.08" y="1042.88" font-size="3.5" font-family="'DejaVu Sans','Liberation Sans',sans-serif" text-anchor="middle" fill="#fff">835.96</text><text x="110.72" y="1042.88" font-size="3.5" font-family="'DejaVu Sans','Liberation Sans',sans-serif" text-anchor="middle" fill="#fff">992.04</text><text x="133.35" y="1042.88" font-size="3.5" font-family="'DejaVu Sans','Liberation Sans',sans-serif" text-anchor="middle" fill="#fff">1148.12</text><text x="155.98" y="1042.88" font-size="3.5" font-family="'DejaVu Sans','Liberation Sans',sans-serif" text-anchor="middle" fill="#fff">1304.19</text><text x="42.82" y="1063.9" font-size="3.5" font-family="'DejaVu Sans','Liberation Sans',sans-serif" text-anchor="middle" fill="#262626">355.08</text><text x="65.45" y="1063.9" font-size="3.5" font-family="'DejaVu Sans','Liberation Sans',sans-serif" text-anchor="middle" fill="#262626">511.16</text><text x="88.08" y="1063.9" font-size="3.5" font-family="'DejaVu Sans','Liberation Sans',sans-serif" text-anchor="middle" fill="#fff">667.23</text><text x="110.72" y="1063.9" font-size="3.5" font-family="'DejaVu Sans','Liberation Sans',sans-serif" text-anchor="middle" fill="#fff">823.31</text><text x="133.35" y="1063.9" font-size="3.5" font-family="'DejaVu Sans','Liberation Sans',sans-serif" text-anchor="middle" fill="#fff">979.39</text><text x="155.98" y="1063.9" font-size="3.5" font-family="'DejaVu Sans','Liberation Sans',sans-serif" text-anchor="middle" fill="#fff">1135.46</text><text x="42.82" y="1084.92" font-size="3.5" font-family="'DejaVu Sans','Liberation Sans',sans-serif" text-anchor="middle" fill="#262626">186.35</text><text x="65.45" y="1084.92" font-size="3.5" font-family="'DejaVu Sans','Liberation Sans',sans-serif" text-anchor="middle" fill="#262626">342.43</text><text x="88.08" y="1084.92" font-size="3.5" font-family="'DejaVu Sans','Liberation Sans',sans-serif" text-anchor="middle" fill="#262626">498.50</text><text x="110.72" y="1084.92" font-size="3.5" font-family="'DejaVu Sans','Liberation Sans',sans-serif" text-anchor="middle" fill="#fff">654.58</text><text x="133.35" y="1084.92" font-size="3.5" font-family="'DejaVu Sans','Liberation Sans',sans-serif" text-anchor="middle" fill="#fff">810.65</text><text x="155.98" y="1084.92" font-size="3.5" font-family="'DejaVu Sans','Liberation Sans',sans-serif" text-anchor="middle" fill="#fff">966.73</text><text x="42.82" y="1105.93" font-size="3.5" font-family="'DejaVu Sans','Liberation Sans',sans-serif" text-anchor="middle" fill="#262626">17.62</text><text x="65.45" y="1105.93" font-size="3.5" font-family="'DejaVu Sans','Liberation Sans',sans-serif" text-anchor="middle" fill="#262626">173.70</text><text x="88.08" y="1105.93" font-size="3.5" font-family="'DejaVu Sans','Liberation Sans',sans-serif" text-anchor="middle" fill="#262626">329.77</text><text x="110.72" y="1105.93" font-size="3.5" font-family="'DejaVu Sans','Liberation Sans',sans-serif" text-anchor="middle" fill="#262626">485.85</text><text x="133.35" y="1105.93" font-size="3.5" font-family="'DejaVu Sans','Liberation Sans',sans-serif" text-anchor="middle" fill="#262626">641.92</text><text x="155.98" y="1105.93" font-size="3.5" font-family="'DejaVu Sans','Liberation Sans',sans-serif" text-anchor="middle" fill="#fff">798.00</text><text x="42.82" y="1126.95" font-size="3.5" font-family="'DejaVu Sans','Liberation Sans',sans-serif" text-anchor="middle" fill="#262626">-151.11</text><text x="65.45" y="1126.95" font-size="3.5" font-family="'DejaVu Sans','Liberation Sans',sans-serif" text-anchor="middle" fill="#262626">4.96</text><text x="88.08" y="1126.95" font-size="3.5" font-family="'DejaVu Sans','Liberation Sans',sans-serif" text-anchor="middle" fill="#262626">161.04</text><text x="110.72" y="1126.95" font-size="3.5" font-family="'DejaVu Sans','Liberation Sans',sans-serif" text-anchor="middle" fill="#262626">317.12</text><text x="133.35" y="1126.95" font-size="3.5" font-family="'DejaVu Sans','Liberation Sans',sans-serif" text-anchor="middle" fill="#262626">473.19</text><text x="155.98" y="1126.95" font-size="3.5" font-family="'DejaVu Sans','Liberation Sans',sans-serif" text-anchor="middle" fill="#262626">629.27</text><line x1="30.5" y1="1020.61" x2="31.5" y2="1020.61" stroke="#333" stroke-width="0.3"/><text x="29.5" y="1020.61" font-size="3.7" font-family="'DejaVu Sans','Liberation Sans',sans-serif" text-anchor="middle" transform="rotate(-90 29.5 1020.61)" stroke="#000" stroke-width="0.04">530.0</text><line x1="42.82" y1="1136.2" x2="42.82" y2="1137.2" stroke="#333" stroke-width="0.3"/><text x="42.82" y="1141.46" font-size="3.7" font-family="'DejaVu Sans','Liberation Sans',sans-serif" text-anchor="middle" stroke="#000" stroke-width="0.04">12.3</text><line x1="30.5" y1="1041.62" x2="31.5" y2="1041.62" stroke="#333" stroke-width="0.3"/><text x="29.5" y="1041.62" font-size="3.7" font-family="'DejaVu Sans','Liberation Sans',sans-serif" text-anchor="middle" transform="rotate(-90 29.5 1041.62)" stroke="#000" stroke-width="0.04">564.0</text><line x1="65.45" y1="1136.2" x2="65.45" y2="1137.2" stroke="#333" stroke-width="0.3"/><text x="65.45" y="1141.46" font-size="3.7" font-family="'DejaVu Sans','Liberation Sans',sans-serif" text-anchor="middle" stroke="#000" stroke-width="0.04">12.94</text><line x1="30.5" y1="1062.64" x2="31.5" y2="1062.64" stroke="#333" stroke-width="0.3"/><text x="29.5" y="1062.64" font-size="3.7" font-family="'DejaVu Sans','Liberation Sans',sans-serif" text-anchor="middle" transform="rotate(-90 29.5 1062.64)" stroke="#000" stroke-width="0.04">598.0</text><line x1="88.08" y1="1136.2" x2="88.08" y2="1137.2" stroke="#333" stroke-width="0.3"/><text x="88.08" y="1141.46" font-size="3.7" font-family="'DejaVu Sans','Liberation Sans',sans-serif" text-anchor="middle" stroke="#000" stroke-width="0.04">13.58</text><line x1="30.5" y1="1083.66" x2="31.5" y2="1083.66" stroke="#333" stroke-width="0.3"/><text x="29.5" y="1083.66" font-size="3.7" font-family="'DejaVu Sans','Liberation Sans',sans-serif" text-anchor="middle" transform="rotate(-90 29.5 1083.66)" stroke="#000" stroke-width="0.04">632.0</text><line x1="110.72" y1="1136.2" x2="110.72" y2="1137.2" stroke="#333" stroke-width="0.3"/><text x="110.72" y="1141.46" font-size="3.7" font-family="'DejaVu Sans','Liberation Sans',sans-serif" text-anchor="middle" stroke="#000" stroke-width="0.04">14.22</text><line x1="30.5" y1="1104.67" x2="31.5" y2="1104.67" stroke="#333" stroke-width="0.3"/><text x="29.5" y="1104.67" font-size="3.7" font-family="'DejaVu Sans','Liberation Sans',sans-serif" text-anchor="middle" transform="rotate(-90 29.5 1104.67)" stroke="#000" stroke-width="0.04">666.0</text><line x1="133.35" y1="1136.2" x2="133.35" y2="1137.2" stroke="#333" stroke-width="0.3"/><text x="133.35" y="1141.46" font-size="3.7" font-family="'DejaVu Sans','Liberation Sans',sans-serif" text-anchor="middle" stroke="#000" stroke-width="0.04">14.86</text><line x1="30.5" y1="1125.69" x2="31.5" y2="1125.69" stroke="#333" stroke-width="0.3"/><text x="29.5" y="1125.69" font-size="3.7" font-family="'DejaVu Sans','Liberation Sans',sans-serif" text-anchor="middle" transform="rotate(-90 29.5 1125.69)" stroke="#000" stroke-width="0.04">700.0</text><line x1="155.98" y1="1136.2" x2="155.98" y2="1137.2" stroke="#333" stroke-width="0.3"/><text x="155.98" y="1141.46" font-size="3.7" font-family="'DejaVu Sans','Liberation Sans',sans-serif" text-anchor="middle" stroke="#000" stroke-width="0.04">15.5</text><text x="99.4" y="1147.38" font-size="3.7" font-family="'DejaVu Sans','Liberation Sans',sans-serif" text-anchor="middle" stroke="#000" stroke-width="0.04">Independent Variable 1 (X1)</text><text x="21.5" y="1073.15" font-size="3.7" font-family="'DejaVu Sans','Liberation Sans',sans-serif" text-anchor="middle" transform="rotate(-90 21.5 1073.15)" stroke="#000" stroke-width="0.04">Independent Variable 2 (X2)</text><text x="99.5" y="1008.2" font-size="4.6" font-family="'DejaVu Sans','Liberation Sans',sans-serif" text-anchor="middle" stroke="#000" stroke-width="0.04">Heatmap of Predicted Y Values with PLS Regression (OrRd Color Map)</text><rect x="175.8" y="1010.1" width="5.8" height="126.1" fill="url(#gC)"/><line x1="181.6" y1="1125.1" x2="182.6" y2="1125.1" stroke="#333" stroke-width="0.3"/><text x="183.5" y="1126.43" font-size="3.7" font-family="'DejaVu Sans','Liberation Sans',sans-serif" stroke="#000" stroke-width="0.04">0</text><line x1="181.6" y1="1109.46" x2="182.6" y2="1109.46" stroke="#333" stroke-width="0.3"/><text x="183.5" y="1110.79" font-size="3.7" font-family="'DejaVu Sans','Liberation Sans',sans-serif" stroke="#000" stroke-width="0.04">200</text><line x1="181.6" y1="1093.82" x2="182.6" y2="1093.82" stroke="#333" stroke-width="0.3"/><text x="183.5" y="1095.15" font-size="3.7" font-family="'DejaVu Sans','Liberation Sans',sans-serif" stroke="#000" stroke-width="0.04">400</text><line x1="181.6" y1="1078.18" x2="182.6" y2="1078.18" stroke="#333" stroke-width="0.3"/><text x="183.5" y="1079.51" font-size="3.7" font-family="'DejaVu Sans','Liberation Sans',sans-serif" stroke="#000" stroke-width="0.04">600</text><line x1="181.6" y1="1062.54" x2="182.6" y2="1062.54" stroke="#333" stroke-width="0.3"/><text x="183.5" y="1063.87" font-size="3.7" font-family="'DejaVu Sans','Liberation Sans',sans-serif" stroke="#000" stroke-width="0.04">800</text><line x1="181.6" y1="1046.9" x2="182.6" y2="1046.9" stroke="#333" stroke-width="0.3"/><text x="183.5" y="1048.23" font-size="3.7" font-family="'DejaVu Sans','Liberation Sans',sans-serif" stroke="#000" stroke-width="0.04">1000</text><line x1="181.6" y1="1031.26" x2="182.6" y2="1031.26" stroke="#333" stroke-width="0.3"/><text x="183.5" y="1032.59" font-size="3.7" font-family="'DejaVu Sans','Liberation Sans',sans-serif" stroke="#000" stroke-width="0.04">1200</text><line x1="181.6" y1="1015.62" x2="182.6" y2="1015.62" stroke="#333" stroke-width="0.3"/><text x="183.5" y="1016.95" font-size="3.7" font-family="'DejaVu Sans','Liberation Sans',sans-serif" stroke="#000" stroke-width="0.04">1400</text><text x="197.5" y="1073.15" font-size="3.7" font-family="'DejaVu Sans','Liberation Sans',sans-serif" text-anchor="middle" transform="rotate(-90 197.5 1073.15)" stroke="#000" stroke-width="0.04">Predicted Y Value</text><rect x="402" y="1022.2" width="123.8" height="115.3" fill="none" stroke="#333" stroke-width="0.3"/><line x1="409.74" y1="1137.5" x2="409.74" y2="1138.4" stroke="#333" stroke-width="0.3"/><text x="409.74" y="1142.37" font-size="3.45" font-family="'DejaVu Sans','Liberation Sans',sans-serif" text-anchor="middle" stroke="#000" stroke-width="0.04">12.5</text><line x1="429.08" y1="1137.5" x2="429.08" y2="1138.4" stroke="#333" stroke-width="0.3"/><text x="429.08" y="1142.37" font-size="3.45" font-family="'DejaVu Sans','Liberation Sans',sans-serif" text-anchor="middle" stroke="#000" stroke-width="0.04">13.0</text><line x1="448.42" y1="1137.5" x2="448.42" y2="1138.4" stroke="#333" stroke-width="0.3"/><text x="448.42" y="1142.37" font-size="3.45" font-family="'DejaVu Sans','Liberation Sans',sans-serif" text-anchor="middle" stroke="#000" stroke-width="0.04">13.5</text><line x1="467.77" y1="1137.5" x2="467.77" y2="1138.4" stroke="#333" stroke-width="0.3"/><text x="467.77" y="1142.37" font-size="3.45" font-family="'DejaVu Sans','Liberation Sans',sans-serif" text-anchor="middle" stroke="#000" stroke-width="0.04">14.0</text><line x1="487.11" y1="1137.5" x2="487.11" y2="1138.4" stroke="#333" stroke-width="0.3"/><text x="487.11" y="1142.37" font-size="3.45" font-family="'DejaVu Sans','Liberation Sans',sans-serif" text-anchor="middle" stroke="#000" stroke-width="0.04">14.5</text><line x1="506.46" y1="1137.5" x2="506.46" y2="1138.4" stroke="#333" stroke-width="0.3"/><text x="506.46" y="1142.37" font-size="3.45" font-family="'DejaVu Sans','Liberation Sans',sans-serif" text-anchor="middle" stroke="#000" stroke-width="0.04">15.0</text><line x1="525.8" y1="1137.5" x2="525.8" y2="1138.4" stroke="#333" stroke-width="0.3"/><text x="525.8" y="1142.37" font-size="3.45" font-family="'DejaVu Sans','Liberation Sans',sans-serif" text-anchor="middle" stroke="#000" stroke-width="0.04">15.5</text><line x1="401.1" y1="1130.72" x2="402" y2="1130.72" stroke="#333" stroke-width="0.3"/><text x="400.3" y="1131.96" font-size="3.45" font-family="'DejaVu Sans','Liberation Sans',sans-serif" text-anchor="end" stroke="#000" stroke-width="0.04">540</text><line x1="401.1" y1="1117.15" x2="402" y2="1117.15" stroke="#333" stroke-width="0.3"/><text x="400.3" y="1118.39" font-size="3.45" font-family="'DejaVu Sans','Liberation Sans',sans-serif" text-anchor="end" stroke="#000" stroke-width="0.04">560</text><line x1="401.1" y1="1103.59" x2="402" y2="1103.59" stroke="#333" stroke-width="0.3"/><text x="400.3" y="1104.83" font-size="3.45" font-family="'DejaVu Sans','Liberation Sans',sans-serif" text-anchor="end" stroke="#000" stroke-width="0.04">580</text><line x1="401.1" y1="1090.02" x2="402" y2="1090.02" stroke="#333" stroke-width="0.3"/><text x="400.3" y="1091.27" font-size="3.45" font-family="'DejaVu Sans','Liberation Sans',sans-serif" text-anchor="end" stroke="#000" stroke-width="0.04">600</text><line x1="401.1" y1="1076.46" x2="402" y2="1076.46" stroke="#333" stroke-width="0.3"/><text x="400.3" y="1077.7" font-size="3.45" font-family="'DejaVu Sans','Liberation Sans',sans-serif" text-anchor="end" stroke="#000" stroke-width="0.04">620</text><line x1="401.1" y1="1062.89" x2="402" y2="1062.89" stroke="#333" stroke-width="0.3"/><text x="400.3" y="1064.14" font-size="3.45" font-family="'DejaVu Sans','Liberation Sans',sans-serif" text-anchor="end" stroke="#000" stroke-width="0.04">640</text><line x1="401.1" y1="1049.33" x2="402" y2="1049.33" stroke="#333" stroke-width="0.3"/><text x="400.3" y="1050.57" font-size="3.45" font-family="'DejaVu Sans','Liberation Sans',sans-serif" text-anchor="end" stroke="#000" stroke-width="0.04">660</text><line x1="401.1" y1="1035.76" x2="402" y2="1035.76" stroke="#333" stroke-width="0.3"/><text x="400.3" y="1037.01" font-size="3.45" font-family="'DejaVu Sans','Liberation Sans',sans-serif" text-anchor="end" stroke="#000" stroke-width="0.04">680</text><line x1="401.1" y1="1022.2" x2="402" y2="1022.2" stroke="#333" stroke-width="0.3"/><text x="400.3" y="1023.44" font-size="3.45" font-family="'DejaVu Sans','Liberation Sans',sans-serif" text-anchor="end" stroke="#000" stroke-width="0.04">700</text><text x="463.9" y="1147.6" font-size="3.45" font-family="'DejaVu Sans','Liberation Sans',sans-serif" text-anchor="middle" stroke="#000" stroke-width="0.04">Independent Variable 1 (X1)</text><text x="389.2" y="1079.85" font-size="3.45" font-family="'DejaVu Sans','Liberation Sans',sans-serif" text-anchor="middle" transform="rotate(-90 389.2 1079.85)" stroke="#000" stroke-width="0.04">Independent Variable 2 (X2)</text><text x="463.5" y="1020.2" font-size="4.1" font-family="'DejaVu Sans','Liberation Sans',sans-serif" text-anchor="middle" stroke="#000" stroke-width="0.04">Contour Plot of Interpolated Y with Gradient (Magma Color Map)</text><rect x="533.5" y="1022.2" width="5.8" height="115.3" fill="url(#gcC)" stroke="#999" stroke-width="0.15"/><line x1="539.3" y1="1137.8" x2="540.2" y2="1137.8" stroke="#333" stroke-width="0.3"/><text x="541" y="1139.04" font-size="3.45" font-family="'DejaVu Sans','Liberation Sans',sans-serif" stroke="#000" stroke-width="0.04">360</text><line x1="539.3" y1="1122.45" x2="540.2" y2="1122.45" stroke="#333" stroke-width="0.3"/><text x="541" y="1123.69" font-size="3.45" font-family="'DejaVu Sans','Liberation Sans',sans-serif" stroke="#000" stroke-width="0.04">420</text><line x1="539.3" y1="1107.1" x2="540.2" y2="1107.1" stroke="#333" stroke-width="0.3"/><text x="541" y="1108.34" font-size="3.45" font-family="'DejaVu Sans','Liberation Sans',sans-serif" stroke="#000" stroke-width="0.04">480</text><line x1="539.3" y1="1091.75" x2="540.2" y2="1091.75" stroke="#333" stroke-width="0.3"/><text x="541" y="1092.99" font-size="3.45" font-family="'DejaVu Sans','Liberation Sans',sans-serif" stroke="#000" stroke-width="0.04">540</text><line x1="539.3" y1="1076.4" x2="540.2" y2="1076.4" stroke="#333" stroke-width="0.3"/><text x="541" y="1077.64" font-size="3.45" font-family="'DejaVu Sans','Liberation Sans',sans-serif" stroke="#000" stroke-width="0.04">600</text><line x1="539.3" y1="1061.05" x2="540.2" y2="1061.05" stroke="#333" stroke-width="0.3"/><text x="541" y="1062.29" font-size="3.45" font-family="'DejaVu Sans','Liberation Sans',sans-serif" stroke="#000" stroke-width="0.04">660</text><line x1="539.3" y1="1045.7" x2="540.2" y2="1045.7" stroke="#333" stroke-width="0.3"/><text x="541" y="1046.94" font-size="3.45" font-family="'DejaVu Sans','Liberation Sans',sans-serif" stroke="#000" stroke-width="0.04">720</text><line x1="539.3" y1="1030.35" x2="540.2" y2="1030.35" stroke="#333" stroke-width="0.3"/><text x="541" y="1031.59" font-size="3.45" font-family="'DejaVu Sans','Liberation Sans',sans-serif" stroke="#000" stroke-width="0.04">780</text><text x="552.23" y="1079.85" font-size="3.45" font-family="'DejaVu Sans','Liberation Sans',sans-serif" text-anchor="middle" transform="rotate(-90 552.23 1079.85)" stroke="#000" stroke-width="0.04">Interpolated Y Value</text><g><path fill="#681c80" d="M401.2 1138l3.1 0 3-3.4-3.2 0zM403.3 1135.6l3.2 0 3-3.4-3.2 0zM443.9 1101.9l3.7 0 3.1-3.3-3.7 0zM495.3 1046.7l4.5 0 3.1-3.3-4.5 0zM499.6 1034.7l4.7 0 3.1-3.4-4.7 0zM502.7 1027.5l4.7 0 3.1-3.4-4.8 0z"/><path fill="#882880" d="M403.5 1138l3.1 0 3.1-3.4-3.2 0zM405.6 1135.6l3.2 0 3.1-3.4-3.3 0zM506.2 1027.5l4.7 0 3.1-3.4-4.8 0z"/><path fill="#b83878" d="M405.8 1138l3.2 0 3-3.4-3.2 0zM511.9 1025.1l4.8 0 3.1-3.4-4.9 0z"/><path fill="#e85864" d="M408.1 1138l3.2 0 3.1-3.4-3.2 0z"/><path fill="#fc9468" d="M410.4 1138l3.2 0 3.1-3.4-3.2 0z"/><path fill="#fcdca0" d="M412.8 1138l3.1 0 3.2-3.4-3.2 0z"/><path fill="#b43878" d="M408 1135.6l3.2 0 3-3.4-3.2 0zM421.4 1123.5l3.3 0 3.1-3.3-3.4 0zM430.5 1116.3l3.5 0 3.1-3.3-3.5 0zM508.7 1032.3l4.7 0 3.1-3.4-4.7 0z"/><path fill="#e05068" d="M410.3 1135.6l3.2 0 3.1-3.4-3.2 0z"/><path fill="#f88864" d="M412.7 1135.6l3.2 0 3.1-3.4-3.2 0z"/><path fill="#ffcc90" d="M415 1135.6l3.2 0 3.2-3.4-3.3 0z"/><path fill="#641c80" d="M405.4 1133.2l3.3 0 3-3.4-3.3 0z"/><path fill="#842880" d="M407.8 1133.2l3.2 0 3.1-3.4-3.3 0zM446.6 1101.9l3.7 0 3.2-3.3-3.7 0zM498.6 1046.7l4.5 0 3.1-3.3-4.5 0zM503.1 1034.7l4.6 0 3.1-3.4-4.7 0z"/><path fill="#b0347c" d="M410.2 1133.2l3.2 0 3.1-3.4-3.3 0zM505.4 1039.5l4.5 0 3.2-3.3-4.6 0z"/><path fill="#dc4868" d="M412.5 1133.2l3.3 0 3.1-3.4-3.3 0zM423.8 1123.5l3.4 0 3.1-3.3-3.4 0zM433.1 1116.3l3.4 0 3.2-3.3-3.5 0zM515.4 1025.1l4.8 0 3.1-3.4-4.8 0z"/><path fill="#f87860" d="M414.9 1133.2l3.2 0 3.2-3.4-3.3 0z"/><path fill="#ffb880" d="M417.3 1133.2l3.2 0 3.2-3.4-3.3 0z"/><path fill="#641880" d="M407.6 1130.8l3.2 0 3-3.4-3.3 0zM409.7 1128.4l3.3 0 3-3.4-3.4 0zM496.4 1041.9l4.6 0 3.1-3.3-4.6 0z"/><path fill="#802480" d="M410 1130.8l3.2 0 3-3.4-3.3 0zM412.1 1128.4l3.3 0 3-3.4-3.3 0zM421.1 1121.1l3.4 0 3-3.3-3.4 0zM430.2 1113.9l3.5 0 3.1-3.3-3.5 0zM439.5 1106.7l3.6 0 3.1-3.3-3.6 0zM499.8 1041.9l4.5 0 3.2-3.3-4.6 0z"/><path fill="#a8307c" d="M412.4 1130.8l3.2 0 3.1-3.4-3.3 0zM423.6 1121.1l3.4 0 3.1-3.3-3.5 0zM432.8 1113.9l3.5 0 3.1-3.3-3.5 0zM506.5 1034.7l4.6 0 3.2-3.4-4.7 0zM509.7 1027.5l4.7 0 3.1-3.4-4.8 0z"/><path fill="#d4446c" d="M414.7 1130.8l3.3 0 3.1-3.4-3.3 0z"/><path fill="#f46c5c" d="M417.1 1130.8l3.3 0 3.1-3.4-3.3 0zM518.9 1025.1l4.8 0 3.2-3.4-4.9 0z"/><path fill="#ffa874" d="M419.5 1130.8l3.3 0 3.2-3.4-3.3 0z"/><path fill="#a4307c" d="M414.5 1128.4l3.3 0 3.1-3.4-3.3 0z"/><path fill="#cc4070" d="M417 1128.4l3.2 0 3.1-3.4-3.3 0zM513.2 1027.5l4.7 0 3.2-3.4-4.8 0z"/><path fill="#f06060" d="M419.4 1128.4l3.3 0 3.1-3.4-3.3 0z"/><path fill="#fc9868" d="M421.8 1128.4l3.3 0 3.2-3.4-3.4 0z"/><path fill="#5c187c" d="M411.8 1126l3.4 0 3-3.4-3.4 0zM446.2 1099.5l3.7 0 3.1-3.3-3.7 0zM497.5 1037.1l4.6 0 3-3.4-4.6 0z"/><path fill="#782080" d="M414.3 1126l3.3 0 3-3.4-3.3 0zM423.3 1118.7l3.4 0 3.1-3.3-3.5 0zM432.4 1111.5l3.5 0 3.1-3.3-3.5 0zM448.9 1099.5l3.7 0 3.2-3.3-3.8 0zM496.3 1049.1l4.5 0 3.1-3.3-4.4 0zM500.9 1037.1l4.6 0 3.1-3.4-4.7 0z"/><path fill="#982c80" d="M416.7 1126l3.3 0 3.1-3.4-3.4 0zM425.8 1118.7l3.4 0 3.1-3.3-3.5 0zM435 1111.5l3.5 0 3.2-3.3-3.6 0zM504.2 1037.1l4.6 0 3.2-3.4-4.7 0z"/><path fill="#c03c74" d="M419.2 1126l3.3 0 3.1-3.4-3.4 0zM428.3 1118.7l3.4 0 3.2-3.3-3.5 0zM437.6 1111.5l3.5 0 3.2-3.3-3.6 0zM510.9 1029.9l4.8 0 3.1-3.4-4.8 0z"/><path fill="#e85464" d="M421.6 1126l3.3 0 3.2-3.4-3.4 0zM430.8 1118.7l3.5 0 3.1-3.3-3.4 0z"/><path fill="#f88464" d="M424 1126l3.4 0 3.1-3.4-3.3 0z"/><path fill="#541478" d="M414 1123.5l3.3 0 3-3.3-3.4 0zM495.3 1039.5l4.6 0 3-3.3-4.6 0z"/><path fill="#6c1c80" d="M416.4 1123.5l3.4 0 3-3.3-3.4 0zM425.4 1116.3l3.5 0 3.1-3.3-3.5 0zM434.6 1109.1l3.6 0 3.1-3.3-3.6 0zM451.2 1097.1l3.7 0 3.2-3.3-3.8 0zM494.1 1051.5l4.4 0 3.1-3.3-4.4 0z"/><path fill="#8c2880" d="M418.9 1123.5l3.4 0 3-3.3-3.4 0zM428 1116.3l3.5 0 3.1-3.3-3.6 0zM437.2 1109.1l3.6 0 3.1-3.3-3.6 0zM502 1039.5l4.6 0 3.1-3.3-4.6 0z"/><path fill="#f8745c" d="M426.3 1123.5l3.4 0 3.1-3.3-3.4 0z"/><path fill="#481474" d="M416.1 1121.1l3.4 0 3-3.3-3.5 0zM487.3 1058.7l4.3 0 3.2-3.3-4.4 0z"/><path fill="#601880" d="M418.6 1121.1l3.4 0 3-3.3-3.4 0zM427.6 1113.9l3.5 0 3.1-3.3-3.6 0zM436.8 1106.7l3.6 0 3.1-3.3-3.6 0zM453.4 1094.7l3.8 0 3.2-3.3-3.9 0zM491.8 1053.9l4.4 0 3.2-3.3-4.5 0zM493.1 1049.1l4.4 0 3.1-3.3-4.4 0zM500.5 1029.9l4.8 0 3-3.4-4.8 0zM501.3 1025.1l4.8 0 3-3.4-4.8 0z"/><path fill="#d04070" d="M426.1 1121.1l3.4 0 3.1-3.3-3.4 0zM435.3 1113.9l3.5 0 3.2-3.3-3.5 0z"/><path fill="#f06460" d="M428.6 1121.1l3.4 0 3.1-3.3-3.4 0z"/><path fill="#401070" d="M418.2 1118.7l3.5 0 2.9-3.3-3.4 0zM486.4 1056.3l4.3 0 3.1-3.3-4.3 0zM490.9 1044.3l4.5 0 3.1-3.3-4.6 0zM494.9 1032.3l4.7 0 3-3.4-4.7 0z"/><path fill="#58187c" d="M420.7 1118.7l3.5 0 3-3.3-3.5 0zM429.8 1111.5l3.5 0 3.1-3.3-3.6 0zM439 1104.3l3.7 0 3.1-3.3-3.7 0zM494.2 1044.3l4.5 0 3.1-3.3-4.5 0z"/><path fill="#381068" d="M420.4 1116.3l3.4 0 3-3.3-3.5 0zM484.1 1058.7l4.3 0 3.2-3.3-4.4 0z"/><path fill="#501478" d="M422.9 1116.3l3.5 0 3-3.3-3.5 0zM432 1109.1l3.6 0 3-3.3-3.6 0zM448.4 1097.1l3.7 0 3.2-3.3-3.8 0zM455.7 1092.3l3.8 0 3.2-3.3-3.9 0zM492 1046.7l4.5 0 3.1-3.3-4.5 0z"/><path fill="#301060" d="M422.5 1113.9l3.5 0 3-3.3-3.6 0zM447.9 1094.7l3.7 0 3.1-3.3-3.8 0zM455.1 1089.9l3.9 0 3.1-3.3-3.9 0zM486.6 1049.1l4.4 0 3.1-3.3-4.5 0zM490.7 1037.1l4.6 0 3-3.4-4.7 0z"/><path fill="#441074" d="M425.1 1113.9l3.5 0 3-3.3-3.6 0zM434.2 1106.7l3.6 0 3-3.3-3.6 0zM443.4 1099.5l3.8 0 3.1-3.3-3.8 0zM457.9 1089.9l3.9 0 3.2-3.3-3.9 0zM494.1 1037.1l4.6 0 3-3.4-4.6 0z"/><path fill="#281054" d="M424.6 1111.5l3.5 0 3-3.3-3.5 0zM450.1 1092.3l3.8 0 3.1-3.3-3.9 0zM457.3 1087.5l3.9 0 3.2-3.3-4 0zM480.5 1065.9l4.2 0 3.2-3.3-4.3 0zM484.4 1051.5l4.4 0 3-3.3-4.4 0zM488.6 1039.5l4.5 0 3-3.3-4.6 0z"/><path fill="#3c1070" d="M427.2 1111.5l3.5 0 3.1-3.3-3.6 0zM436.4 1104.3l3.6 0 3.1-3.3-3.7 0zM452.9 1092.3l3.8 0 3.1-3.3-3.8 0zM485 1061.1l4.3 0 3.2-3.3-4.3 0zM487.6 1051.5l4.4 0 3.1-3.3-4.4 0z"/><path fill="#201048" d="M426.7 1109.1l3.6 0 3-3.3-3.6 0zM435.8 1101.9l3.7 0 3-3.3-3.7 0zM452.3 1089.9l3.8 0 3.1-3.3-3.9 0zM459.6 1085.1l3.9 0 3.1-3.3-3.9 0zM478.3 1068.3l4.1 0 3.2-3.3-4.2 0zM486.4 1041.9l4.6 0 3-3.3-4.6 0z"/><path fill="#341068" d="M429.4 1109.1l3.5 0 3.1-3.3-3.6 0zM485.4 1053.9l4.4 0 3.1-3.3-4.4 0z"/><path fill="#b03478" d="M439.9 1109.1l3.5 0 3.2-3.3-3.6 0z"/><path fill="#1c1040" d="M428.9 1106.7l3.6 0 3-3.3-3.7 0zM477.4 1065.9l4.2 0 3.2-3.3-4.3 0zM480 1056.3l4.3 0 3.1-3.3-4.4 0zM484.3 1044.3l4.5 0 3-3.3-4.6 0z"/><path fill="#2c105c" d="M431.5 1106.7l3.6 0 3.1-3.3-3.7 0zM462.5 1085.1l3.9 0 3.1-3.3-3.9 0zM481.9 1061.1l4.3 0 3.1-3.3-4.3 0z"/><path fill="#a0307c" d="M442.1 1106.7l3.6 0 3.2-3.3-3.7 0zM503.1 1041.9l4.5 0 3.2-3.3-4.6 0z"/><path fill="#141038" d="M431 1104.3l3.6 0 3-3.3-3.6 0zM475.2 1068.3l4.2 0 3.1-3.3-4.2 0zM477.8 1058.7l4.3 0 3.1-3.3-4.4 0zM482.2 1046.7l4.4 0 3-3.3-4.5 0z"/><path fill="#281050" d="M433.7 1104.3l3.6 0 3.1-3.3-3.7 0z"/><path fill="#742080" d="M441.7 1104.3l3.6 0 3.2-3.3-3.7 0zM497.5 1044.3l4.5 0 3.2-3.3-4.6 0zM504.9 1025.1l4.7 0 3.1-3.4-4.9 0z"/><path fill="#942c80" d="M444.4 1104.3l3.6 0 3.2-3.3-3.7 0zM500.9 1044.3l4.5 0 3.1-3.3-4.5 0z"/><path fill="#100c30" d="M433.1 1101.9l3.7 0 3-3.3-3.7 0zM442.3 1094.7l3.8 0 3-3.3-3.8 0zM464 1080.3l4 0 3.2-3.3-4.1 0zM469.2 1077.9l4 0 3.2-3.3-4 0zM473.7 1073.1l4.1 0 3.2-3.3-4.1 0zM473 1070.7l4.1 0 3.1-3.3-4.1 0zM474.4 1065.9l4.1 0 3.2-3.3-4.3 0zM475.6 1061.1l4.3 0 3.1-3.3-4.3 0zM480 1049.1l4.5 0 3-3.3-4.5 0z"/><path fill="#341064" d="M438.5 1101.9l3.7 0 3.1-3.3-3.7 0zM482.8 1063.5l4.2 0 3.2-3.3-4.3 0zM489.8 1041.9l4.5 0 3-3.3-4.6 0z"/><path fill="#4c1478" d="M441.2 1101.9l3.7 0 3.1-3.3-3.7 0zM496.2 1034.7l4.7 0 3-3.4-4.7 0z"/><path fill="#100828" d="M435.3 1099.5l3.7 0 3-3.3-3.8 0zM444.5 1092.3l3.8 0 3-3.3-3.8 0zM471.5 1075.5l4 0 3.2-3.3-4.1 0zM472.1 1068.3l4.2 0 3.1-3.3-4.2 0zM473.5 1063.5l4.2 0 3.1-3.3-4.3 0zM474.7 1058.7l4.3 0 3-3.3-4.4 0zM477.9 1051.5l4.4 0 3-3.3-4.5 0z"/><path fill="#18103c" d="M438 1099.5l3.7 0 3-3.3-3.7 0zM447.3 1092.3l3.8 0 3-3.3-3.8 0zM467 1080.3l4 0 3.1-3.3-4 0zM481.1 1051.5l4.4 0 3.1-3.3-4.5 0z"/><path fill="#2c1058" d="M440.7 1099.5l3.7 0 3.1-3.3-3.8 0zM483.2 1056.3l4.3 0 3.1-3.3-4.4 0zM487.6 1044.3l4.5 0 3-3.3-4.5 0z"/><path fill="#0c0824" d="M437.4 1097.1l3.7 0 3-3.3-3.7 0zM453.8 1085.1l3.9 0 3.1-3.3-4 0zM461.1 1080.3l4 0 3.1-3.3-4 0zM469.9 1070.7l4.2 0 3.1-3.3-4.2 0zM471.3 1065.9l4.2 0 3-3.3-4.2 0zM475.8 1053.9l4.3 0 3-3.3-4.4 0z"/><path fill="#141034" d="M440.2 1097.1l3.7 0 3-3.3-3.8 0z"/><path fill="#241050" d="M442.9 1097.1l3.7 0 3.1-3.3-3.8 0zM479.7 1063.5l4.2 0 3.1-3.3-4.2 0zM481 1058.7l4.3 0 3.1-3.3-4.4 0zM485.4 1046.7l4.5 0 3.1-3.3-4.6 0z"/><path fill="#38106c" d="M445.7 1097.1l3.7 0 3.1-3.3-3.8 0zM460.2 1087.5l3.9 0 3.1-3.3-3.9 0zM488.7 1046.7l4.5 0 3.1-3.3-4.5 0zM492.8 1034.7l4.7 0 3-3.4-4.7 0z"/><path fill="#08081c" d="M439.5 1094.7l3.8 0 3-3.3-3.8 0zM448.8 1087.5l3.9 0 3-3.3-3.9 0zM463.3 1077.9l4 0 3.1-3.3-4 0zM467.7 1073.1l4.1 0 3.1-3.3-4.1 0zM470.4 1063.5l4.2 0 3-3.3-4.3 0z"/><path fill="#201044" d="M445.1 1094.7l3.8 0 3-3.3-3.8 0zM483.3 1049.1l4.4 0 3.1-3.3-4.5 0z"/><path fill="#481074" d="M450.6 1094.7l3.8 0 3.2-3.3-3.9 0zM489.8 1049.1l4.4 0 3.2-3.3-4.5 0z"/><path fill="#080818" d="M441.7 1092.3l3.8 0 3-3.3-3.9 0zM450.9 1085.1l4 0 3-3.3-4 0zM458.2 1080.3l4 0 3-3.3-4 0zM465.5 1075.5l4.1 0 3.1-3.3-4.1 0zM466.9 1070.7l4.1 0 3.1-3.3-4.2 0zM471.5 1058.7l4.3 0 3-3.3-4.3 0z"/><path fill="#080414" d="M443.8 1089.9l3.8 0 3-3.3-3.9 0zM453.1 1082.7l3.9 0 3.1-3.3-4 0zM460.4 1077.9l4 0 3.1-3.3-4.1 0zM464.7 1073.1l4.1 0 3.1-3.3-4.2 0zM466 1068.3l4.2 0 3-3.3-4.2 0zM469.4 1061.1l4.2 0 3-3.3-4.3 0z"/><path fill="#0c0820" d="M446.6 1089.9l3.9 0 3-3.3-3.9 0zM456 1082.7l3.9 0 3.1-3.3-4 0zM468.5 1075.5l4.1 0 3.1-3.3-4.1 0zM472.5 1061.1l4.3 0 3-3.3-4.3 0z"/><path fill="#140c34" d="M449.5 1089.9l3.8 0 3.1-3.3-3.9 0zM456.7 1085.1l3.9 0 3.1-3.3-3.9 0zM479 1053.9l4.3 0 3.1-3.3-4.4 0z"/><path fill="#040410" d="M445.9 1087.5l3.9 0 3-3.3-3.9 0zM448.1 1085.1l3.9 0 3-3.3-4 0zM455.3 1080.3l3.9 0 3.1-3.3-4.1 0zM457.4 1077.9l4 0 3.1-3.3-4.1 0zM462.5 1075.5l4.1 0 3.1-3.3-4.1 0zM461.7 1073.1l4.1 0 3-3.3-4.1 0zM463.9 1070.7l4.1 0 3-3.3-4.1 0zM465.1 1065.9l4.2 0 3-3.3-4.2 0zM467.2 1063.5l4.3 0 3-3.3-4.3 0z"/><path fill="#100c2c" d="M451.6 1087.5l3.9 0 3.1-3.3-3.9 0zM458.9 1082.7l4 0 3.1-3.3-4 0zM476.8 1056.3l4.4 0 3-3.3-4.4 0z"/><path fill="#181040" d="M454.5 1087.5l3.9 0 3.1-3.3-4 0z"/><path fill="#04000c" d="M450.2 1082.7l3.9 0 3-3.3-4 0zM459.6 1075.5l4 0 3.1-3.3-4.1 0zM463 1068.3l4.1 0 3-3.3-4.2 0z"/><path fill="#181038" d="M461.8 1082.7l4 0 3.1-3.3-4 0zM476 1070.7l4.1 0 3.2-3.3-4.2 0zM476.6 1063.5l4.2 0 3.1-3.3-4.3 0z"/><path fill="#20104c" d="M464.7 1082.7l4 0 3.1-3.3-4 0zM482.2 1053.9l4.4 0 3-3.3-4.4 0z"/><path fill="#000008" d="M452.3 1080.3l4 0 3-3.3-4 0zM454.5 1077.9l4 0 3-3.3-4.1 0zM456.6 1075.5l4 0 3-3.3-4.1 0zM458.7 1073.1l4.1 0 3-3.3-4.1 0zM460.8 1070.7l4.2 0 3-3.3-4.2 0z"/><path fill="#0c0828" d="M466.3 1077.9l4 0 3.1-3.3-4 0zM470.7 1073.1l4.1 0 3.2-3.3-4.2 0z"/><path fill="#080820" d="M469.1 1068.3l4.1 0 3.1-3.3-4.2 0zM473.6 1056.3l4.4 0 3-3.3-4.4 0z"/><path fill="#080418" d="M468.2 1065.9l4.2 0 3-3.3-4.2 0z"/><path fill="#1c1044" d="M478.8 1061.1l4.2 0 3.1-3.3-4.3 0z"/><path fill="#541878" d="M489.6 1056.3l4.3 0 3.2-3.3-4.4 0zM490.8 1051.5l4.4 0 3.2-3.3-4.5 0zM499.2 1027.5l4.8 0 3-3.4-4.8 0z"/><path fill="#481478" d="M488.6 1053.9l4.4 0 3.1-3.3-4.4 0zM493.1 1041.9l4.5 0 3.1-3.3-4.6 0zM497.1 1029.9l4.7 0 3-3.4-4.8 0z"/><path fill="#381070" d="M491.9 1039.5l4.6 0 3-3.3-4.6 0z"/><path fill="#702080" d="M498.6 1039.5l4.6 0 3.1-3.3-4.6 0zM501.8 1032.3l4.7 0 3.1-3.4-4.8 0z"/><path fill="#bc3878" d="M507.6 1037.1l4.6 0 3.2-3.4-4.6 0z"/><path fill="#c84070" d="M509.9 1034.7l4.6 0 3.2-3.4-4.7 0z"/><path fill="#581878" d="M498.4 1032.3l4.7 0 3-3.4-4.7 0z"/><path fill="#902880" d="M505.3 1032.3l4.6 0 3.1-3.4-4.7 0z"/><path fill="#d8486c" d="M512.1 1032.3l4.7 0 3.2-3.4-4.7 0z"/><path fill="#7c2480" d="M504 1029.9l4.7 0 3.1-3.4-4.8 0z"/><path fill="#9c3080" d="M507.5 1029.9l4.7 0 3.1-3.4-4.8 0z"/><path fill="#e45068" d="M514.4 1029.9l4.7 0 3.2-3.4-4.8 0z"/><path fill="#ec6060" d="M516.7 1027.5l4.7 0 3.2-3.4-4.8 0z"/><path fill="#902c80" d="M508.4 1025.1l4.8 0 3-3.4-4.8 0z"/></g><polygon points="215.12,303.24 295.59,329.8 338.49,285.41 262.4,262.96" fill="#f7f7f7" stroke="#e4e4e4" stroke-width="0.3"/><polygon points="215.12,303.24 262.4,262.96 261.77,204.78 212.32,241.66" fill="#f3f3f3" stroke="#e4e4e4" stroke-width="0.3"/><polygon points="262.4,262.96 338.49,285.41 341.09,225.3 261.77,204.78" fill="#f0f0f0" stroke="#e4e4e4" stroke-width="0.3"/><polyline points="224.21,306.24 271.03,265.5 270.74,207.1" fill="none" stroke="#b6b6b6" stroke-width="0.42"/><polyline points="234.84,309.75 281.1,268.48 281.24,209.81" fill="none" stroke="#b6b6b6" stroke-width="0.42"/><polyline points="245.61,313.3 291.31,271.49 291.87,212.56" fill="none" stroke="#b6b6b6" stroke-width="0.42"/><polyline points="256.54,316.91 301.64,274.54 302.64,215.35" fill="none" stroke="#b6b6b6" stroke-width="0.42"/><polyline points="267.61,320.56 312.1,277.62 313.55,218.17" fill="none" stroke="#b6b6b6" stroke-width="0.42"/><polyline points="278.84,324.27 322.7,280.75 324.61,221.03" fill="none" stroke="#b6b6b6" stroke-width="0.42"/><polyline points="290.23,328.03 333.44,283.92 335.82,223.93" fill="none" stroke="#b6b6b6" stroke-width="0.42"/><polyline points="297.36,327.97 217.07,301.59 214.36,240.14" fill="none" stroke="#b6b6b6" stroke-width="0.42"/><polyline points="303.26,321.87 223.54,296.07 221.15,235.08" fill="none" stroke="#b6b6b6" stroke-width="0.42"/><polyline points="309.01,315.91 229.87,290.68 227.79,230.13" fill="none" stroke="#b6b6b6" stroke-width="0.42"/><polyline points="314.65,310.08 236.07,285.39 234.28,225.29" fill="none" stroke="#b6b6b6" stroke-width="0.42"/><polyline points="320.15,304.38 242.14,280.22 240.62,220.55" fill="none" stroke="#b6b6b6" stroke-width="0.42"/><polyline points="325.54,298.81 248.09,275.16 246.83,215.92" fill="none" stroke="#b6b6b6" stroke-width="0.42"/><polyline points="330.81,293.35 253.91,270.19 252.91,211.38" fill="none" stroke="#b6b6b6" stroke-width="0.42"/><polyline points="335.97,288.01 259.62,265.33 258.86,206.94" fill="none" stroke="#b6b6b6" stroke-width="0.42"/><polyline points="214.85,297.18 262.34,257.21 338.75,279.48" fill="none" stroke="#b6b6b6" stroke-width="0.42"/><polyline points="214.44,288.17 262.25,248.68 339.13,270.67" fill="none" stroke="#b6b6b6" stroke-width="0.42"/><polyline points="214.02,279.03 262.15,240.04 339.51,261.75" fill="none" stroke="#b6b6b6" stroke-width="0.42"/><polyline points="213.6,269.78 262.06,231.29 339.91,252.72" fill="none" stroke="#b6b6b6" stroke-width="0.42"/><polyline points="213.17,260.4 261.96,222.44 340.3,243.57" fill="none" stroke="#b6b6b6" stroke-width="0.42"/><polyline points="212.74,250.9 261.86,213.48 340.7,234.31" fill="none" stroke="#b6b6b6" stroke-width="0.42"/><polyline points="215.12,303.24 295.59,329.8 338.49,285.41 341.09,225.3" fill="none" stroke="#444" stroke-width="0.35"/><line x1="224.21" y1="306.24" x2="222.68" y2="307.57" stroke="#444" stroke-width="0.3"/><text x="221.91" y="314.64" font-size="3.3" font-family="'DejaVu Sans','Liberation Sans',sans-serif" text-anchor="middle" stroke="#000" stroke-width="0.04">12.5</text><line x1="234.84" y1="309.75" x2="233.33" y2="311.1" stroke="#444" stroke-width="0.3"/><text x="232.54" y="318.4" font-size="3.3" font-family="'DejaVu Sans','Liberation Sans',sans-serif" text-anchor="middle" stroke="#000" stroke-width="0.04">13.0</text><line x1="245.61" y1="313.3" x2="244.12" y2="314.67" stroke="#444" stroke-width="0.3"/><text x="243.31" y="322.2" font-size="3.3" font-family="'DejaVu Sans','Liberation Sans',sans-serif" text-anchor="middle" stroke="#000" stroke-width="0.04">13.5</text><line x1="256.54" y1="316.91" x2="255.06" y2="318.3" stroke="#444" stroke-width="0.3"/><text x="254.24" y="326.06" font-size="3.3" font-family="'DejaVu Sans','Liberation Sans',sans-serif" text-anchor="middle" stroke="#000" stroke-width="0.04">14.0</text><line x1="267.61" y1="320.56" x2="266.16" y2="321.97" stroke="#444" stroke-width="0.3"/><text x="265.31" y="329.96" font-size="3.3" font-family="'DejaVu Sans','Liberation Sans',sans-serif" text-anchor="middle" stroke="#000" stroke-width="0.04">14.5</text><line x1="278.84" y1="324.27" x2="277.41" y2="325.7" stroke="#444" stroke-width="0.3"/><text x="276.54" y="333.92" font-size="3.3" font-family="'DejaVu Sans','Liberation Sans',sans-serif" text-anchor="middle" stroke="#000" stroke-width="0.04">15.0</text><line x1="290.23" y1="328.03" x2="288.82" y2="329.47" stroke="#444" stroke-width="0.3"/><text x="287.93" y="337.93" font-size="3.3" font-family="'DejaVu Sans','Liberation Sans',sans-serif" text-anchor="middle" stroke="#000" stroke-width="0.04">15.5</text><line x1="297.36" y1="327.97" x2="299.9" y2="328.8" stroke="#444" stroke-width="0.3"/><text x="300.76" y="335.27" font-size="3.3" font-family="'DejaVu Sans','Liberation Sans',sans-serif" text-anchor="middle" stroke="#000" stroke-width="0.04">525</text><line x1="303.26" y1="321.87" x2="305.77" y2="322.68" stroke="#444" stroke-width="0.3"/><text x="306.66" y="329.17" font-size="3.3" font-family="'DejaVu Sans','Liberation Sans',sans-serif" text-anchor="middle" stroke="#000" stroke-width="0.04">550</text><line x1="309.01" y1="315.91" x2="311.51" y2="316.71" stroke="#444" stroke-width="0.3"/><text x="312.41" y="323.21" font-size="3.3" font-family="'DejaVu Sans','Liberation Sans',sans-serif" text-anchor="middle" stroke="#000" stroke-width="0.04">575</text><line x1="314.65" y1="310.08" x2="317.12" y2="310.86" stroke="#444" stroke-width="0.3"/><text x="318.05" y="317.38" font-size="3.3" font-family="'DejaVu Sans','Liberation Sans',sans-serif" text-anchor="middle" stroke="#000" stroke-width="0.04">600</text><line x1="320.15" y1="304.38" x2="322.61" y2="305.15" stroke="#444" stroke-width="0.3"/><text x="323.55" y="311.68" font-size="3.3" font-family="'DejaVu Sans','Liberation Sans',sans-serif" text-anchor="middle" stroke="#000" stroke-width="0.04">625</text><line x1="325.54" y1="298.81" x2="327.98" y2="299.55" stroke="#444" stroke-width="0.3"/><text x="328.94" y="306.11" font-size="3.3" font-family="'DejaVu Sans','Liberation Sans',sans-serif" text-anchor="middle" stroke="#000" stroke-width="0.04">650</text><line x1="330.81" y1="293.35" x2="333.23" y2="294.08" stroke="#444" stroke-width="0.3"/><text x="334.21" y="300.65" font-size="3.3" font-family="'DejaVu Sans','Liberation Sans',sans-serif" text-anchor="middle" stroke="#000" stroke-width="0.04">675</text><line x1="335.97" y1="288.01" x2="338.37" y2="288.73" stroke="#444" stroke-width="0.3"/><text x="339.37" y="295.31" font-size="3.3" font-family="'DejaVu Sans','Liberation Sans',sans-serif" text-anchor="middle" stroke="#000" stroke-width="0.04">700</text><line x1="338.75" y1="279.48" x2="341.15" y2="280.18" stroke="#444" stroke-width="0.3"/><text x="342.45" y="280.78" font-size="3.3" font-family="'DejaVu Sans','Liberation Sans',sans-serif" stroke="#000" stroke-width="0.04">107.5</text><line x1="339.13" y1="270.67" x2="341.55" y2="271.36" stroke="#444" stroke-width="0.3"/><text x="342.83" y="271.97" font-size="3.3" font-family="'DejaVu Sans','Liberation Sans',sans-serif" stroke="#000" stroke-width="0.04">108.0</text><line x1="339.51" y1="261.75" x2="341.95" y2="262.44" stroke="#444" stroke-width="0.3"/><text x="343.21" y="263.05" font-size="3.3" font-family="'DejaVu Sans','Liberation Sans',sans-serif" stroke="#000" stroke-width="0.04">108.5</text><line x1="339.91" y1="252.72" x2="342.36" y2="253.4" stroke="#444" stroke-width="0.3"/><text x="343.61" y="254.02" font-size="3.3" font-family="'DejaVu Sans','Liberation Sans',sans-serif" stroke="#000" stroke-width="0.04">109.0</text><line x1="340.3" y1="243.57" x2="342.77" y2="244.24" stroke="#444" stroke-width="0.3"/><text x="344" y="244.87" font-size="3.3" font-family="'DejaVu Sans','Liberation Sans',sans-serif" stroke="#000" stroke-width="0.04">109.5</text><line x1="340.7" y1="234.31" x2="343.19" y2="234.96" stroke="#444" stroke-width="0.3"/><text x="344.4" y="235.61" font-size="3.3" font-family="'DejaVu Sans','Liberation Sans',sans-serif" stroke="#000" stroke-width="0.04">110.0</text><polygon points="226.2,707.44 305.42,733.13 347.64,690.18 272.74,668.47" fill="#f7f7f7" stroke="#e4e4e4" stroke-width="0.3"/><polygon points="226.2,707.44 272.74,668.47 272.12,612.18 223.45,647.86" fill="#f3f3f3" stroke="#e4e4e4" stroke-width="0.3"/><polygon points="272.74,668.47 347.64,690.18 350.21,632.03 272.12,612.18" fill="#f0f0f0" stroke="#e4e4e4" stroke-width="0.3"/><polyline points="235.15,710.34 281.23,670.93 280.96,614.43" fill="none" stroke="#b6b6b6" stroke-width="0.42"/><polyline points="245.61,713.73 291.15,673.8 291.28,617.05" fill="none" stroke="#b6b6b6" stroke-width="0.42"/><polyline points="256.22,717.17 301.2,676.72 301.75,619.71" fill="none" stroke="#b6b6b6" stroke-width="0.42"/><polyline points="266.97,720.66 311.37,679.67 312.35,622.41" fill="none" stroke="#b6b6b6" stroke-width="0.42"/><polyline points="277.87,724.19 321.67,682.65 323.09,625.14" fill="none" stroke="#b6b6b6" stroke-width="0.42"/><polyline points="288.93,727.78 332.1,685.68 333.98,627.91" fill="none" stroke="#b6b6b6" stroke-width="0.42"/><polyline points="300.14,731.41 342.67,688.74 345.02,630.71" fill="none" stroke="#b6b6b6" stroke-width="0.42"/><polyline points="307.16,731.35 228.12,705.84 225.45,646.39" fill="none" stroke="#b6b6b6" stroke-width="0.42"/><polyline points="312.96,725.46 234.49,700.5 232.13,641.49" fill="none" stroke="#b6b6b6" stroke-width="0.42"/><polyline points="318.63,719.69 240.72,695.28 238.67,636.7" fill="none" stroke="#b6b6b6" stroke-width="0.42"/><polyline points="324.17,714.05 246.83,690.17 245.06,632.02" fill="none" stroke="#b6b6b6" stroke-width="0.42"/><polyline points="329.59,708.54 252.8,685.17 251.31,627.44" fill="none" stroke="#b6b6b6" stroke-width="0.42"/><polyline points="334.9,703.15 258.65,680.27 257.42,622.96" fill="none" stroke="#b6b6b6" stroke-width="0.42"/><polyline points="340.09,697.87 264.39,675.47 263.4,618.57" fill="none" stroke="#b6b6b6" stroke-width="0.42"/><polyline points="345.16,692.7 270,670.76 269.26,614.28" fill="none" stroke="#b6b6b6" stroke-width="0.42"/><polyline points="225.94,701.78 272.69,663.11 347.89,684.66" fill="none" stroke="#b6b6b6" stroke-width="0.42"/><polyline points="225.51,692.56 272.59,654.38 348.28,675.65" fill="none" stroke="#b6b6b6" stroke-width="0.42"/><polyline points="225.08,683.21 272.49,645.53 348.69,666.52" fill="none" stroke="#b6b6b6" stroke-width="0.42"/><polyline points="224.64,673.73 272.39,636.57 349.1,657.26" fill="none" stroke="#b6b6b6" stroke-width="0.42"/><polyline points="224.2,664.12 272.29,627.5 349.51,647.88" fill="none" stroke="#b6b6b6" stroke-width="0.42"/><polyline points="223.75,654.37 272.19,618.31 349.93,638.38" fill="none" stroke="#b6b6b6" stroke-width="0.42"/><polyline points="226.2,707.44 305.42,733.13 347.64,690.18 350.21,632.03" fill="none" stroke="#444" stroke-width="0.35"/><line x1="235.15" y1="710.34" x2="233.64" y2="711.63" stroke="#444" stroke-width="0.3"/><text x="232.15" y="718.94" font-size="3.3" font-family="'DejaVu Sans','Liberation Sans',sans-serif" text-anchor="middle" stroke="#000" stroke-width="0.04">12.5</text><line x1="245.61" y1="713.73" x2="244.12" y2="715.04" stroke="#444" stroke-width="0.3"/><text x="242.61" y="722.66" font-size="3.3" font-family="'DejaVu Sans','Liberation Sans',sans-serif" text-anchor="middle" stroke="#000" stroke-width="0.04">13.0</text><line x1="256.22" y1="717.17" x2="254.75" y2="718.49" stroke="#444" stroke-width="0.3"/><text x="253.22" y="726.44" font-size="3.3" font-family="'DejaVu Sans','Liberation Sans',sans-serif" text-anchor="middle" stroke="#000" stroke-width="0.04">13.5</text><line x1="266.97" y1="720.66" x2="265.52" y2="722" stroke="#444" stroke-width="0.3"/><text x="263.97" y="730.26" font-size="3.3" font-family="'DejaVu Sans','Liberation Sans',sans-serif" text-anchor="middle" stroke="#000" stroke-width="0.04">14.0</text><line x1="277.87" y1="724.19" x2="276.44" y2="725.55" stroke="#444" stroke-width="0.3"/><text x="274.87" y="734.13" font-size="3.3" font-family="'DejaVu Sans','Liberation Sans',sans-serif" text-anchor="middle" stroke="#000" stroke-width="0.04">14.5</text><line x1="288.93" y1="727.78" x2="287.51" y2="729.16" stroke="#444" stroke-width="0.3"/><text x="285.93" y="738.05" font-size="3.3" font-family="'DejaVu Sans','Liberation Sans',sans-serif" text-anchor="middle" stroke="#000" stroke-width="0.04">15.0</text><line x1="300.14" y1="731.41" x2="298.75" y2="732.81" stroke="#444" stroke-width="0.3"/><text x="297.14" y="742.01" font-size="3.3" font-family="'DejaVu Sans','Liberation Sans',sans-serif" text-anchor="middle" stroke="#000" stroke-width="0.04">15.5</text><line x1="307.16" y1="731.35" x2="309.66" y2="732.16" stroke="#444" stroke-width="0.3"/><text x="311.36" y="739.95" font-size="3.3" font-family="'DejaVu Sans','Liberation Sans',sans-serif" text-anchor="middle" stroke="#000" stroke-width="0.04">525</text><line x1="312.96" y1="725.46" x2="315.44" y2="726.24" stroke="#444" stroke-width="0.3"/><text x="317.16" y="734.06" font-size="3.3" font-family="'DejaVu Sans','Liberation Sans',sans-serif" text-anchor="middle" stroke="#000" stroke-width="0.04">550</text><line x1="318.63" y1="719.69" x2="321.09" y2="720.46" stroke="#444" stroke-width="0.3"/><text x="322.83" y="728.29" font-size="3.3" font-family="'DejaVu Sans','Liberation Sans',sans-serif" text-anchor="middle" stroke="#000" stroke-width="0.04">575</text><line x1="324.17" y1="714.05" x2="326.61" y2="714.81" stroke="#444" stroke-width="0.3"/><text x="328.37" y="722.65" font-size="3.3" font-family="'DejaVu Sans','Liberation Sans',sans-serif" text-anchor="middle" stroke="#000" stroke-width="0.04">600</text><line x1="329.59" y1="708.54" x2="332.01" y2="709.28" stroke="#444" stroke-width="0.3"/><text x="333.79" y="717.14" font-size="3.3" font-family="'DejaVu Sans','Liberation Sans',sans-serif" text-anchor="middle" stroke="#000" stroke-width="0.04">625</text><line x1="334.9" y1="703.15" x2="337.3" y2="703.87" stroke="#444" stroke-width="0.3"/><text x="339.1" y="711.75" font-size="3.3" font-family="'DejaVu Sans','Liberation Sans',sans-serif" text-anchor="middle" stroke="#000" stroke-width="0.04">650</text><line x1="340.09" y1="697.87" x2="342.47" y2="698.57" stroke="#444" stroke-width="0.3"/><text x="344.29" y="706.47" font-size="3.3" font-family="'DejaVu Sans','Liberation Sans',sans-serif" text-anchor="middle" stroke="#000" stroke-width="0.04">675</text><line x1="345.16" y1="692.7" x2="347.53" y2="693.39" stroke="#444" stroke-width="0.3"/><text x="349.36" y="701.3" font-size="3.3" font-family="'DejaVu Sans','Liberation Sans',sans-serif" text-anchor="middle" stroke="#000" stroke-width="0.04">700</text><line x1="347.89" y1="684.66" x2="350.25" y2="685.33" stroke="#444" stroke-width="0.3"/><text x="351.59" y="685.96" font-size="3.3" font-family="'DejaVu Sans','Liberation Sans',sans-serif" stroke="#000" stroke-width="0.04">32.0</text><line x1="348.28" y1="675.65" x2="350.67" y2="676.32" stroke="#444" stroke-width="0.3"/><text x="351.98" y="676.95" font-size="3.3" font-family="'DejaVu Sans','Liberation Sans',sans-serif" stroke="#000" stroke-width="0.04">32.5</text><line x1="348.69" y1="666.52" x2="351.09" y2="667.18" stroke="#444" stroke-width="0.3"/><text x="352.39" y="667.82" font-size="3.3" font-family="'DejaVu Sans','Liberation Sans',sans-serif" stroke="#000" stroke-width="0.04">33.0</text><line x1="349.1" y1="657.26" x2="351.51" y2="657.91" stroke="#444" stroke-width="0.3"/><text x="352.8" y="658.56" font-size="3.3" font-family="'DejaVu Sans','Liberation Sans',sans-serif" stroke="#000" stroke-width="0.04">33.5</text><line x1="349.51" y1="647.88" x2="351.94" y2="648.53" stroke="#444" stroke-width="0.3"/><text x="353.21" y="649.18" font-size="3.3" font-family="'DejaVu Sans','Liberation Sans',sans-serif" stroke="#000" stroke-width="0.04">34.0</text><line x1="349.93" y1="638.38" x2="352.38" y2="639.01" stroke="#444" stroke-width="0.3"/><text x="353.63" y="639.68" font-size="3.3" font-family="'DejaVu Sans','Liberation Sans',sans-serif" stroke="#000" stroke-width="0.04">34.5</text><polygon points="225.4,1112.18 304.62,1137.87 346.84,1094.92 271.94,1073.21" fill="#f7f7f7" stroke="#e4e4e4" stroke-width="0.3"/><polygon points="225.4,1112.18 271.94,1073.21 271.32,1016.92 222.65,1052.6" fill="#f3f3f3" stroke="#e4e4e4" stroke-width="0.3"/><polygon points="271.94,1073.21 346.84,1094.92 349.41,1036.77 271.32,1016.92" fill="#f0f0f0" stroke="#e4e4e4" stroke-width="0.3"/><polyline points="234.35,1115.08 280.43,1075.67 280.16,1019.17" fill="none" stroke="#b6b6b6" stroke-width="0.42"/><polyline points="244.81,1118.47 290.35,1078.54 290.48,1021.79" fill="none" stroke="#b6b6b6" stroke-width="0.42"/><polyline points="255.42,1121.91 300.4,1081.46 300.95,1024.45" fill="none" stroke="#b6b6b6" stroke-width="0.42"/><polyline points="266.17,1125.4 310.57,1084.41 311.55,1027.15" fill="none" stroke="#b6b6b6" stroke-width="0.42"/><polyline points="277.07,1128.93 320.87,1087.39 322.29,1029.88" fill="none" stroke="#b6b6b6" stroke-width="0.42"/><polyline points="288.13,1132.52 331.3,1090.42 333.18,1032.65" fill="none" stroke="#b6b6b6" stroke-width="0.42"/><polyline points="299.34,1136.15 341.87,1093.48 344.22,1035.45" fill="none" stroke="#b6b6b6" stroke-width="0.42"/><polyline points="306.36,1136.09 227.32,1110.58 224.65,1051.13" fill="none" stroke="#b6b6b6" stroke-width="0.42"/><polyline points="312.16,1130.2 233.69,1105.24 231.33,1046.23" fill="none" stroke="#b6b6b6" stroke-width="0.42"/><polyline points="317.83,1124.43 239.92,1100.02 237.87,1041.44" fill="none" stroke="#b6b6b6" stroke-width="0.42"/><polyline points="323.37,1118.79 246.03,1094.91 244.26,1036.76" fill="none" stroke="#b6b6b6" stroke-width="0.42"/><polyline points="328.79,1113.28 252,1089.91 250.51,1032.18" fill="none" stroke="#b6b6b6" stroke-width="0.42"/><polyline points="334.1,1107.89 257.85,1085.01 256.62,1027.7" fill="none" stroke="#b6b6b6" stroke-width="0.42"/><polyline points="339.29,1102.61 263.59,1080.21 262.6,1023.31" fill="none" stroke="#b6b6b6" stroke-width="0.42"/><polyline points="344.36,1097.44 269.2,1075.5 268.46,1019.02" fill="none" stroke="#b6b6b6" stroke-width="0.42"/><polyline points="225.21,1108.04 271.9,1069.29 347.02,1090.88" fill="none" stroke="#b6b6b6" stroke-width="0.42"/><polyline points="224.85,1100.17 271.82,1061.83 347.36,1083.18" fill="none" stroke="#b6b6b6" stroke-width="0.42"/><polyline points="224.48,1092.2 271.73,1054.29 347.7,1075.4" fill="none" stroke="#b6b6b6" stroke-width="0.42"/><polyline points="224.1,1084.14 271.65,1046.66 348.05,1067.53" fill="none" stroke="#b6b6b6" stroke-width="0.42"/><polyline points="223.73,1075.98 271.56,1038.96 348.4,1059.57" fill="none" stroke="#b6b6b6" stroke-width="0.42"/><polyline points="223.35,1067.72 271.48,1031.16 348.76,1051.51" fill="none" stroke="#b6b6b6" stroke-width="0.42"/><polyline points="222.96,1059.36 271.39,1023.29 349.12,1043.36" fill="none" stroke="#b6b6b6" stroke-width="0.42"/><polyline points="225.4,1112.18 304.62,1137.87 346.84,1094.92 349.41,1036.77" fill="none" stroke="#444" stroke-width="0.35"/><line x1="234.35" y1="1115.08" x2="232.84" y2="1116.37" stroke="#444" stroke-width="0.3"/><text x="231.35" y="1123.68" font-size="3.3" font-family="'DejaVu Sans','Liberation Sans',sans-serif" text-anchor="middle" stroke="#000" stroke-width="0.04">12.5</text><line x1="244.81" y1="1118.47" x2="243.32" y2="1119.78" stroke="#444" stroke-width="0.3"/><text x="241.81" y="1127.4" font-size="3.3" font-family="'DejaVu Sans','Liberation Sans',sans-serif" text-anchor="middle" stroke="#000" stroke-width="0.04">13.0</text><line x1="255.42" y1="1121.91" x2="253.95" y2="1123.23" stroke="#444" stroke-width="0.3"/><text x="252.42" y="1131.18" font-size="3.3" font-family="'DejaVu Sans','Liberation Sans',sans-serif" text-anchor="middle" stroke="#000" stroke-width="0.04">13.5</text><line x1="266.17" y1="1125.4" x2="264.72" y2="1126.74" stroke="#444" stroke-width="0.3"/><text x="263.17" y="1135" font-size="3.3" font-family="'DejaVu Sans','Liberation Sans',sans-serif" text-anchor="middle" stroke="#000" stroke-width="0.04">14.0</text><line x1="277.07" y1="1128.93" x2="275.64" y2="1130.29" stroke="#444" stroke-width="0.3"/><text x="274.07" y="1138.87" font-size="3.3" font-family="'DejaVu Sans','Liberation Sans',sans-serif" text-anchor="middle" stroke="#000" stroke-width="0.04">14.5</text><line x1="288.13" y1="1132.52" x2="286.71" y2="1133.9" stroke="#444" stroke-width="0.3"/><text x="285.13" y="1142.79" font-size="3.3" font-family="'DejaVu Sans','Liberation Sans',sans-serif" text-anchor="middle" stroke="#000" stroke-width="0.04">15.0</text><line x1="299.34" y1="1136.15" x2="297.95" y2="1137.55" stroke="#444" stroke-width="0.3"/><text x="296.34" y="1146.75" font-size="3.3" font-family="'DejaVu Sans','Liberation Sans',sans-serif" text-anchor="middle" stroke="#000" stroke-width="0.04">15.5</text><line x1="306.36" y1="1136.09" x2="308.86" y2="1136.9" stroke="#444" stroke-width="0.3"/><text x="310.56" y="1144.69" font-size="3.3" font-family="'DejaVu Sans','Liberation Sans',sans-serif" text-anchor="middle" stroke="#000" stroke-width="0.04">525</text><line x1="312.16" y1="1130.2" x2="314.64" y2="1130.98" stroke="#444" stroke-width="0.3"/><text x="316.36" y="1138.8" font-size="3.3" font-family="'DejaVu Sans','Liberation Sans',sans-serif" text-anchor="middle" stroke="#000" stroke-width="0.04">550</text><line x1="317.83" y1="1124.43" x2="320.29" y2="1125.2" stroke="#444" stroke-width="0.3"/><text x="322.03" y="1133.03" font-size="3.3" font-family="'DejaVu Sans','Liberation Sans',sans-serif" text-anchor="middle" stroke="#000" stroke-width="0.04">575</text><line x1="323.37" y1="1118.79" x2="325.81" y2="1119.55" stroke="#444" stroke-width="0.3"/><text x="327.57" y="1127.39" font-size="3.3" font-family="'DejaVu Sans','Liberation Sans',sans-serif" text-anchor="middle" stroke="#000" stroke-width="0.04">600</text><line x1="328.79" y1="1113.28" x2="331.21" y2="1114.02" stroke="#444" stroke-width="0.3"/><text x="332.99" y="1121.88" font-size="3.3" font-family="'DejaVu Sans','Liberation Sans',sans-serif" text-anchor="middle" stroke="#000" stroke-width="0.04">625</text><line x1="334.1" y1="1107.89" x2="336.5" y2="1108.61" stroke="#444" stroke-width="0.3"/><text x="338.3" y="1116.49" font-size="3.3" font-family="'DejaVu Sans','Liberation Sans',sans-serif" text-anchor="middle" stroke="#000" stroke-width="0.04">650</text><line x1="339.29" y1="1102.61" x2="341.67" y2="1103.31" stroke="#444" stroke-width="0.3"/><text x="343.49" y="1111.21" font-size="3.3" font-family="'DejaVu Sans','Liberation Sans',sans-serif" text-anchor="middle" stroke="#000" stroke-width="0.04">675</text><line x1="344.36" y1="1097.44" x2="346.73" y2="1098.13" stroke="#444" stroke-width="0.3"/><text x="348.56" y="1106.04" font-size="3.3" font-family="'DejaVu Sans','Liberation Sans',sans-serif" text-anchor="middle" stroke="#000" stroke-width="0.04">700</text><line x1="347.02" y1="1090.88" x2="349.39" y2="1091.56" stroke="#444" stroke-width="0.3"/><text x="350.72" y="1092.18" font-size="3.3" font-family="'DejaVu Sans','Liberation Sans',sans-serif" stroke="#000" stroke-width="0.04">400</text><line x1="347.36" y1="1083.18" x2="349.74" y2="1083.86" stroke="#444" stroke-width="0.3"/><text x="351.06" y="1084.48" font-size="3.3" font-family="'DejaVu Sans','Liberation Sans',sans-serif" stroke="#000" stroke-width="0.04">500</text><line x1="347.7" y1="1075.4" x2="350.1" y2="1076.07" stroke="#444" stroke-width="0.3"/><text x="351.4" y="1076.7" font-size="3.3" font-family="'DejaVu Sans','Liberation Sans',sans-serif" stroke="#000" stroke-width="0.04">600</text><line x1="348.05" y1="1067.53" x2="350.46" y2="1068.19" stroke="#444" stroke-width="0.3"/><text x="351.75" y="1068.83" font-size="3.3" font-family="'DejaVu Sans','Liberation Sans',sans-serif" stroke="#000" stroke-width="0.04">700</text><line x1="348.4" y1="1059.57" x2="350.82" y2="1060.22" stroke="#444" stroke-width="0.3"/><text x="352.1" y="1060.87" font-size="3.3" font-family="'DejaVu Sans','Liberation Sans',sans-serif" stroke="#000" stroke-width="0.04">800</text><line x1="348.76" y1="1051.51" x2="351.19" y2="1052.15" stroke="#444" stroke-width="0.3"/><text x="352.46" y="1052.81" font-size="3.3" font-family="'DejaVu Sans','Liberation Sans',sans-serif" stroke="#000" stroke-width="0.04">900</text><line x1="349.12" y1="1043.36" x2="351.57" y2="1043.99" stroke="#444" stroke-width="0.3"/><text x="352.82" y="1044.66" font-size="3.3" font-family="'DejaVu Sans','Liberation Sans',sans-serif" stroke="#000" stroke-width="0.04">1000</text><text x="276.1" y="191.9" font-size="4.44" font-family="'DejaVu Sans','Liberation Sans',sans-serif" text-anchor="middle" stroke="#000" stroke-width="0.04">3D Scatter Plot with Interpolated Surface (Nonlinear Fit)</text><rect x="318" y="196.4" width="28.3" height="7" rx="0.8" fill="#fff" fill-opacity="0.8" stroke="#ccc" stroke-width="0.35"/><rect x="322.1" y="199" width="1.8" height="1.8" fill="#0a0af0"/><text x="329.3" y="201.2" font-size="3.74" font-family="'DejaVu Sans','Liberation Sans',sans-serif" stroke="#000" stroke-width="0.04">Actual Y</text><text x="247.26" y="329.87" font-size="3.73" font-family="'DejaVu Sans','Liberation Sans',sans-serif" text-anchor="middle" transform="rotate(19 247.26 329.87)" stroke="#000" stroke-width="0.04">Independent Variable 1 (X1)</text><text x="328.58" y="317.42" font-size="3.73" font-family="'DejaVu Sans','Liberation Sans',sans-serif" text-anchor="middle" transform="rotate(-47 328.58 317.42)" stroke="#000" stroke-width="0.04">Independent Variable 2 (X2)</text><text x="358" y="253.8" font-size="5.45" font-family="'DejaVu Sans','Liberation Sans',sans-serif" text-anchor="middle" transform="rotate(90 358 253.8)" stroke="#000" stroke-width="0.04">Dependent Variable (Y)</text><text x="285.6" y="599.5" font-size="4.36" font-family="'DejaVu Sans','Liberation Sans',sans-serif" text-anchor="middle" stroke="#000" stroke-width="0.04">3D Scatter Plot with Fitted Surface (Nonlinear Fit)</text><rect x="326.8" y="603.2" width="28.3" height="7" rx="0.8" fill="#fff" fill-opacity="0.8" stroke="#ccc" stroke-width="0.35"/><rect x="330.9" y="605.8" width="1.8" height="1.8" fill="#0a0af0"/><text x="338.1" y="608" font-size="3.74" font-family="'DejaVu Sans','Liberation Sans',sans-serif" stroke="#000" stroke-width="0.04">Actual Y</text><text x="257.99" y="734.17" font-size="3.7" font-family="'DejaVu Sans','Liberation Sans',sans-serif" text-anchor="middle" transform="rotate(17.9 257.99 734.17)" stroke="#000" stroke-width="0.04">Independent Variable 1 (X1)</text><text x="337.95" y="721.73" font-size="3.7" font-family="'DejaVu Sans','Liberation Sans',sans-serif" text-anchor="middle" transform="rotate(-45.5 337.95 721.73)" stroke="#000" stroke-width="0.04">Independent Variable 2 (X2)</text><text x="367.2" y="666" font-size="5.4" font-family="'DejaVu Sans','Liberation Sans',sans-serif" text-anchor="middle" transform="rotate(90 367.2 666)" stroke="#000" stroke-width="0.04">Dependent Variable (Y)</text><text x="285.8" y="1004" font-size="4.4" font-family="'DejaVu Sans','Liberation Sans',sans-serif" text-anchor="middle" stroke="#000" stroke-width="0.04">3D Scatter Plot with Fitted Surface (Nonlinear Fit)</text><rect x="326.8" y="1008.3" width="28.3" height="7" rx="0.8" fill="#fff" fill-opacity="0.8" stroke="#ccc" stroke-width="0.35"/><rect x="330.9" y="1010.9" width="1.8" height="1.8" fill="#eea32a"/><text x="338.1" y="1013.1" font-size="3.74" font-family="'DejaVu Sans','Liberation Sans',sans-serif" stroke="#000" stroke-width="0.04">Actual Y</text><text x="257.99" y="1139.17" font-size="3.7" font-family="'DejaVu Sans','Liberation Sans',sans-serif" text-anchor="middle" transform="rotate(17.9 257.99 1139.17)" stroke="#000" stroke-width="0.04">Independent Variable 1 (X1)</text><text x="337.95" y="1126.73" font-size="3.7" font-family="'DejaVu Sans','Liberation Sans',sans-serif" text-anchor="middle" transform="rotate(-45.5 337.95 1126.73)" stroke="#000" stroke-width="0.04">Independent Variable 2 (X2)</text><text x="367.2" y="1066" font-size="5.4" font-family="'DejaVu Sans','Liberation Sans',sans-serif" text-anchor="middle" transform="rotate(90 367.2 1066)" stroke="#000" stroke-width="0.04">Dependent Variable (Y)</text><g opacity="0.82" stroke-width="0.15"><path fill="#f03824" stroke="#f03824" d="M223.2 268.3l1.3 .5 1.4-1.1-1.6-.7zM224.5 268.8l1.3 .6 1.7-1-1.6-.7zM225.8 269.4l1.3 .5 2-.8-1.6-.7zM227.5 268.4l1.6 .7 2-.8-1.9-.9zM230.9 268.2l1.4 .7 2-.8-1.7-.9zM232.6 267.2l1.7 .9 2-.9-2-1.1zM234.3 268.1l1.7 .8 2.3-.6-2-1.1zM236.1 267.1l1.4 .7 2-.8-1.7-1zM237.5 267.8l1.4 .8 2.3-.7-1.7-.9zM239.5 267l1.7 .9 2.3-.6-2-1.2zM242.6 266.8l1.5 .8 2.3-.6-1.8-1.1zM244.6 265.9l1.8 1.1 2.3-.7-2.1-1.3zM247.8 265.8l1.5 .9 2.3-.7-1.8-1.2zM249.8 264.8l1.8 1.2 2.3-.6-2.1-1.5zM252.9 264.7l1.6 1.1 2.3-.7-1.9-1.3zM258.1 263.7l1.5 1.1 2.3-.7-1.9-1.4zM277.3 260.9l2 2.1 2.5-.5-2.3-2.5zM280.1 260.6l1.7 1.9 2.6-.5-2-2.3zM282.4 259.7l2 2.3 2.6-.4-2.4-2.9zM285.2 259.4l1.8 2.2 2.5-.5-2.1-2.6zM290.2 258.3l1.8 2.4 2.6-.5-2.1-2.9zM300.3 255.9l1.9 2.9 2.5 1.3-2.2-3.9z"/><path fill="#f43c24" stroke="#f43c24" d="M227.1 269.9l1.3 .6 2.3-.6-1.6-.8zM228.4 270.5l1.3 .5 2.6-.4-1.6-.7zM230.7 269.9l1.6 .7 2.7-.4-2-1zM233.6 269.5l1.4 .7 2.6-.4-1.6-.9zM236 268.9l1.6 .9 2.7-.5-2-1zM238.9 268.6l1.4 .7 2.6-.4-1.7-1zM241.2 267.9l1.7 1 2.6-.4-2-1.2zM244.1 267.6l1.4 .9 2.6-.4-1.7-1.1zM246.4 267l1.7 1.1 2.7-.4-2.1-1.4zM249.3 266.7l1.5 1 2.6-.5-1.8-1.2zM251.6 266l1.8 1.2 2.6-.4-2.1-1.4zM254.5 265.8l1.5 1 2.6-.4-1.8-1.3zM256.8 265.1l1.8 1.3 2.6-.4-2.1-1.6zM259.6 264.8l1.6 1.2 2.6-.4-1.9-1.5zM261.9 264.1l1.9 1.5 2.6-.4-2.2-1.8zM264.8 263.9l1.6 1.3 2.6-.5-1.9-1.5zM267.1 263.2l1.9 1.5 2.6-.4-2.3-1.8zM269.9 263l1.7 1.3 2.5-.4-1.9-1.7zM272.2 262.2l1.9 1.7 2.6-.5-2.3-2.1zM275 261.8l1.7 1.6 2.6-.4-2-2.1z"/><path fill="#f03424" stroke="#f03424" d="M224.3 267l1.6 .7 1.4-1.2-1.9-.7zM225.9 267.7l1.6 .7 1.7-1-1.9-.9zM228.2 266.9l1.4 .7 1.4-1.2-1.7-.9zM229.6 267.6l1.3 .6 1.7-1-1.6-.8zM234.7 266.3l1.4 .8 1.7-1.1-1.7-.9zM237.8 266l1.7 1 2-.9-2-1.2zM241.2 265.9l1.4 .9 2-.9-1.7-1.1zM246.3 264.8l1.5 1 2-1-1.8-1.2zM254.9 263.8l1.9 1.3 2.3-.7-2.2-1.6zM260 262.7l1.9 1.4 2.3-.7-2.2-1.7zM263.2 262.6l1.6 1.3 2.3-.7-2-1.5zM265.1 261.7l2 1.5 2.2-.7-2.2-1.8zM268.3 261.6l1.6 1.4 2.3-.8-2-1.7zM287.4 258.5l2.1 2.6 2.5-.4-2.3-3.2zM292.5 257.3l2.1 2.9 2.5-.5-2.4-3.5zM295.3 257.1l1.8 2.6 2.6-.4-2.2-3.3z"/><path fill="#f43824" stroke="#f43824" d="M229.1 269.1l1.6 .8 2.3-.7-1.9-.9zM232.3 268.9l1.3 .6 2.4-.6-1.7-.8z"/><path fill="#ec3020" stroke="#ec3020" d="M229.3 265.5l1.7 .9 1.4-1.3-2-.7zM233.3 265.6l1.4 .7 1.4-1.2-1.7-1zM236.1 265.1l1.7 .9 1.7-1.1-2-1.2zM244.9 263.8l1.4 1 1.7-1.2-1.8-1.1zM248 263.6l1.8 1.2 2-.9-2.1-1.4zM256.5 262.5l1.6 1.2 1.9-1-1.8-1.4zM270.2 260.5l2 1.7 2.2-.9-2.2-2.2zM273.3 260.2l1.7 1.6 2.3-.9-2-2z"/><path fill="#f03020" stroke="#f03020" d="M231 266.4l1.6 .8 1.7-1.1-1.9-1zM239.8 265.1l1.4 .8 1.7-1.1-1.7-1zM242.9 264.8l1.7 1.1 2-.9-2-1.3zM251.4 263.7l1.5 1 2-.9-1.8-1.3zM297.5 256l2.2 3.3 2.5-.5-2.5-3.8zM303.4 253.7l1.9 3.8 2.1 .2-2.1-4.9z"/><path fill="#ec2c20" stroke="#ec2c20" d="M234.4 264.1l1.7 1 1.4-1.4-2-.7zM238.3 264.2l1.5 .9 1.4-1.3-1.8-1.1zM241.2 263.8l1.7 1 1.7-1.1-2.1-1.3zM249.9 262.6l1.5 1.1 1.7-1.2-1.8-1.3zM253.1 262.5l1.8 1.3 2-1-2.1-1.6zM258.2 261.3l1.8 1.4 2-1-2.2-1.7zM261.6 261.4l1.6 1.2 1.9-.9-1.9-1.6zM266.6 260.3l1.7 1.3 1.9-1.1-1.9-1.7zM275.3 258.9l2 2 2.2-.9-2.3-2.5zM278.4 258.8l1.7 1.8 2.3-.9-2.1-2.3z"/><path fill="#e82820" stroke="#e82820" d="M239.4 262.7l1.8 1.1 1.3-1.4-2-.8zM243.4 262.9l1.5 .9 1.3-1.3-1.8-1.2zM246.2 262.5l1.8 1.1 1.7-1.1-2.1-1.5zM251.3 261.2l1.8 1.3 1.7-1.3-2.2-1.5zM254.9 261.4l1.6 1.1 1.7-1.2-1.9-1.4zM260 260.1l1.6 1.3 1.6-1.3-1.9-1.5zM263.2 260.1l1.9 1.6 2-1-2.2-1.9zM280.3 257.4l2.1 2.3 2.2-1-2.3-2.8zM283.4 257.3l1.8 2.1 2.2-.9-2.1-2.6zM311.2 249.6l2 5.6 1.8-.4-2.2-7.2z"/><path fill="#e82420" stroke="#e82420" d="M244.4 261.3l1.8 1.2 1.4-1.5-2.1-.8zM248.4 261.6l1.5 1 1.4-1.4-1.9-1.3zM256.3 259.9l1.9 1.4 1.6-1.3-2.2-1.7zM268.3 258.8l1.9 1.7 2-1.4-2.3-2.1zM271.6 258.7l1.7 1.5 2-1.3-2-2zM288.4 255.9l1.8 2.4 2.3-1-2.1-3zM300.3 252.3l2.2 3.9 2.2 .2-2.5-5z"/><path fill="#e82020" stroke="#e82020" d="M249.4 259.9l1.9 1.3 1.3-1.5-2.1-.9zM253.4 260.2l1.5 1.2 1.4-1.5-1.9-1.4zM261.3 258.6l1.9 1.5 1.7-1.3-2.2-1.8zM265 258.9l1.6 1.4 1.7-1.5-2-1.8zM285.3 255.9l2.1 2.6 2.3-1-2.4-3.2zM298.4 252.9l1.9 3 2.2 .3-2.2-3.9z"/><path fill="#e41c1c" stroke="#e41c1c" d="M254.4 258.5l1.9 1.4 1.3-1.6-2.1-.9zM273.3 256.9l2 2 1.9-1.4-2.3-2.4zM290.4 254.3l2.1 3 2.2-1.1-2.4-3.5z"/><path fill="#e4201c" stroke="#e4201c" d="M258.4 258.9l1.6 1.2 1.3-1.5-1.9-1.5zM276.6 256.9l1.8 1.9 1.9-1.4-2-2.3zM293.4 254.4l1.9 2.7 2.2-1.1-2.1-3.2zM312.8 247.6l2.2 7.2 1.9-.8-2.5-9z"/><path fill="#e0181c" stroke="#e0181c" d="M259.4 257.1l1.9 1.5 1.4-1.6-2.3-1zM266.3 257l2 1.8 1.6-1.8-2.3-2.1zM278.3 255.1l2 2.3 2-1.5-2.4-2.8zM281.6 255.2l1.8 2.1 1.9-1.4-2-2.7zM295.4 252.8l2.1 3.2 2.2-1-2.4-3.8zM306.4 249.8l1.9 4.6 1.9-1.1-2.2-5.9z"/><path fill="#e4181c" stroke="#e4181c" d="M263.3 257.6l1.7 1.3 1.3-1.9-2-1.6zM269.9 257.1l1.7 1.6 1.7-1.8-2-2z"/><path fill="#dc1420" stroke="#dc1420" d="M264.3 255.4l2 1.6 1.3-2.1-2.2-1.1zM268.3 255.5l1.6 1.6 1.4-2.2-2-1.9zM271.3 254.9l2 2 1.6-1.8-2.3-2.5zM274.9 255.1l1.7 1.8 1.7-1.8-2.1-2.4zM286.6 253.5l1.8 2.4 2-1.6-2.1-2.9zM301.5 249.9l1.9 3.8 1.9-.9-2.2-4.9zM308 247.4l2.2 5.9 1.9-1.3-2.5-7.2z"/><path fill="#d01020" stroke="#d01020" d="M269.3 253l2 1.9 1.3-2.3-2.3-1.2zM273.2 253.2l1.7 1.9 1.3-2.4-2-2.2zM298.2 248.4l2.1 3.9 1.9-.9-2.4-4.9z"/><path fill="#c80824" stroke="#c80824" d="M274.2 250.5l2 2.2 1.4-2.4-2.4-1.4zM278.1 250.9l1.8 2.2 1.3-2.5-2.1-2.5zM289.8 249.1l1.8 2.6 1.6-2.1-2.1-3.3zM309.3 244l1.9 5.6 1.6-2-2.2-7.3z"/><path fill="#d41020" stroke="#d41020" d="M276.2 252.7l2.1 2.4 1.6-2-2.3-2.8zM279.9 253.1l1.7 2.1 1.7-2-2.1-2.6zM288.3 251.4l2.1 2.9 1.9-1.6-2.4-3.5zM296.6 250l1.8 2.9 1.9-.6-2.1-3.9zM318.9 243.8l1.9 8.5 1.6-3.1-2.1-10.6z"/><path fill="#c00024" stroke="#c00024" d="M279.1 248.1l2.1 2.5 1.3-2.6-2.4-1.5z"/><path fill="#cc0820" stroke="#cc0820" d="M281.2 250.6l2.1 2.6 1.6-2-2.4-3.2z"/><path fill="#d81420" stroke="#d81420" d="M283.3 253.2l2 2.7 2-1.6-2.4-3.1z"/><path fill="#c00424" stroke="#c00424" d="M283 248.7l1.8 2.4 1.3-2.6-2.1-2.8z"/><path fill="#d00c20" stroke="#d00c20" d="M284.8 251.1l1.8 2.4 1.7-2.1-2.2-2.9zM293.2 249.6l2.2 3.2 1.9-1.6-2.5-3.9zM314.1 243.9l2 7.1 1.6-2.6-2.2-8.9z"/><path fill="#b40028" stroke="#b40028" d="M284 245.7l2.1 2.8 1.4-2.8-2.5-1.6zM300.9 243l2.2 4.9 1.6-2.3-2.5-6.1z"/><path fill="#c40424" stroke="#c40424" d="M286.1 248.5l2.2 2.9 1.6-2.2-2.4-3.5zM294.7 247.1l1.9 2.9 1.6-1.6-2.2-3.9zM299.6 246.1l1.9 3.8 1.6-2-2.2-4.9zM304.5 245l1.9 4.8 1.6-2.4-2.2-5.9z"/><path fill="#b80028" stroke="#b80028" d="M287.9 246.4l1.9 2.7 1.3-2.8-2.2-3zM296 244.5l2.2 3.9 1.6-1.9-2.5-5zM315.5 239.5l2.2 8.9 1.6-3.1-2.5-11z"/><path fill="#d81020" stroke="#d81020" d="M291.6 251.7l1.8 2.7 2-1.6-2.2-3.2zM303.1 247.9l2.2 4.9 1.9-1.1-2.5-6.1z"/><path fill="#a40028" stroke="#a40028" d="M288.9 243.3l2.2 3 1.3-2.8-2.5-1.8z"/><path fill="#bc0028" stroke="#bc0028" d="M291.1 246.3l2.1 3.3 1.6-2.3-2.4-3.8zM320.3 238.6l2.1 10.6 1.7-3.7-2.4-12.7z"/><path fill="#a80028" stroke="#a80028" d="M292.8 244.1l1.9 3 1.3-2.6-2.2-3.7z"/><path fill="#980028" stroke="#980028" d="M293.8 240.8l2.2 3.7 1.3-3-2.5-2.3zM302.5 240.3l2 4.7 1.3-3.5-2.2-5.6z"/><path fill="#f84428" stroke="#f84428" d="M302.5 256.2l2.2 3.9 2.5 1.2-2.5-4.9zM308.3 254.4l1.9 4.7 2.2 .1-2.2-5.9z"/><path fill="#a00028" stroke="#a00028" d="M297.7 242.2l1.9 3.9 1.3-3.1-2.2-4.6z"/><path fill="#fc542c" stroke="#fc542c" d="M305.3 257.5l1.9 3.8 2.4 1.3-2.2-4.9z"/><path fill="#8c0028" stroke="#8c0028" d="M298.7 238.4l2.2 4.6 1.3-3.5-2.5-2.8zM312.2 236.8l1.9 7.1 1.4-4.4-2.2-8.5z"/><path fill="#f03024" stroke="#f03024" d="M305.3 252.8l2.1 4.9 2.2 .1-2.4-6.1zM317.7 248.4l2.1 8.8 1.9-1.1-2.4-10.8z"/><path fill="#fc6030" stroke="#fc6030" d="M307.4 257.7l2.2 4.9 2.5 1.2-2.5-6z"/><path fill="#fc7034" stroke="#fc7034" d="M310.2 259.1l1.9 4.7 2.4 1.2-2.1-5.8z"/><path fill="#800028" stroke="#800028" d="M303.6 235.9l2.2 5.6 1.3-4-2.6-3.2zM308.4 233.5l2.2 6.8 1.4-4.4-2.6-4.1zM313.3 231l2.2 8.5 1.3-5.2-2.6-4.9zM318.1 228.6l2.2 10 1.4-5.8-2.6-5.8z"/><path fill="#b00028" stroke="#b00028" d="M305.8 241.5l2.2 5.9 1.6-2.6-2.5-7.3zM310.6 240.3l2.2 7.3 1.6-2.6-2.4-9.1z"/><path fill="#f84028" stroke="#f84028" d="M310.2 253.3l2.2 5.9 2.1-.1-2.4-7.1z"/><path fill="#fc8038" stroke="#fc8038" d="M312.4 259.2l2.1 5.8 2.5 1.3-2.5-7.2z"/><path fill="#900028" stroke="#900028" d="M307.4 238.4l1.9 5.6 1.3-3.7-2.2-6.8z"/><path fill="#fc5c30" stroke="#fc5c30" d="M313.2 255.2l1.9 5.5 2.1 1.3-2.2-7.2z"/><path fill="#fc9440" stroke="#fc9440" d="M315.1 260.7l1.9 5.6 2.4 2.8-2.2-7.1z"/><path fill="#fc6430" stroke="#fc6430" d="M315 254.8l2.2 7.2 2.1 1-2.4-9z"/><path fill="#ffa448" stroke="#ffa448" d="M317.2 262l2.2 7.1 2.3 2.8-2.4-8.9zM322.7 260.7l1.9 8.4 2.1 .8-2.1-10.3z"/><path fill="#f44028" stroke="#f44028" d="M316.1 251l1.9 7 1.8-.8-2.1-8.8z"/><path fill="#fc883c" stroke="#fc883c" d="M318 258l1.8 6.9 2.2 1.1-2.2-8.8z"/><path fill="#ffb854" stroke="#ffb854" d="M319.8 264.9l1.9 7 2.4 2.7-2.1-8.6z"/><path fill="#fc903c" stroke="#fc903c" d="M319.8 257.2l2.2 8.8 2.1 .8-2.4-10.7z"/><path fill="#ffc864" stroke="#ffc864" d="M322 266l2.1 8.6 2.3 2.8-2.3-10.6z"/><path fill="#880028" stroke="#880028" d="M317 235.2l1.9 8.6 1.4-5.2-2.2-10z"/><path fill="#fc582c" stroke="#fc582c" d="M320.8 252.3l1.9 8.4 1.9-1.1-2.2-10.4z"/><path fill="#ffdc7c" stroke="#ffdc7c" d="M324.6 269.1l1.8 8.3 2.3 2.7-2-10.2z"/><path fill="#f84828" stroke="#f84828" d="M322.4 249.2l2.2 10.4 1.8-1.5-2.3-12.6z"/><path fill="#ffa848" stroke="#ffa848" d="M324.6 259.6l2.1 10.3 2 .7-2.3-12.5z"/><path fill="#ffe48c" stroke="#ffe48c" d="M326.7 269.9l2 10.2 2.3 2.7-2.3-12.2z"/></g><circle cx="221.55" cy="259.48" r="0.95" fill="#0a0af0" opacity="1"/><circle cx="221.95" cy="269.77" r="0.95" fill="#0a0af0" opacity="1"/><circle cx="228.23" cy="266.89" r="0.95" fill="#0a0af0" opacity="1"/><circle cx="228.51" cy="274.72" r="0.95" fill="#0a0af0" opacity="1"/><circle cx="265.54" cy="255.74" r="0.95" fill="#0a0af0" opacity="0.95"/><circle cx="265.61" cy="263.5" r="0.95" fill="#0a0af0" opacity="0.95"/><circle cx="299.2" cy="254.38" r="0.95" fill="#0a0af0" opacity="0.85"/><circle cx="299.17" cy="256.22" r="0.95" fill="#0a0af0" opacity="0.85"/><circle cx="321.8" cy="227.69" r="0.95" fill="#0a0af0" opacity="0.75"/><circle cx="320.7" cy="264.18" r="0.95" fill="#0a0af0" opacity="0.6"/><circle cx="332.28" cy="250.3" r="0.95" fill="#0a0af0" opacity="0.65"/><circle cx="331.04" cy="282.85" r="0.95" fill="#0a0af0" opacity="0.45"/><g opacity="0.85"><path fill="#903004" d="M233.6 656.5l2-.6 0 .5-2 .4zM233.6 656.5l2-.4 0 .5-2 .3zM233.6 656.6l2-.3 0 .4-2 .2zM237 656l1.9-.3 0 .6-1.9 .2zM237 656.3l1.9-.2 0 .6-1.9 .1zM240.4 655.8l1.9-.2 0 .9-1.9 .1zM242.1 655.6l1.9-.5 0 .8-1.9 .4zM245.5 654.8l1.9-.3 0 1-1.9 .2zM247.2 654.5l1.9-.1 0 1.2-1.9 0zM248.9 654.2l1.9-.3 0 1.2-1.9 .2zM252.2 653.6l2-.3 0 1.4-2 .2zM255.6 652.9l2-.3 0 1.7-2 .2zM257.3 652.4l2-.1 0 2-2 0zM259 652.4l2 .1 0 1.9-2-.2zM267.5 651.1l1.9 .1 0 2.6-1.9-.2zM328.4 643.2l2-1.7 0 2.2-2 1.9zM330.1 642.8l2-1 0 1.9-2 1.2zM331.8 642.3l2-.4 0 1.7-2 .7zM333.5 641.8l2-.1 0 1.3-2 .3zM336.9 641.6l2 0 0 .7-2 .3zM338.6 642.1l2-.8 0 .6-2 1zM340.3 641l1.7 .8 0 .3-1.7-.6zM340.3 641.2l1.7 .6 0 .3-1.7-.4zM340.3 641.4l1.7 .4 0 .3-1.7-.2zM340.3 641.6l1.7 .2 0 .3-1.7-.1zM340.3 641.8l1.7 0 0 .3-1.7 .1z"/><path fill="#943004" d="M233.6 656.7l2-.2 0 .4-2 .1zM233.6 656.8l2-.1 0 .4-2 0zM237 656.6l1.9-.2 0 .7-1.9 0zM238.7 656.7l1.9-.5 0 .6-1.9 .4zM243.8 655.4l1.9 0 0 1-1.9 0zM250.5 654.3l2-.1 0 1.5-2 0zM336.9 642.3l2-.3 0 .7-2 .6zM340.3 642l1.7-.2 0 .3-1.7 .3zM340.3 642.2l1.7-.4 0 .3-1.7 .5z"/><path fill="#943404" d="M233.6 656.8l2 0 0 .5-2-.1zM240.4 656.3l1.9-.1 0 .9-1.9 0zM242.1 656.1l1.9-.4 0 .8-1.9 .3zM245.5 655.5l1.9-.3 0 1-1.9 .2zM260.7 652.5l2 .2 0 2.2-2-.3zM335.2 642.7l2-.7 0 1.2-2 .9zM338.6 642.7l2-1.1 0 .6-2 1.3zM340.3 642.4l1.7-.6 0 .3-1.7 .7zM340.3 642.6l1.7-.8 0 .3-1.7 .9z"/><path fill="#983404" d="M233.6 656.9l2 .1 0 .4-2-.2zM233.6 657l2 .2 0 .4-2-.3zM233.6 657.1l2 .3 0 .4-2-.4zM233.6 657.1l2 .5 0 .4-2-.5zM233.6 657.2l2 .5 0 .5-2-.7zM233.6 657.3l2 .6 0 .2-2-.7zM235.3 657.7l1.9-.5 0 .4-1.9 .4zM237 656.8l1.9 0 0 .7-1.9-.1zM237 657.1l1.9 .1 0 .7-1.9-.2zM238.7 656.9l1.9-.4 0 .6-1.9 .3zM238.7 657.2l1.9-.4 0 .6-1.9 .3zM240.4 656.8l1.9 0 0 .9-1.9-.1zM242.1 656.5l1.9-.3 0 .8-1.9 .2zM243.8 656.1l1.9 .1 0 1-1.9-.1zM245.5 656.1l1.9-.1 0 .9-1.9 .1zM247.2 655.3l1.9 .1 0 1.2-1.9-.1zM248.9 655l1.9-.2 0 1.3-1.9 0zM252.2 654.7l2-.2 0 1.4-2 .1zM253.9 654.2l2-.1 0 1.7-2 0zM255.6 654.3l2-.2 0 1.7-2 .1zM262.4 652.6l1.9 .1 0 2.1-1.9-.2zM270.9 651.3l1.9 .1 0 2.9-1.9-.2zM318.3 645.1l1.9-1 0 2.8-1.9 1.2zM325.1 644.4l1.9-1.6 0 2.4-1.9 1.8zM326.8 644.3l1.9-1.7 0 2.2-1.9 1.8zM333.5 643.1l2-.4 0 1.3-2 .7zM336.9 643.1l2-.6 0 .7-2 .9zM338.6 643.3l2-1.3 0 .5-2 1.6zM340.3 642.7l1.7-.9 0 .3-1.7 1.1zM340.3 642.9l1.7-1.1 0 .3-1.7 1.3zM340.3 643.1l1.7-1.3 0 0-1.7 1.5z"/><path fill="#9c3404" d="M235.3 657.8l1.9-.5 0 .4-1.9 .4zM235.3 657.8l1.9-.3 0 .4-1.9 .2zM235.3 657.8l1.9-.2 0 .4-1.9 .1zM237 657.4l1.9 .2 0 .7-1.9-.4zM238.7 657.4l1.9-.2 0 .6-1.9 .1zM242.1 657l1.9-.2 0 .8-1.9 .1zM257.3 654l2 0 0 2-2-.1zM321.7 645.2l1.9-1.6 0 2.7-1.9 1.6zM338.6 643.9l2-1.6 0 .6-2 1.8z"/><path fill="#9c3804" d="M235.3 657.9l1.9-.1 0 .3-1.9 0zM235.3 657.9l1.9 0 0 .4-1.9-.1zM238.7 657.6l1.9-.1 0 .6-1.9 0zM248.9 655.9l1.9-.1 0 1.2-1.9 0zM250.5 655.4l2 .1 0 1.5-2-.2zM259 654l2 .2 0 1.9-2-.3zM264.1 652.9l1.9 .3 0 2.4-1.9-.3zM265.8 652.8l1.9 .1 0 2.4-1.9-.2zM323.4 645.3l1.9-1.5 0 2.4-1.9 1.6zM335.2 643.9l2-1 0 1.1-2 1.3zM336.9 643.8l2-.8 0 .7-2 1.1z"/><path fill="#a03804" d="M235.3 657.9l1.9 .1 0 .4-1.9-.2zM235.3 657.9l1.9 .3 0 .3-1.9-.3zM235.3 658l1.9 .3 0 .4-1.9-.4zM235.3 658l1.9 .4 0 .4-1.9-.5zM235.3 658l1.9 .6 0 .3-1.9-.6zM235.3 658.1l1.9 .6 0 .1-1.9-.7zM237 657.7l1.9 .3 0 .6-1.9-.4zM237 658l1.9 .4 0 .6-1.9-.5zM238.7 657.9l1.9 0 0 .6-1.9-.1zM238.7 658.1l1.9 .1 0 .6-1.9-.2zM240.4 657.3l1.9 .1 0 .9-1.9-.2zM242.1 657.4l1.9-.1 0 .8-1.9 0zM243.8 656.8l1.9 .2 0 1-1.9-.2zM245.5 656.7l1.9 0 0 1-1.9-.1zM247.2 656.2l1.9 .1 0 1.3-1.9-.3zM252.2 655.7l2 0 0 1.4-2 0zM274.3 651.5l1.9 .1 0 3-1.9-.2zM320 645.9l1.9-1.4 0 2.6-1.9 1.5zM328.4 645.3l2-1.9 0 2.3-2 1.9zM330.1 644.6l2-1.1 0 1.8-2 1.4zM331.8 644l2-.6 0 1.7-2 1zM333.5 644.4l2-.6 0 1.2-2 1zM336.9 644.5l2-1.1 0 .7-2 1.4zM338.6 644.5l2-1.9 0 .6-2 2.1zM338.6 645.1l2-2.1 0 .3-2 2.4z"/><path fill="#883004" d="M237 655.4l1.9-.5 0 .6-1.9 .4zM240.4 654.9l1.9-.5 0 .9-1.9 .3zM243.8 654l1.9-.2 0 1.1-1.9 .1zM247.2 653.6l1.9-.2 0 1.2-1.9 .1zM250.5 653.2l2-.2 0 1.5-2 .1zM321.7 642.7l1.9-1.5 0 2.7-1.9 1.5zM326.8 642.2l1.9-1.5 0 2.2-1.9 1.6zM336.9 640.9l2 .2 0 .7-2 .1zM338.6 640.8l2-.2 0 .6-2 .5z"/><path fill="#8c3004" d="M237 655.7l1.9-.4 0 .6-1.9 .3zM240.4 655.3l1.9-.3 0 .9-1.9 .2zM243.8 654.7l1.9-.1 0 1-1.9 .1zM253.9 652.8l2-.2 0 1.8-2 0zM264.1 650.9l1.9 .1 0 2.4-1.9-.2zM323.4 643l1.9-1.4 0 2.4-1.9 1.5zM335.2 641.5l2-.4 0 1.2-2 .7zM338.6 641.4l2-.5 0 .6-2 .8z"/><path fill="#a43804" d="M237 658.3l1.9 .5 0 .6-1.9-.6zM237 658.5l1.9 .7 0 .4-1.9-.8zM238.7 658.4l1.9 .2 0 .6-1.9-.3zM240.4 657.8l1.9 .2 0 .9-1.9-.3zM242.1 657.9l1.9 0 0 .8-1.9-.1zM243.8 657.5l1.9 .3 0 1-1.9-.3zM245.5 657.4l1.9 0 0 1-1.9-.1zM248.9 656.7l1.9 .1 0 1.2-1.9-.2zM253.9 655.5l2 .1 0 1.7-2-.2zM255.6 655.6l2-.1 0 1.8-2-.1zM260.7 654.4l2 .3 0 2.2-2-.5zM267.5 653.4l1.9 .2 0 2.6-1.9-.3zM269.2 653l1.9 .1 0 2.6-1.9-.2zM277.6 651.7l2 .1 0 3.2-2-.2zM335.2 645.1l2-1.3 0 1.1-2 1.6z"/><path fill="#a83804" d="M238.7 658.6l1.9 .3 0 .6-1.9-.4zM247.2 657.1l1.9 .2 0 1.3-1.9-.4zM250.5 656.5l2 .2 0 1.5-2-.3zM262.4 654.4l1.9 .2 0 2.2-1.9-.4zM314.9 647.1l1.9-1 0 3.1-1.9 1.1zM336.9 645.3l2-1.4 0 .7-2 1.7z"/><path fill="#a83c04" d="M238.7 658.8l1.9 .5 0 .5-1.9-.5zM240.4 658.3l1.9 .3 0 .9-1.9-.4zM242.1 658.3l1.9 .1 0 .8-1.9-.2zM245.5 658l1.9 .1 0 1-1.9-.2zM252.2 656.8l2 .1 0 1.4-2-.1zM257.3 655.7l2 .1 0 1.9-2-.2zM272.6 653.2l1.9 .1 0 2.8-1.9-.2zM325.1 646.7l1.9-1.7 0 2.4-1.9 1.9zM326.8 646.3l1.9-1.7 0 2.2-1.9 1.8zM333.5 645.8l2-1 0 1.3-2 1.2z"/><path fill="#ac3c04" d="M238.7 659.1l1.9 .5 0 .6-1.9-.6zM238.7 659.3l1.9 .6 0 .4-1.9-.7zM240.4 658.8l1.9 .4 0 .9-1.9-.6zM242.1 658.8l1.9 .2 0 .8-1.9-.3zM243.8 658.2l1.9 .3 0 1.1-1.9-.4zM248.9 657.5l1.9 .2 0 1.2-1.9-.3zM259 655.5l2 .4 0 1.9-2-.4zM281 651.9l2 .1 0 3.3-2-.2zM330.1 646.5l2-1.4 0 1.9-2 1.5zM331.8 645.8l2-.9 0 1.7-2 1.2zM335.2 646.2l2-1.5 0 1.1-2 1.9zM336.9 646l2-1.7 0 .7-2 2z"/><path fill="#843004" d="M240.4 654.4l1.9-.6 0 .9-1.9 .4zM260.7 650.7l2 .1 0 2.2-2-.2zM325.1 642.1l1.9-1.5 0 2.4-1.9 1.7zM330.1 641l2-.8 0 1.9-2 1zM331.8 640.5l2-.1 0 1.7-2 .4zM333.5 640.4l2 .3 0 1.2-2 .1zM335.2 640.3l2 0 0 1.1-2 .4zM336.9 640.1l2 .6 0 .7-2-.3zM338.6 640.2l2 .1 0 .5-2 .3z"/><path fill="#b04004" d="M240.4 659.3l1.9 .5 0 .9-1.9-.7zM242.1 659.2l1.9 .3 0 .8-1.9-.4zM243.8 658.9l1.9 .4 0 1.1-1.9-.5zM245.5 658.7l1.9 .2 0 .9-1.9-.3zM247.2 658l1.9 .3 0 1.2-1.9-.4zM250.5 657.6l2 .3 0 1.5-2-.4zM253.9 656.9l2 .2 0 1.7-2-.3zM255.6 656.9l2 .1 0 1.7-2-.2zM264.1 655l1.9 .3 0 2.4-1.9-.4zM265.8 654.8l1.9 .2 0 2.4-1.9-.3zM276 653.4l1.9 .1 0 2.9-1.9-.1zM284.4 652.1l2 .1 0 3.4-2-.1zM316.6 647.9l1.9-1 0 2.8-1.9 1.1zM318.3 647.8l1.9-1.1 0 2.9-1.9 1.3zM320 648.3l1.9-1.5 0 2.6-1.9 1.7zM321.7 647.7l1.9-1.6 0 2.6-1.9 1.8zM323.4 647.6l1.9-1.7 0 2.4-1.9 1.8zM328.4 647.4l2-2 0 2.2-2 2.1zM336.9 646.7l2-1.9 0 .7-2 2.2z"/><path fill="#b44004" d="M240.4 659.8l1.9 .6 0 .6-1.9-.7zM242.1 659.7l1.9 .4 0 .8-1.9-.5zM245.5 659.3l1.9 .3 0 1-1.9-.4zM247.2 658.8l1.9 .5 0 1.2-1.9-.5zM248.9 658.4l1.9 .3 0 1.2-1.9-.4zM252.2 657.9l2 .2 0 1.5-2-.4zM260.7 656.2l2 .4 0 2.2-2-.5zM262.4 656.2l1.9 .3 0 2.2-1.9-.5zM274.3 654.2l1.9 .2 0 2.9-1.9-.2zM311.5 649.1l2-1 0 3.2-2 1.1zM333.5 647.1l2-1.3 0 1.3-2 1.6zM336.9 647.5l2-2.3 0 .5-2 2.5z"/><path fill="#b84404" d="M242.1 660.1l1.9 .5 0 .8-1.9-.6zM248.9 659.2l1.9 .4 0 1.2-1.9-.5zM250.5 658.7l2 .5 0 1.5-2-.6zM253.9 658.3l2 .3 0 1.7-2-.4zM267.5 655.7l1.9 .3 0 2.6-1.9-.4z"/><path fill="#bc4404" d="M242.1 660.6l1.9 .6 0 .5-1.9-.7zM243.8 660.3l1.9 .6 0 1-1.9-.6zM245.5 659.9l1.9 .4 0 1-1.9-.5zM247.2 659.7l1.9 .6 0 1.2-1.9-.7zM252.2 659l2 .3 0 1.5-2-.5zM255.6 658.3l2 .2 0 1.7-2-.3zM277.6 654.5l2 .2 0 3.1-2-.2zM282.7 653.8l2 .1 0 3.2-2-.2zM291.2 652.5l1.9 .1 0 3.5-1.9-.1zM313.2 649.9l2-1 0 3-2 1.1zM314.9 650l1.9-1.1 0 3.1-1.9 1.1zM325.1 649l1.9-1.8 0 2.4-1.9 2zM330.1 648.3l2-1.6 0 1.9-2 1.8zM333.5 648.4l2-1.6 0 1.3-2 1.9z"/><path fill="#802c04" d="M243.8 653.3l1.9-.3 0 1.1-1.9 .2zM247.2 652.7l1.9-.3 0 1.2-1.9 .2zM250.5 652.1l2-.3 0 1.5-2 .1zM253.9 651.5l2-.4 0 1.8-2 .2zM257.3 650.8l2-.2 0 2-2 .1zM328.4 641.1l2-1.6 0 2.2-2 1.8zM336.9 639.4l2 .8 0 .7-2-.5zM338.6 639.6l2 .3 0 .6-2 0z"/><path fill="#b84004" d="M243.8 659.6l1.9 .5 0 1.1-1.9-.6zM257.3 657.3l2 .2 0 2-2-.4zM259 657.1l2 .4 0 2-2-.6zM269.2 655.2l1.9 .3 0 2.5-1.9-.3zM279.3 653.6l2 .1 0 3.1-2-.2zM287.8 652.3l1.9 .1 0 3.5-1.9-.2zM326.8 648.4l1.9-1.9 0 2.2-1.9 1.9zM331.8 647.6l2-1.3 0 1.8-2 1.5zM335.2 647.4l2-1.8 0 1.1-2 2.2z"/><path fill="#c04800" d="M243.8 661l1.9 .7 0 .8-1.9-.8zM245.5 660.6l1.9 .4 0 1-1.9-.5zM248.9 660l1.9 .6 0 1.2-1.9-.7zM270.9 656.3l1.9 .3 0 2.8-1.9-.4zM286.1 654l2 .1 0 3.3-2-.1zM294.6 652.7l1.9 0 0 3.6-1.9-.1zM301.4 651.9l1.9-.3 0 3.5-1.9 .3zM304.7 651.3l2-.3 0 3.5-2 .3zM323.4 649.8l1.9-1.7 0 2.4-1.9 1.8zM328.4 649.5l2-2.1 0 2.2-2 2.2z"/><path fill="#c84800" d="M245.5 661.2l1.9 .6 0 .9-1.9-.6zM248.9 660.9l1.9 .7 0 1.2-1.9-.8zM252.2 660.1l2 .4 0 1.5-2-.6zM255.6 659.6l2 .3 0 1.7-2-.4zM269.2 657.5l1.9 .3 0 2.6-1.9-.4zM289.5 654.2l1.9 .1 0 3.3-1.9-.1zM309.8 652l2-1.1 0 3.1-2 1.1zM320 650.8l1.9-1.6 0 2.6-1.9 1.7zM326.8 650.4l1.9-2 0 2.2-1.9 2.1zM330.1 650.1l2-1.8 0 1.9-2 2zM333.5 649.7l2-1.8 0 1.3-2 2.1z"/><path fill="#c84c00" d="M245.5 661.8l1.9 .7 0 .7-1.9-.7zM284.4 655.2l2 .2 0 3.4-2-.2z"/><path fill="#c44800" d="M247.2 660.6l1.9 .7 0 1.2-1.9-.8zM250.5 659.8l2 .6 0 1.5-2-.7zM253.9 659.6l2 .4 0 1.8-2-.6zM257.3 658.9l2 .3 0 2-2-.5zM259 658.7l2 .5 0 2-2-.7zM260.7 658l2 .6 0 2.2-2-.7zM262.4 658l1.9 .4 0 2.2-1.9-.6zM276 656l1.9 .2 0 2.9-1.9-.3zM281 654.9l2 .1 0 3.3-2-.2zM298 652.4l1.9-.3 0 3.6-1.9 .3zM316.6 650.6l1.9-1.1 0 2.9-1.9 1.1zM318.3 650.6l1.9-1.3 0 2.9-1.9 1.4zM321.7 650.2l1.9-1.7 0 2.6-1.9 1.9zM331.8 649.4l2-1.6 0 1.7-2 1.9zM335.2 649.8l2-2.5 0 .9-2 2.8z"/><path fill="#cc4c00" d="M247.2 661.5l1.9 .7 0 1.3-1.9-.9zM250.5 661l2 .6 0 1.5-2-.8zM267.5 657.9l1.9 .5 0 2.6-1.9-.5zM274.3 656.8l1.9 .3 0 3-1.9-.3zM279.3 656.4l2 .1 0 3.1-2-.3zM292.9 654.4l1.9 .1 0 3.4-1.9-.1zM311.5 652.1l2-1 0 3.2-2 1.1z"/><path fill="#d05004" d="M247.2 662.3l1.9 .9 0 1-1.9-1zM248.9 661.7l1.9 .8 0 1.2-1.9-.9zM252.2 661.2l2 .5 0 1.5-2-.7zM253.9 661l2 .5 0 1.8-2-.7zM255.6 660.9l2 .5 0 1.7-2-.6zM257.3 660.5l2 .5 0 1.9-2-.6zM259 660.3l2 .6 0 2-2-.8zM260.7 659.9l2 .6 0 2.2-2-.7zM262.4 659.8l1.9 .5 0 2.2-1.9-.7zM264.1 659.1l1.9 .6 0 2.4-1.9-.7zM265.8 658.8l1.9 .5 0 2.4-1.9-.6zM272.6 658.1l1.9 .2 0 2.8-1.9-.3zM277.6 657.3l2 .3 0 3.1-2-.3zM282.7 656.7l2 .2 0 3.2-2-.3zM287.8 655.5l1.9 .1 0 3.5-1.9-.2zM296.3 654.5l1.9-.3 0 3.5-1.9 .3zM299.7 653.9l1.9-.2 0 3.4-1.9 .3zM303 653.4l2-.3 0 3.4-2 .3zM313.2 652.7l2-1 0 2.9-2 1.2zM314.9 652.9l1.9-1.1 0 3.1-1.9 1.1zM323.4 652.1l1.9-1.9 0 2.4-1.9 2zM328.4 651.6l2-2.2 0 2.2-2 2.3zM331.8 651.1l2-1.8 0 1.7-2 2.2zM333.5 651.1l2-2.2 0 1.3-2 2.4z"/><path fill="#d45408" d="M248.9 662.5l1.9 1 0 1.2-1.9-1.1zM252.2 662.2l2 .7 0 1.5-2-.8zM291.2 655.7l1.9 .2 0 3.5-1.9-.1zM308.1 653.9l2-.7 0 3.3-2 .8zM316.6 653.3l1.9-1.2 0 2.9-1.9 1.2zM320 653.3l1.9-1.7 0 2.6-1.9 1.8zM326.8 652.4l1.9-2 0 2.2-1.9 2.1zM330.1 651.9l2-1.9 0 1.8-2 2.2zM333.5 652.4l2-2.5 0 1.1-2 2.7z"/><path fill="#d85808" d="M248.9 663.4l1.9 1 0 1-1.9-1.2zM250.5 663.2l2 .9 0 1.5-2-1.1zM253.9 662.3l2 .7 0 1.7-2-.8zM255.6 662.3l2 .5 0 1.7-2-.6zM257.3 662.1l2 .6 0 2-2-.8zM259 661.9l2 .7 0 2-2-.9zM265.8 660.9l1.9 .5 0 2.4-1.9-.7zM267.5 660.2l1.9 .5 0 2.7-1.9-.7zM274.3 659.5l1.9 .3 0 3-1.9-.4zM281 657.8l2 .3 0 3.3-2-.4zM294.6 656l1.9 .1 0 3.6-1.9-.1zM298 655.8l1.9-.3 0 3.5-1.9 .3zM301.4 655.2l1.9-.3 0 3.5-1.9 .3zM304.7 654.6l2-.3 0 3.4-2 .4zM309.8 654.9l2-1.1 0 3.1-2 1.1zM325.1 653.6l1.9-2.1 0 2.5-1.9 2.1zM331.8 652.9l2-2.1 0 1.7-2 2.4z"/><path fill="#d05404" d="M250.5 662.1l2 .8 0 1.5-2-1z"/><path fill="#dc600c" d="M250.5 664.3l2 1 0 1.3-2-1.2zM253.9 663.7l2 .8 0 1.7-2-.9zM272.6 660.5l1.9 .4 0 2.7-1.9-.4zM292.9 657.5l1.9 .1 0 3.5-1.9-.2zM306.4 655.9l2-.4 0 3.3-2 .4zM313.2 655.5l2-1.1 0 3-2 1.2zM326.8 654.5l1.9-2.2 0 2.2-1.9 2.3z"/><path fill="#d85c08" d="M252.2 663.3l2 .8 0 1.5-2-.9zM260.7 661.7l2 .8 0 2.2-2-.9zM262.4 661.6l1.9 .6 0 2.2-1.9-.8zM264.1 661.2l1.9 .6 0 2.4-1.9-.7zM279.3 659.1l2 .2 0 3.1-2-.3zM289.5 657.3l1.9 .1 0 3.4-1.9-.2zM328.4 653.6l2-2.3 0 2.3-2 2.4z"/><path fill="#e0600c" d="M252.2 664.4l2 .9 0 1.5-2-1.1zM255.6 663.6l2 .7 0 1.7-2-.8zM270.9 661.3l1.9 .5 0 2.8-1.9-.6zM277.6 660.2l2 .3 0 3.1-2-.4zM282.7 659.6l2 .2 0 3.2-2-.3zM287.8 658.7l1.9 .1 0 3.5-1.9-.2zM296.3 657.7l1.9-.3 0 3.4-1.9 .4zM299.7 657.1l1.9-.3 0 3.4-1.9 .3zM303 656.5l2-.3 0 3.4-2 .3zM314.9 655.8l1.9-1.2 0 3.1-1.9 1.2zM321.7 655.2l1.9-1.9 0 2.6-1.9 2.1zM331.8 654.7l2-2.5 0 1.5-2 2.8z"/><path fill="#e46810" d="M252.2 665.5l2 1.1 0 1.2-2-1.2zM253.9 665l2 1 0 1.7-2-1zM255.6 664.9l2 .9 0 1.7-2-1zM260.7 663.6l2 .8 0 2.2-2-1zM262.4 663.4l1.9 .7 0 2.2-1.9-.9zM264.1 663.2l1.9 .8 0 2.4-1.9-.9zM265.8 662.9l1.9 .6 0 2.4-1.9-.8zM267.5 662.5l1.9 .6 0 2.7-1.9-.8zM281 660.8l2 .3 0 3.3-2-.4zM286.1 660l2 .2 0 3.3-2-.2zM291.2 659l1.9 .2 0 3.5-1.9-.2zM308.1 657l2-.7 0 3.3-2 .8zM325.1 655.9l1.9-2.2 0 2.5-1.9 2.2zM328.4 655.7l2-2.4 0 2.2-2 2.6zM330.1 655.6l2-2.4 0 1.9-2 2.6z"/><path fill="#ec7014" d="M253.9 666.4l2 1.1 0 1.4-2-1.1zM255.6 666.3l2 .9 0 1.7-2-1zM260.7 665.4l2 1 0 2.2-2-1.1zM262.4 665.2l1.9 .8 0 2.2-1.9-1zM265.8 664.9l1.9 .8 0 2.3-1.9-.8zM269.2 664.2l1.9 .6 0 2.6-1.9-.7zM270.9 663.8l1.9 .6 0 2.8-1.9-.7zM277.6 663l2 .4 0 3.1-2-.5zM284.4 661.4l2 .3 0 3.4-2-.3zM292.9 660.7l1.9 .1 0 3.5-1.9-.2zM303 659.6l2-.3 0 3.4-2 .3zM306.4 659l2-.5 0 3.3-2 .5zM313.2 658.3l2-1.2 0 3-2 1.3zM320 658.2l1.9-1.9 0 2.6-1.9 2zM321.7 657.7l1.9-2 0 2.6-1.9 2.2zM330.1 657.4l2-2.6 0 1.7-2 2.7z"/><path fill="#f07818" d="M255.6 667.6l2 1.1 0 1.4-2-1.2zM257.3 666.9l2 1 0 2-2-1.1zM259 666.6l2 1.1 0 1.9-2-1.2zM274.3 664.8l1.9 .5 0 3-1.9-.6zM281 663.7l2 .4 0 3.3-2-.4zM286.1 663l2 .2 0 3.3-2-.2zM291.2 662.3l1.9 .2 0 3.5-1.9-.2zM308.1 660.2l2-.9 0 3.4-2 .9zM323.4 658.8l1.9-2.2 0 2.4-1.9 2.3zM326.8 658.6l1.9-2.4 0 2.2-1.9 2.4z"/><path fill="#e0640c" d="M257.3 663.7l2 .7 0 2-2-.8zM259 663.4l2 .9 0 1.9-2-.9z"/><path fill="#e86c10" d="M257.3 665.3l2 .9 0 1.9-2-.9zM259 665l2 1 0 1.9-2-1zM272.6 663l1.9 .4 0 2.7-1.9-.4zM279.3 661.8l2 .3 0 3.1-2-.4zM289.5 660.3l1.9 .2 0 3.4-1.9-.2zM294.6 659.3l1.9 .1 0 3.6-1.9-.1zM298 659.1l1.9-.3 0 3.5-1.9 .4zM326.8 656.5l1.9-2.3 0 2.2-1.9 2.4z"/><path fill="#f4801c" d="M257.3 668.5l2 1.1 0 1.7-2-1.2zM259 668.2l2 1.2 0 1.9-2-1.3zM264.1 667.4l1.9 .9 0 2.4-1.9-1zM265.8 666.9l1.9 .9 0 2.4-1.9-1zM267.5 667l1.9 .9 0 2.6-1.9-.9zM269.2 666.4l1.9 .8 0 2.6-1.9-.9zM270.9 666.3l1.9 .6 0 2.9-1.9-.8zM289.5 663.4l1.9 .2 0 3.4-1.9-.3zM294.6 662.7l1.9 .1 0 3.6-1.9-.2zM298 662.4l1.9-.3 0 3.6-1.9 .3zM311.5 661.2l2-1.3 0 3.2-2 1.3zM313.2 661.1l2-1.2 0 3-2 1.3zM320 660.7l1.9-2.1 0 2.6-1.9 2.2zM321.7 660.2l1.9-2.1 0 2.6-1.9 2.3zM325.1 660.5l1.9-2.4 0 2.4-1.9 2.5zM328.4 659.9l2-2.6 0 1.9-2 2.8z"/><path fill="#f88c20" d="M259 669.8l2 1.3 0 1.7-2-1.5zM272.6 667.8l1.9 .6 0 2.8-1.9-.7zM274.3 667.5l1.9 .5 0 3-1.9-.6z"/><path fill="#f07c1c" d="M260.7 667.2l2 1.1 0 2.2-2-1.2zM279.3 664.6l2 .3 0 3.1-2-.5zM304.7 661.1l2-.4 0 3.5-2 .4z"/><path fill="#f88820" d="M260.7 669.1l2 1.2 0 2.2-2-1.3zM262.4 668.8l1.9 1.1 0 2.1-1.9-1.2zM282.7 665.3l2 .4 0 3.2-2-.4zM287.8 665.1l1.9 .2 0 3.5-1.9-.3zM296.3 664.1l1.9-.3 0 3.4-1.9 .4zM299.7 663.4l1.9-.3 0 3.4-1.9 .4zM303 662.8l2-.4 0 3.4-2 .3zM318.3 661.6l1.9-1.8 0 2.9-1.9 2z"/><path fill="#fc9428" d="M260.7 670.9l2 1.3 0 2-2-1.4zM262.4 670.6l1.9 1.2 0 2.1-1.9-1.3zM289.5 666.5l1.9 .2 0 3.4-1.9-.3zM301.4 665.1l1.9-.4 0 3.5-1.9 .4zM311.5 664.2l2-1.3 0 3.2-2 1.3zM313.2 663.9l2-1.3 0 3-2 1.4zM323.4 663.3l1.9-2.4 0 2.4-1.9 2.5z"/><path fill="#f07c18" d="M262.4 667l1.9 1 0 2.1-1.9-1.1zM272.6 665.4l1.9 .5 0 2.7-1.9-.5zM309.8 660.7l2-1.2 0 3.1-2 1.3z"/><path fill="#ffa030" d="M262.4 672.4l1.9 1.3 0 1.9-1.9-1.4zM267.5 671.6l1.9 1.1 0 2.6-1.9-1.2zM270.9 671.3l1.9 .8 0 2.9-1.9-1zM279.3 670l2 .6 0 3-2-.6zM281 669.7l2 .5 0 3.3-2-.6zM286.1 669l2 .3 0 3.3-2-.3zM287.8 668.3l1.9 .2 0 3.5-1.9-.3zM308.1 666.5l2-1 0 3.3-2 1.1zM309.8 666.5l2-1.3 0 3.1-2 1.4zM320 665.6l1.9-2.2 0 2.6-1.9 2.4zM321.7 665.3l1.9-2.4 0 2.6-1.9 2.5zM323.4 665.6l1.9-2.5 0 2.4-1.9 2.6zM325.1 665.1l1.9-2.6 0 2.2-1.9 2.7z"/><path fill="#c04804" d="M264.1 657.1l1.9 .4 0 2.4-1.9-.5zM265.8 656.8l1.9 .4 0 2.3-1.9-.4zM308.1 650.7l2-.5 0 3.3-2 .6z"/><path fill="#ec7418" d="M264.1 665.3l1.9 .9 0 2.4-1.9-1zM267.5 664.8l1.9 .7 0 2.6-1.9-.8zM282.7 662.5l2 .3 0 3.2-2-.4zM299.7 660.3l1.9-.3 0 3.4-1.9 .3zM314.9 658.7l1.9-1.3 0 3.1-1.9 1.3zM316.6 658.6l1.9-1.3 0 2.9-1.9 1.4zM328.4 657.8l2-2.5 0 2.2-2 2.6z"/><path fill="#f89024" d="M264.1 669.4l1.9 1.1 0 2.4-1.9-1.2zM269.2 668.6l1.9 .9 0 2.6-1.9-1zM279.3 667.3l2 .5 0 3-2-.5zM281 666.7l2 .5 0 3.3-2-.6zM291.2 665.5l1.9 .3 0 3.5-1.9-.3zM309.8 663.6l2-1.2 0 3.1-2 1.3zM320 663.2l1.9-2.2 0 2.6-1.9 2.3zM321.7 662.8l1.9-2.3 0 2.6-1.9 2.4zM325.1 662.8l1.9-2.5 0 2.4-1.9 2.6zM326.8 662.6l1.9-2.6 0 2-1.9 2.7z"/><path fill="#ff9c2c" d="M264.1 671.5l1.9 1.2 0 2.4-1.9-1.3zM269.2 670.9l1.9 1 0 2.5-1.9-1zM272.6 670.3l1.9 .6 0 2.8-1.9-.7zM299.7 666.6l1.9-.3 0 3.4-1.9 .3z"/><path fill="#ffa838" d="M264.1 673.5l1.9 1.3 0 2.2-1.9-1.4zM265.8 673l1.9 1.2 0 2.3-1.9-1.3zM276 671.5l1.9 .6 0 3-1.9-.7zM277.6 671.4l2 .6 0 3.1-2-.6zM289.5 669.6l1.9 .2 0 3.4-1.9-.3zM301.4 668.4l1.9-.4 0 3.5-1.9 .4zM304.7 667.6l2-.4 0 3.5-2 .4zM311.5 667.2l2-1.4 0 3.2-2 1.4zM316.6 666.7l1.9-1.5 0 2.8-1.9 1.6z"/><path fill="#f88c24" d="M265.8 668.9l1.9 1 0 2.4-1.9-1.1zM286.1 666l2 .3 0 3.3-2-.3zM308.1 663.4l2-1 0 3.3-2 1.1z"/><path fill="#ff9828" d="M265.8 670.9l1.9 1.1 0 2.4-1.9-1.2zM282.7 668.2l2 .5 0 3.2-2-.5zM292.9 667l1.9 .2 0 3.4-1.9-.2zM306.4 665.2l2-.6 0 3.2-2 .7zM314.9 664.5l1.9-1.4 0 3.1-1.9 1.4zM318.3 664.4l1.9-2 0 2.9-1.9 2.1z"/><path fill="#ffb440" d="M265.8 675l1.9 1.3 0 2.1-1.9-1.4zM270.9 673.7l1.9 1 0 2.9-1.9-1.1zM279.3 672.8l2 .6 0 3-2-.7zM287.8 671.4l1.9 .3 0 3.5-1.9-.3zM296.3 670.5l1.9-.3 0 3.4-1.9 .4zM309.8 669.4l2-1.3 0 3.1-2 1.4z"/><path fill="#fc9024" d="M267.5 669.3l1.9 1 0 2.6-1.9-1.1zM270.9 668.8l1.9 .7 0 2.9-1.9-.9z"/><path fill="#ffb040" d="M267.5 673.9l1.9 1.1 0 2.7-1.9-1.3zM299.7 669.8l1.9-.4 0 3.4-1.9 .4zM320 668.1l1.9-2.4 0 2.6-1.9 2.5z"/><path fill="#ffc04c" d="M267.5 676.1l1.9 1.3 0 2.4-1.9-1.4zM274.3 675.5l1.9 .7 0 3-1.9-.8zM282.7 674l2 .6 0 3.2-2-.7zM284.4 673.9l2 .4 0 3.4-2-.5zM301.4 671.7l1.9-.4 0 3.5-1.9 .4zM306.4 671.4l2-.8 0 3.2-2 .9zM314.9 670.3l1.9-1.5 0 3.1-1.9 1.5zM320 670.6l1.9-2.5 0 2.6-1.9 2.6zM321.7 670.3l1.9-2.6 0 2.4-1.9 2.7z"/><path fill="#d45808" d="M269.2 659.7l1.9 .4 0 2.6-1.9-.5zM276 658.6l1.9 .2 0 3-1.9-.4zM286.1 657l2 .1 0 3.3-2-.1zM318.3 653.4l1.9-1.5 0 2.9-1.9 1.6z"/><path fill="#e06410" d="M269.2 661.9l1.9 .6 0 2.6-1.9-.7zM276 661.2l1.9 .3 0 2.9-1.9-.4zM316.6 656l1.9-1.3 0 2.9-1.9 1.3zM320 655.7l1.9-1.8 0 2.6-1.9 2z"/><path fill="#ffac3c" d="M269.2 673.1l1.9 1.1 0 2.6-1.9-1.2zM272.6 672.7l1.9 .7 0 2.8-1.9-.8z"/><path fill="#ffbc48" d="M269.2 675.3l1.9 1.2 0 2.6-1.9-1.3zM277.6 674.2l2 .7 0 3.1-2-.7zM289.5 672.6l1.9 .3 0 3.4-1.9-.3zM291.2 672l1.9 .3 0 3.6-1.9-.3zM311.5 670.2l2-1.4 0 3.2-2 1.4zM318.3 669.9l1.9-2.2 0 2.8-1.9 2.4z"/><path fill="#ffc858" d="M269.2 677.6l1.9 1.3 0 2.3-1.9-1.4zM281 675.6l2 .7 0 3.3-2-.8zM286.1 675l2 .4 0 3.3-2-.4zM287.8 674.6l1.9 .4 0 3.4-1.9-.3zM296.3 673.7l1.9-.4 0 3.5-1.9 .4zM309.8 672.4l2-1.5 0 3.1-2 1.5zM313.2 672.3l2-1.4 0 3-2 1.5z"/><path fill="#ac4004" d="M270.9 653.8l1.9 .2 0 2.8-1.9-.3z"/><path fill="#d05408" d="M270.9 658.8l1.9 .4 0 2.8-1.9-.5zM321.7 652.7l1.9-1.8 0 2.6-1.9 2z"/><path fill="#ffc450" d="M270.9 676.2l1.9 1.1 0 2.8-1.9-1.1zM292.9 673.2l1.9 .3 0 3.5-1.9-.4zM294.6 672.6l1.9 .2 0 3.6-1.9-.2zM298 672.4l1.9-.3 0 3.5-1.9 .4zM303 672.2l2-.4 0 3.3-2 .4z"/><path fill="#ffd068" d="M270.9 678.7l1.9 1.2 0 2.6-1.9-1.3zM274.3 678.1l1.9 .9 0 3-1.9-.9zM282.7 676.9l2 .7 0 3.2-2-.8zM304.7 674.1l2-.4 0 3.5-2 .4z"/><path fill="#c04404" d="M272.6 655.7l1.9 .1 0 2.8-1.9-.3zM335.2 648.6l2-2.2 0 1.2-2 2.4z"/><path fill="#ffc048" d="M272.6 675.2l1.9 .7 0 2.8-1.9-.8zM304.7 670.9l2-.4 0 3.5-2 .4z"/><path fill="#ffcc60" d="M272.6 677.6l1.9 .8 0 2.8-1.9-.9zM277.6 677l2 .8 0 3.1-2-.8zM311.5 673.2l2-1.5 0 3.2-2 1.6zM318.3 672.7l1.9-2.4 0 2.8-1.9 2.6z"/><path fill="#ffd878" d="M272.6 680l1.9 1 0 2.5-1.9-1zM276 679.3l1.9 .8 0 2.9-1.9-.9zM281 678.5l2 .8 0 3.3-2-.8zM286.1 678.1l2 .3 0 3.3-2-.4zM287.8 677.8l1.9 .4 0 3.5-1.9-.4zM296.3 676.9l1.9-.4 0 3.5-1.9 .4zM313.2 675.1l2-1.5 0 3-2 1.6zM316.6 674.8l1.9-1.8 0 2.9-1.9 1.8z"/><path fill="#e86810" d="M274.3 662.2l1.9 .4 0 3-1.9-.5zM301.4 658.5l1.9-.4 0 3.6-1.9 .3zM304.7 657.8l2-.3 0 3.5-2 .3zM309.8 657.8l2-1.1 0 3.1-2 1.1zM323.4 656.6l1.9-2.1 0 2.4-1.9 2.2z"/><path fill="#ffa02c" d="M274.3 670.2l1.9 .6 0 3-1.9-.7zM296.3 667.3l1.9-.3 0 3.4-1.9 .4z"/><path fill="#ffb03c" d="M274.3 672.8l1.9 .7 0 3-1.9-.8zM292.9 670.1l1.9 .3 0 3.4-1.9-.3zM303 669l2-.3 0 3.3-2 .4zM321.7 667.8l1.9-2.5 0 2.6-1.9 2.6zM323.4 667.8l1.9-2.6 0 2.2-1.9 2.7z"/><path fill="#ffdc84" d="M274.3 680.8l1.9 .9 0 2.8-1.9-1zM314.9 676l1.9-1.5 0 3.1-1.9 1.6z"/><path fill="#f07418" d="M276 663.8l1.9 .4 0 2.9-1.9-.5zM287.8 661.9l1.9 .2 0 3.4-1.9-.2zM296.3 660.9l1.9-.3 0 3.4-1.9 .4zM318.3 658.9l1.9-1.7 0 2.8-1.9 1.9zM325.1 658.2l1.9-2.3 0 2.5-1.9 2.3z"/><path fill="#f48820" d="M276 666.4l1.9 .4 0 2.9-1.9-.5zM292.9 663.8l1.9 .2 0 3.4-1.9-.2zM314.9 661.6l1.9-1.3 0 3.1-1.9 1.3z"/><path fill="#fc9828" d="M276 668.9l1.9 .6 0 2.9-1.9-.6zM277.6 668.6l2 .5 0 3.2-2-.7zM284.4 667.6l2 .4 0 3.4-2-.4zM294.6 666l1.9 .1 0 3.6-1.9-.1zM298 665.8l1.9-.4 0 3.6-1.9 .4zM316.6 664l1.9-1.5 0 2.9-1.9 1.6z"/><path fill="#ffb848" d="M276 674.1l1.9 .7 0 2.9-1.9-.8zM316.6 669.4l1.9-1.6 0 2.8-1.9 1.7z"/><path fill="#ffc85c" d="M276 676.7l1.9 .8 0 2.9-1.9-.9zM308.1 672.8l2-1.2 0 3.3-2 1.3zM316.6 672.1l1.9-1.7 0 2.8-1.9 1.8z"/><path fill="#ffe490" d="M276 681.9l1.9 .9 0 2.6-1.9-.9zM292.9 679.5l1.9 .4 0 3.4-1.9-.4zM294.6 679.3l1.9 .3 0 3.6-1.9-.3zM298 679.1l1.9-.4 0 3.6-1.9 .4zM303 678.4l2-.4 0 3.4-2 .4zM309.8 678.2l2-1.5 0 3.1-2 1.5zM316.6 677.5l1.9-1.9 0 2.6-1.9 1.9z"/><path fill="#f48420" d="M277.6 665.8l2 .4 0 3.2-2-.6zM284.4 664.5l2 .3 0 3.4-2-.3zM306.4 662.1l2-.6 0 3.3-2 .6zM316.6 661.3l1.9-1.4 0 2.9-1.9 1.5zM323.4 661.1l1.9-2.3 0 2.4-1.9 2.4zM326.8 660.6l1.9-2.5 0 2.2-1.9 2.6z"/><path fill="#ffdc80" d="M277.6 679.8l2 .9 0 3.1-2-.9zM311.5 676.2l2-1.5 0 3.2-2 1.6z"/><path fill="#ffe898" d="M277.6 682.6l2 .9 0 2.9-2-1zM287.8 681l1.9 .4 0 3.5-1.9-.4zM296.3 680.2l1.9-.5 0 3.5-1.9 .4zM308.1 679.1l2-1.4 0 3.3-2 1.5z"/><path fill="#ffc854" d="M279.3 675.5l2 .7 0 3-2-.7zM299.7 673l1.9-.4 0 3.4-1.9 .4z"/><path fill="#ffd470" d="M279.3 678.2l2 .8 0 3.1-2-.9zM292.9 676.4l1.9 .3 0 3.5-1.9-.4zM294.6 676l1.9 .2 0 3.6-1.9-.2zM298 675.8l1.9-.4 0 3.5-1.9 .5zM303 675.3l2-.4 0 3.3-2 .5z"/><path fill="#ffe090" d="M279.3 681l2 .8 0 3.1-2-1zM301.4 678.3l1.9-.5 0 3.6-1.9 .4z"/><path fill="#ffe8a0" d="M279.3 683.7l2 .9 0 2.8-2-1zM282.7 682.6l2 .9 0 3.2-2-.9zM289.5 681.9l1.9 .4 0 3.3-1.9-.4zM291.2 681.8l1.9 .4 0 3.6-1.9-.5z"/><path fill="#ffb844" d="M281 672.6l2 .6 0 3.3-2-.7zM286.1 672l2 .3 0 3.3-2-.3zM308.1 669.7l2-1.2 0 3.4-2 1.2zM313.2 669.5l2-1.4 0 3-2 1.5z"/><path fill="#ffe494" d="M281 681.5l2 .8 0 3.3-2-.9zM299.7 679.3l1.9-.4 0 3.4-1.9 .4zM313.2 677.9l2-1.6 0 3-2 1.7z"/><path fill="#fff0a8" d="M281 684.5l2 .9 0 3-2-1zM286.1 684.1l2 .4 0 3.3-2-.5zM292.9 682.7l1.9 .4 0 3.4-1.9-.4zM294.6 682.6l1.9 .3 0 3.6-1.9-.3zM298 682.5l1.9-.5 0 3.6-1.9 .4zM299.7 682.5l1.9-.5 0 3.4-1.9 .5z"/><path fill="#ffac38" d="M282.7 671.1l2 .5 0 3.3-2-.7zM284.4 670.7l2 .4 0 3.4-2-.4zM294.6 669.3l1.9 .2 0 3.6-1.9-.2zM298 669.1l1.9-.4 0 3.6-1.9 .4zM306.4 668.3l2-.7 0 3.2-2 .8zM314.9 667.4l1.9-1.4 0 3-1.9 1.5zM318.3 667.2l1.9-2.2 0 2.9-1.9 2.3z"/><path fill="#ffe088" d="M282.7 679.8l2 .7 0 3.2-2-.8zM289.5 678.8l1.9 .4 0 3.3-1.9-.4zM291.2 678.6l1.9 .3 0 3.6-1.9-.4zM304.7 677.4l2-.4 0 3.5-2 .4z"/><path fill="#fff0b0" d="M282.7 685.5l2 .9 0 3-2-1zM311.5 682.2l2-1.6 0 2.9-2 1.7z"/><path fill="#dc5c08" d="M284.4 658.3l2 .2 0 3.4-2-.2zM311.5 655.2l2-1.2 0 3.2-2 1.2zM323.4 654.3l1.9-1.9 0 2.4-1.9 2z"/><path fill="#ffd06c" d="M284.4 677l2 .5 0 3.4-2-.6zM301.4 675l1.9-.5 0 3.6-1.9 .4zM306.4 674.5l2-.9 0 3.2-2 1z"/><path fill="#ffe08c" d="M284.4 680.1l2 .5 0 3.4-2-.6zM306.4 677.6l2-1 0 3.2-2 1.1z"/><path fill="#ffeca4" d="M284.4 683.2l2 .6 0 3.4-2-.7zM304.7 680.7l2-.5 0 3.5-2 .5zM313.2 680.7l2-1.6 0 2.7-2 1.7z"/><path fill="#fff4b8" d="M284.4 686.3l2 .6 0 3.2-2-.7zM291.2 685.1l1.9 .4 0 3.6-1.9-.5zM306.4 683.7l2-1.1 0 3.3-2 1.2zM309.8 684l2-1.6 0 2.8-2 1.7z"/><path fill="#ffe498" d="M286.1 681.1l2 .4 0 3.3-2-.5z"/><path fill="#fff8c0" d="M286.1 687.1l2 .5 0 3-2-.5zM287.8 687.4l1.9 .5 0 3.2-1.9-.5zM294.6 686l1.9 .3 0 3.6-1.9-.4zM296.3 686.6l1.9-.5 0 3.4-1.9 .5zM298 685.8l1.9-.5 0 3.6-1.9 .5zM299.7 685.6l1.9-.4 0 3.4-1.9 .4zM308.1 685.5l2-1.6 0 3-2 1.7z"/><path fill="#fff0ac" d="M287.8 684.2l1.9 .5 0 3.4-1.9-.4zM296.3 683.4l1.9-.5 0 3.4-1.9 .5zM308.1 682.3l2-1.5 0 3.3-2 1.6z"/><path fill="#ffd064" d="M289.5 675.7l1.9 .4 0 3.3-1.9-.4zM291.2 675.3l1.9 .3 0 3.6-1.9-.4zM314.9 673.2l1.9-1.6 0 3.1-1.9 1.6z"/><path fill="#fff4b4" d="M289.5 685l1.9 .4 0 3.4-1.9-.5z"/><path fill="#fff8c8" d="M289.5 688l1.9 .5 0 3.1-1.9-.5zM306.4 686.8l2-1.2 0 3-2 1.3z"/><path fill="#ffa434" d="M291.2 668.8l1.9 .3 0 3.5-1.9-.3z"/><path fill="#fff8cc" d="M291.2 688.4l1.9 .4 0 3.3-1.9-.5zM304.7 687.2l2-.5 0 3.2-2 .5z"/><path fill="#fff8bc" d="M292.9 685.8l1.9 .5 0 3.4-1.9-.5zM301.4 684.9l1.9-.5 0 3.5-1.9 .5zM303 684.7l2-.5 0 3.4-2 .5z"/><path fill="#fffcd0" d="M292.9 689l1.9 .4 0 3.2-1.9-.5zM301.4 688.2l1.9-.5 0 3.2-1.9 .6zM303 687.8l2-.5 0 3.1-2 .5z"/><path fill="#fffcd4" d="M294.6 689.3l1.9 .3 0 3.4-1.9-.4zM298 689.1l1.9-.5 0 3.4-1.9 .5zM299.7 688.8l1.9-.5 0 3.2-1.9 .5z"/><path fill="#fffcd8" d="M296.3 689.8l1.9-.5 0 3.2-1.9 .5z"/><path fill="#ffd874" d="M299.7 676.1l1.9-.4 0 3.4-1.9 .4zM309.8 675.3l2-1.5 0 3.1-2 1.5z"/><path fill="#f0801c" d="M301.4 661.8l1.9-.4 0 3.5-1.9 .4z"/><path fill="#ffeca8" d="M301.4 681.6l1.9-.5 0 3.5-1.9 .5zM303 681.6l2-.5 0 3.4-2 .4zM309.8 681.1l2-1.6 0 3.1-2 1.7z"/><path fill="#ff9c28" d="M303 665.9l2-.4 0 3.4-2 .4z"/><path fill="#fc9028" d="M304.7 664.3l2-.3 0 3.5-2 .4z"/><path fill="#fff8b8" d="M304.7 683.9l2-.5 0 3.5-2 .5z"/><path fill="#cc5004" d="M306.4 652.8l2-.3 0 3.3-2 .4z"/><path fill="#ffeca0" d="M306.4 680.7l2-1.1 0 3.2-2 1.2z"/><path fill="#ffd87c" d="M308.1 676l2-1.3 0 3.3-2 1.4zM318.3 675.5l1.9-2.6 0 2.6-1.9 2.7z"/><path fill="#e86c14" d="M311.5 658.2l2-1.2 0 3.2-2 1.2z"/><path fill="#ffe89c" d="M311.5 679.2l2-1.6 0 3.2-2 1.7zM314.9 678.9l1.9-1.6 0 2.8-1.9 1.7z"/><path fill="#ffa834" d="M313.2 666.7l2-1.3 0 3-2 1.4z"/><path fill="#e46410" d="M318.3 656.1l1.9-1.6 0 2.9-1.9 1.7z"/><path fill="#ffcc64" d="M320 673l1.9-2.6 0 2.4-1.9 2.7z"/><path fill="#742804" d="M325.1 639.8l1.9-1.4 0 2.4-1.9 1.6zM330.1 639.2l2-.6 0 1.9-2 .7zM335.2 638l2 .5 0 1.1-2-.2z"/><path fill="#cc4c04" d="M325.1 651.3l1.9-2 0 2.5-1.9 2.1z"/><path fill="#782804" d="M326.8 640.2l1.9-1.4 0 2.2-1.9 1.5zM331.8 638.7l2 .2 0 1.8-2 0z"/><path fill="#682408" d="M328.4 637l2-1.4 0 2.2-2 1.5zM330.1 637.4l2-.4 0 1.8-2 .6zM331.8 635.2l2 .8 0 1.7-2-.5z"/><path fill="#702808" d="M328.4 639.1l2-1.6 0 2.2-2 1.7zM333.5 637.8l2 .8 0 1.3-2-.5z"/><path fill="#dc5c0c" d="M330.1 653.8l2-2.2 0 1.9-2 2.3z"/><path fill="#682808" d="M331.8 636.9l2 .6 0 1.7-2-.2z"/><path fill="#7c2c04" d="M333.5 639.1l2 .5 0 1.3-2-.2zM335.2 639.2l2 .2 0 1.1-2 .1zM338.6 639l2 .6 0 .6-2-.3z"/><path fill="#6c2808" d="M335.2 636.8l2 .8 0 1.1-2-.5z"/><path fill="#782c04" d="M338.6 638.4l2 .8 0 .6-2-.5z"/></g><path d="M237 656.6V658.5M238.7 656.1V659.3M240.4 655.6V660M242.1 655V660.7M243.8 654.5V661.4M245.5 654.2V662.2M247.2 653.9V662.9M248.9 653.6V663.9M250.5 653.3V665.1M252.2 653V666.3M253.9 652.7V667.5M255.6 652.3V668.6M257.3 652V669.8M259 651.8V671M260.7 651.9V672.5M262.4 652V673.9M264.1 652.1V675.3M265.8 652.2V676.7M267.5 652.3V678.1M269.2 652.4V679.5M270.9 652.5V680.9M272.6 652.6V682.2M274.3 652.7V683.2M276 652.8V684.2M277.6 652.9V685.1M279.3 653V686.1M281 653.1V687.1M282.7 653.2V688.1M284.4 653.3V689.1M286.1 653.4V689.8M287.8 653.5V690.3M289.5 653.6V690.8M291.2 653.7V691.3M292.9 653.8V691.8M294.6 653.9V692.3M296.3 653.9V692.7M298 653.6V692.2M299.7 653.3V691.7M301.4 653.1V691.2M303 652.8V690.6M304.7 652.5V690.1M306.4 652.2V689.6M308.1 651.9V688.3M309.8 651.4V686.6M311.5 650.3V684.9M313.2 649.3V683.2M314.9 648.3V681.5M316.6 647.3V679.8M318.3 646.3V677.9M320 645.3V675.2M321.7 643.9V672.5M323.4 642.4V669.8M325.1 641V667.1M326.8 639.6V664.4M328.4 638.2V661.7M330.1 636.8V658.9M331.8 636.4V656.2M333.5 637.2V653.4M335.2 638V650.7M336.9 638.8V647.9M338.6 639.6V645.4M340.3 640.4V643" stroke="#fff" stroke-opacity="0.22" stroke-width=".3" fill="none"/><circle cx="232.11" cy="654.69" r="0.95" fill="#0a0af0" opacity="1"/><circle cx="232.3" cy="659.56" r="0.95" fill="#0a0af0" opacity="1"/><circle cx="238.5" cy="655.37" r="0.95" fill="#0a0af0" opacity="1"/><circle cx="238.55" cy="656.74" r="0.95" fill="#0a0af0" opacity="1"/><circle cx="275.76" cy="653.32" r="0.95" fill="#0a0af0" opacity="0.95"/><circle cx="309.17" cy="646.88" r="0.95" fill="#0a0af0" opacity="0.85"/><circle cx="308.52" cy="689.28" r="0.95" fill="#0a0af0" opacity="0.55"/><circle cx="331.21" cy="634.59" r="0.95" fill="#0a0af0" opacity="0.75"/><circle cx="331.17" cy="635.73" r="0.95" fill="#0a0af0" opacity="0.75"/><circle cx="342.15" cy="639.94" r="0.95" fill="#0a0af0" opacity="0.65"/><circle cx="342.08" cy="641.85" r="0.95" fill="#0a0af0" opacity="0.65"/><g opacity="0.85"><path fill="#ac2890" d="M233.6 1099.6l1.9-12.5 0 1.2-1.9 11.6z"/><path fill="#a82098" d="M233.6 1099.6l1.9-11.5 0 1.3-1.9 10.5zM262.1 1089.6l1.9 .4 0 1.4-1.9-.3zM272.2 1088.2l1.9 .5 0 1.3-1.9-.5zM285.6 1087.8l1.9-2.2 0 1.2-1.9 2.1zM319.1 1082.3l1.9-.6 0 1-1.9 .6zM324.1 1082.5l2-2.4 0 1-2 2.1z"/><path fill="#a01c98" d="M233.6 1099.6l1.9-10.5 0 1.3-1.9 9.5zM243.7 1092.5l1.9 .5 0 1.7-1.9-.2zM255.4 1091l1.9 .3 0 1.5-1.9-.3zM275.5 1088.3l1.9 .5 0 1.1-1.9-.4zM282.2 1087.3l2 .7 0 1.1-2-.6zM283.9 1087.1l1.9 .7 0 1.1-1.9-.7zM287.3 1086.6l1.9 .4 0 1.2-1.9-.4zM309.1 1083.8l1.9 0 0 1-1.9 0zM317.4 1082.7l2-.4 0 1-2 .5zM325.8 1082.2l1.9-1.4 0 .9-1.9 1.4z"/><path fill="#9814a0" d="M233.6 1099.6l1.9-9.4 0 1.3-1.9 8.4zM240.3 1093.6l1.9 .3 0 2-1.9-.1zM245.3 1093l2 .4 0 1.6-2-.3zM247 1093.4l1.9-.7 0 1.8-1.9 .5zM248.7 1092.7l1.9 .2 0 1.7-1.9-.1zM253.7 1092l2 .2 0 1.6-2-.2zM262.1 1090.9l1.9 .3 0 1.4-1.9-.3zM265.5 1090.4l1.9 .4 0 1.3-1.9-.3zM277.2 1089.7l1.9-1.6 0 1.3-1.9 1.4zM288.9 1087l2 .5 0 1.1-2-.4zM299 1085.8l1.9 .2 0 1-1.9-.1zM307.4 1084.7l1.9-.1 0 1-1.9 .2zM309.1 1084.6l1.9-.1 0 1-1.9 .1zM310.7 1084.5l2-.1 0 .9-2 .2zM317.4 1083.5l2-.5 0 1-2 .6zM324.1 1083.5l2-2 0 .9-2 1.9z"/><path fill="#9010a4" d="M233.6 1099.6l1.9-8.4 0 1.3-1.9 7.4zM242 1093.9l1.9 .3 0 1.9-1.9-.2zM255.4 1092.2l1.9 .3 0 1.5-1.9-.2zM263.8 1091.2l1.9 .3 0 1.4-1.9-.3zM273.8 1089.7l2 .5 0 1.2-2-.4zM290.6 1087.5l1.9 .4 0 1-1.9-.3zM314.1 1085.6l1.9-2.4 0 1.1-1.9 2.1zM320.8 1083.8l1.9-.9 0 .9-1.9 1z"/><path fill="#880ca4" d="M233.6 1099.6l1.9-7.3 0 1.3-1.9 6.3zM265.5 1091.5l1.9 .4 0 1.2-1.9-.2zM267.1 1091.9l2-1.2 0 1.5-2 .9zM283.9 1088.9l1.9 .5 0 1.1-1.9-.5zM294 1087.6l1.9 .5 0 .9-1.9-.4zM300.7 1086.8l1.9 .1 0 1-1.9-.1zM305.7 1087.2l1.9-2.5 0 1.1-1.9 2.3zM315.8 1084.8l1.9-.5 0 1-1.9 .6zM319.1 1084.6l1.9-.8 0 1-1.9 .8zM320.8 1084.5l1.9-1 0 .9-1.9 1.1zM324.1 1084.5l2-1.6 0 .6-2 1.5z"/><path fill="#8408a4" d="M233.6 1099.6l1.9-6.3 0 1.3-1.9 5.3zM237 1096l1.9-.6 0 2.2-1.9 .4zM238.6 1095.4l2 .1 0 2.2-2-.1zM245.3 1094.5l2 .3 0 1.6-2-.1zM247 1094.8l1.9-.6 0 1.8-1.9 .4zM270.5 1091l1.9 .4 0 1.3-1.9-.3zM273.8 1090.7l2 .5 0 1.1-2-.3zM280.6 1089.7l1.9 .4 0 1.2-1.9-.4zM290.6 1088.3l1.9 .4 0 1-1.9-.3zM302.3 1086.9l2 .2 0 .9-2-.1zM317.4 1085.1l2-.5 0 1-2 .5zM322.5 1084.7l1.9-1.2 0 .8-1.9 1.3z"/><path fill="#7c08a8" d="M233.6 1099.6l1.9-5.3 0 1.3-1.9 4.3zM250.4 1094.4l1.9 .1 0 1.7-1.9-.1zM260.4 1093.1l2 .2 0 1.5-2-.1zM268.8 1091.9l1.9 .3 0 1.4-1.9-.2zM272.2 1091.4l1.9 .3 0 1.3-1.9-.3zM277.2 1091.5l1.9-1.2 0 1.3-1.9 1zM283.9 1089.7l1.9 .5 0 1.1-1.9-.5zM292.3 1088.7l1.9 .3 0 1-1.9-.3zM295.6 1089.4l2-2.1 0 1.1-2 1.9zM297.3 1088.2l1.9 0 0 1.1-1.9 0zM300.7 1087.5l1.9 .2 0 .9-1.9 0zM304 1087.1l1.9 .1 0 .9-1.9-.1zM314.1 1086.8l1.9-2 0 1.1-1.9 1.8zM322.5 1085.3l1.9-1.3 0 .8-1.9 1.4z"/><path fill="#7404a8" d="M233.6 1099.6l1.9-4.2 0 1.3-1.9 3.2zM243.7 1095.9l1.9 .1 0 1.8-1.9 0zM253.7 1094.6l2 .2 0 1.5-2-.1zM262.1 1093.3l1.9 .2 0 1.4-1.9-.1zM270.5 1092.2l1.9 .3 0 1.3-1.9-.2zM273.8 1091.7l2 .4 0 1.2-2-.3zM285.6 1091.1l1.9-1.5 0 1.2-1.9 1.3zM288.9 1089.8l2 .2 0 1.1-2-.1zM294 1089l1.9 .4 0 .9-1.9-.3zM304 1087.8l1.9 .1 0 .9-1.9-.1zM305.7 1088.5l1.9-2.1 0 1.1-1.9 1.9zM315.8 1086.4l1.9-.5 0 1-1.9 .6zM319.1 1086.1l1.9-.8 0 .9-1.9 .9zM320.8 1086l1.9-1.3 0 .9-1.9 1.3z"/><path fill="#6c00a8" d="M233.6 1099.6l1.9-3.2 0 1.3-1.9 2.2zM247 1096.2l1.9-.4 0 1.8-1.9 .2zM248.7 1095.8l1.9 .1 0 1.7-1.9 0zM258.8 1094.3l1.9 .1 0 1.6-1.9-.1zM268.8 1093.1l1.9 .2 0 1.4-1.9-.1zM275.5 1092.1l1.9 .2 0 1.2-1.9-.2zM282.2 1091.1l2 .4 0 1.1-2-.4zM287.3 1090.5l1.9 .2 0 1.2-1.9-.1zM290.6 1090l1.9 .3 0 1-1.9-.2zM299 1089l1.9 .1 0 1-1.9 0zM309.1 1087.8l1.9-.4 0 1-1.9 .4zM310.7 1087.4l2-.3 0 1-2 .3zM317.4 1086.7l2-.6 0 1-2 .6zM320.8 1086.7l1.9-1.4 0 .9-1.9 1.4z"/><path fill="#6400a8" d="M233.6 1099.6l1.9-2.1 0 1.3-1.9 1.1zM240.3 1097.4l1.9 .1 0 1.7-1.9 .1zM252.1 1095.9l1.9 .1 0 1.6-1.9 0zM262.1 1094.6l1.9 .1 0 1.4-1.9-.1zM270.5 1093.3l1.9 .2 0 1.4-1.9-.2zM283.9 1091.5l1.9 .4 0 1-1.9-.3zM302.3 1089.1l2 0 0 1-2 0zM310.7 1088.2l2-.4 0 .9-2 .5zM312.4 1087.8l1.9-.4 0 .9-1.9 .4zM320.8 1087.4l1.9-1.5 0 .7-1.9 1.5z"/><path fill="#6000a4" d="M233.6 1099.6l1.9-1.1 0 1.1-1.9 0zM243.7 1097.5l1.9 .1 0 1.5-1.9 .1zM253.7 1096l2 .1 0 1.5-2 0zM263.8 1094.7l1.9 .1 0 1.4-1.9-.1zM275.5 1093l1.9 .2 0 1.2-1.9-.2zM277.2 1093.2l1.9-.8 0 1.3-1.9 .7zM278.9 1092.4l1.9 .2 0 1.3-1.9-.2zM282.2 1092l2 .3 0 1.1-2-.2zM290.6 1090.9l1.9 .2 0 1-1.9-.1zM294 1090.5l1.9 .2 0 1-1.9-.2zM299 1089.9l1.9-.1 0 1.1-1.9 0zM304 1089.1l1.9 .1 0 .9-1.9 0zM305.7 1089.8l1.9-1.7 0 1.1-1.9 1.5zM309.1 1088.5l1.9-.3 0 1-1.9 .4zM317.4 1087.4l2-.6 0 1-2 .7z"/><path fill="#f8a038" d="M235.3 1087.1l1.9-8.4 0 2-1.9 7.6zM237 1083.9l1.9-2.7 0 2.3-1.9 2.4zM335.9 1070.4l1.9-2.3 0 .5-1.9 2.3z"/><path fill="#f48c48" d="M235.3 1088.1l1.9-7.7 0 2-1.9 7zM238.6 1083.3l2 .9 0 2.1-2-.8zM243.7 1082.6l1.9 1.2 0 1.7-1.9-1zM252.1 1081.7l1.9 .9 0 1.5-1.9-.7zM332.5 1073l1.9-3.5 0 .7-1.9 3.4z"/><path fill="#ec7c50" d="M235.3 1089.1l1.9-7 0 2-1.9 6.3zM245.3 1083.8l2 1.1 0 1.6-2-1zM247 1084.9l1.9-1.6 0 1.8-1.9 1.4zM330.8 1073l2-.7 0 .6-2 .9zM332.5 1074l1.9-3.2 0 .7-1.9 3.2z"/><path fill="#e46860" d="M235.3 1090.2l1.9-6.3 0 2-1.9 5.6zM240.3 1086l1.9 .8 0 2-1.9-.6zM245.3 1085.3l2 1 0 1.7-2-.9zM247 1086.3l1.9-1.5 0 1.8-1.9 1.4zM252.1 1084.6l1.9 .6 0 1.6-1.9-.6zM257.1 1085.4l1.9-2 0 1.6-1.9 1.8zM332.5 1075.5l1.9-2.9 0 .7-1.9 2.8z"/><path fill="#d85868" d="M235.3 1091.2l1.9-5.6 0 2-1.9 4.9zM248.7 1086.4l1.9 .5 0 1.7-1.9-.4zM263.8 1084.2l1.9 .8 0 1.3-1.9-.7zM268.8 1083.5l1.9 .7 0 1.4-1.9-.7z"/><path fill="#d04878" d="M235.3 1092.3l1.9-5 0 2-1.9 4.3zM242 1088.6l1.9 .6 0 1.9-1.9-.5zM257.1 1087.8l1.9-1.7 0 1.6-1.9 1.5zM262.1 1085.9l1.9 .6 0 1.5-1.9-.6zM324.1 1079.4l2-3.4 0 1-2 3.1z"/><path fill="#c03884" d="M235.3 1093.3l1.9-4.2 0 2-1.9 3.5zM252.1 1088.8l1.9 .5 0 1.6-1.9-.4zM255.4 1088.4l1.9 .6 0 1.4-1.9-.4zM265.5 1087.1l1.9 .7 0 1.2-1.9-.5zM272.2 1086l1.9 .7 0 1.3-1.9-.6zM273.8 1085.7l2 .8 0 1.1-2-.6zM278.9 1085l1.9 .7 0 1.2-1.9-.6zM319.1 1080l1.9-.4 0 1-1.9 .4zM325.8 1079.5l1.9-1.2 0 .9-1.9 1.2z"/><path fill="#b02890" d="M235.3 1094.3l1.9-3.5 0 2-1.9 2.8zM240.3 1091.7l1.9 .4 0 2.1-1.9-.3zM252.1 1090.3l1.9 .3 0 1.6-1.9-.3zM260.4 1089.2l2 .4 0 1.5-2-.3zM263.8 1088.9l1.9 .4 0 1.4-1.9-.4zM270.5 1087.6l1.9 .6 0 1.3-1.9-.5zM287.3 1085.6l1.9 .5 0 1.2-1.9-.5zM319.1 1081.5l1.9-.5 0 1-1.9 .5zM324.1 1082l2-2.5 0 .9-2 2.3zM327.5 1080.8l1.9-1.4 0 .8-1.9 1.5z"/><path fill="#a01c9c" d="M235.3 1095.4l1.9-2.9 0 2-1.9 2.2zM263.8 1090l1.9 .4 0 1.4-1.9-.4zM310.7 1083.8l2-.1 0 1-2 .1zM315.8 1083.2l1.9-.5 0 1.1-1.9 .5zM324.1 1083l2-2.2 0 .9-2 2z"/><path fill="#8c0ca4" d="M235.3 1096.4l1.9-2.1 0 2-1.9 1.4zM243.7 1094.2l1.9 .3 0 1.8-1.9-.2zM252.1 1093.1l1.9 .2 0 1.6-1.9-.1zM260.4 1091.8l2 .3 0 1.5-2-.2zM268.8 1090.7l1.9 .3 0 1.4-1.9-.2zM272.2 1090.3l1.9 .4 0 1.3-1.9-.4zM277.2 1090.6l1.9-1.4 0 1.3-1.9 1.2zM288.9 1088l2 .3 0 1.1-2-.3zM299 1086.6l1.9 .2 0 1-1.9-.1zM302.3 1086.2l2 .2 0 .9-2-.1zM309.1 1085.4l1.9-.2 0 1-1.9 .2zM310.7 1085.2l2-.1 0 .9-2 .2zM312.4 1085.1l1.9-.2 0 .9-1.9 .2zM322.5 1084.1l1.9-1.1 0 .7-1.9 1.3z"/><path fill="#7804a8" d="M235.3 1097.5l1.9-1.5 0 2-1.9 .8zM242 1095.7l1.9 .2 0 1.9-1.9-.1zM252.1 1094.5l1.9 .1 0 1.6-1.9 0zM265.5 1092.6l1.9 .3 0 1.3-1.9-.2zM280.6 1090.7l1.9 .4 0 1.1-1.9-.3zM287.3 1089.6l1.9 .2 0 1.2-1.9-.2zM290.6 1089.2l1.9 .3 0 1-1.9-.2zM299 1088.2l1.9 .1 0 1-1.9 0zM302.3 1087.7l2 .1 0 .9-2-.1zM307.4 1087.2l1.9-.2 0 1-1.9 .3zM309.1 1087l1.9-.3 0 1-1.9 .3zM310.7 1086.7l2-.3 0 1-2 .3zM312.4 1086.4l1.9-.2 0 .9-1.9 .3zM317.4 1085.9l2-.6 0 1-2 .6zM322.5 1085.9l1.9-1.4 0 .5-1.9 1.6z"/><path fill="#6800a8" d="M235.3 1098.5l1.9-.8 0 1.8-1.9 .1zM237 1097.7l1.9-.3 0 2-1.9 .1zM238.6 1097.4l2 0 0 1.9-2 .1zM250.4 1095.9l1.9 0 0 1.7-1.9 0zM260.4 1094.4l2 .2 0 1.4-2 0zM265.5 1093.7l1.9 .2 0 1.3-1.9-.1zM267.1 1093.9l2-.8 0 1.5-2 .6zM273.8 1092.7l2 .3 0 1.2-2-.2zM280.6 1091.6l1.9 .4 0 1.2-1.9-.3zM285.6 1091.9l1.9-1.4 0 1.3-1.9 1.1zM288.9 1090.7l2 .2 0 1.1-2-.1zM292.3 1090.3l1.9 .2 0 1-1.9-.2zM294 1089.8l1.9 .3 0 .9-1.9-.2zM295.6 1090.7l2-1.7 0 1.1-2 1.6zM300.7 1089.1l1.9 0 0 1-1.9 0zM304 1088.5l1.9 0 0 .9-1.9 0zM305.7 1089.2l1.9-2 0 1.1-1.9 1.8zM307.4 1088.1l1.9-.3 0 1-1.9 .4zM314.1 1088.1l1.9-1.7 0 1.1-1.9 1.4zM315.8 1087.3l1.9-.6 0 1-1.9 .6zM319.1 1086.8l1.9-.8 0 .9-1.9 .9z"/><path fill="#f0f820" d="M237 1078.7l1.9-3.5 0 2.3-1.9 3.2zM238.6 1075.2l2 1.4 0 2.1-2-1.2z"/><path fill="#f8d824" d="M237 1080.4l1.9-3.2 0 2.3-1.9 2.9z"/><path fill="#fcbc2c" d="M237 1082.1l1.9-2.9 0 2.3-1.9 2.6zM337.6 1068.3l1.9-2.3 0 .3-1.9 2.5zM337.6 1068.5l1.9-2.5 0 .1-1.9 2.6z"/><path fill="#f48848" d="M237 1085.6l1.9-2.3 0 2.2-1.9 2.1zM242 1083.3l1.9 1 0 1.9-1.9-.9zM334.2 1072.1l1.9-2.1 0 .6-1.9 2.2z"/><path fill="#e87058" d="M237 1087.3l1.9-2 0 2.2-1.9 1.8zM242 1085l1.9 .9 0 1.9-1.9-.7zM255.4 1083.4l1.9 .8 0 1.4-1.9-.7zM260.4 1082.7l2 .8 0 1.5-2-.7zM330.8 1074l2-1 0 .6-2 1.2zM332.5 1074.8l1.9-3.1 0 .7-1.9 3z"/><path fill="#d8586c" d="M237 1089.1l1.9-1.8 0 2.3-1.9 1.5zM245.3 1086.8l2 .9 0 1.7-2-.8zM247 1087.7l1.9-1.3 0 1.8-1.9 1.2zM252.1 1086l1.9 .6 0 1.6-1.9-.5zM257.1 1086.6l1.9-1.9 0 1.6-1.9 1.7zM262.1 1084.7l1.9 .7 0 1.4-1.9-.6zM325.8 1076.7l1.9-.9 0 .9-1.9 1zM327.5 1076.4l1.9-.9 0 .8-1.9 1zM330.8 1076.5l2-1.7 0 .6-2 1.9z"/><path fill="#c8447c" d="M237 1090.8l1.9-1.5 0 2.3-1.9 1.2zM265.5 1086.1l1.9 .6 0 1.3-1.9-.6zM270.5 1085.4l1.9 .6 0 1.4-1.9-.6zM324.1 1079.9l2-3.2 0 1-2 3zM329.2 1078.3l1.9-1.3 0 .8-1.9 1.3z"/><path fill="#b4308c" d="M237 1092.5l1.9-1.2 0 2.3-1.9 .9zM243.7 1090.9l1.9 .5 0 1.8-1.9-.4zM278.9 1086l1.9 .7 0 1.2-1.9-.6zM317.4 1081.2l2-.4 0 1-2 .4zM324.1 1081.4l2-2.6 0 .9-2 2.5z"/><path fill="#9c189c" d="M237 1094.3l1.9-1 0 2.3-1.9 .7zM268.8 1089.5l1.9 .4 0 1.4-1.9-.3zM273.8 1088.7l2 .6 0 1.2-2-.5zM278.9 1088.1l1.9 .6 0 1.2-1.9-.5zM290.6 1086.6l1.9 .5 0 1-1.9-.4zM297.3 1085.6l1.9 .2 0 1.1-1.9-.2zM312.4 1083.7l1.9 0 0 .9-1.9 .1zM319.1 1083l1.9-.6 0 1-1.9 .6zM322.5 1082.9l1.9-.9 0 .7-1.9 1.1z"/><path fill="#f8e424" d="M238.6 1077.2l2 1.3 0 2.1-2-1.1zM339.2 1065.8l1.7-2.8 0 .4-1.7 2.7zM339.2 1065.8l1.7-2.7 0 .4-1.7 2.7z"/><path fill="#fcc428" d="M238.6 1079.2l2 1.2 0 2.1-2-1zM337.6 1067.6l1.9-1.9 0 .3-1.9 2z"/><path fill="#fca838" d="M238.6 1081.2l2 1.1 0 2.1-2-.9zM248.7 1080.1l1.9 .8 0 1.8-1.9-.8zM335.9 1069.7l1.9-1.9 0 .4-1.9 2.1z"/><path fill="#e87458" d="M238.6 1085.3l2 .7 0 2.2-2-.7zM250.4 1083.9l1.9 .7 0 1.6-1.9-.5zM329.2 1073.8l1.9-.8 0 .8-1.9 .8z"/><path fill="#dc5c68" d="M238.6 1087.3l2 .6 0 2.2-2-.5zM242 1086.8l1.9 .8 0 1.9-1.9-.7zM258.8 1084.7l1.9 .6 0 1.6-1.9-.6zM330.8 1076l2-1.6 0 .6-2 1.8z"/><path fill="#cc4878" d="M238.6 1089.3l2 .5 0 2.2-2-.4zM245.3 1088.4l2 .7 0 1.7-2-.7zM247 1089.1l1.9-1.1 0 1.8-1.9 1zM248.7 1088l1.9 .4 0 1.7-1.9-.3zM252.1 1087.4l1.9 .5 0 1.6-1.9-.4zM255.4 1087.2l1.9 .6 0 1.4-1.9-.5zM267.1 1086.7l2-2 0 1.5-2 1.8zM325.8 1078.1l1.9-1 0 .8-1.9 1.1zM329.2 1077.7l1.9-1.2 0 .8-1.9 1.2zM330.8 1078l2-2.2 0 .6-2 2.4z"/><path fill="#b8308c" d="M238.6 1091.3l2 .4 0 2.2-2-.3zM250.4 1089.9l1.9 .4 0 1.6-1.9-.3zM258.8 1088.8l1.9 .4 0 1.6-1.9-.3zM262.1 1088.4l1.9 .5 0 1.4-1.9-.4zM267.1 1088.8l2-1.7 0 1.5-2 1.5zM273.8 1086.7l2 .7 0 1.2-2-.6zM275.5 1086.5l1.9 .5 0 1.1-1.9-.5zM280.6 1085.7l1.9 .7 0 1.2-1.9-.7zM327.5 1080.2l1.9-1.4 0 .9-1.9 1.3z"/><path fill="#a0189c" d="M238.6 1093.3l2 .3 0 2.2-2-.2zM252.1 1091.7l1.9 .3 0 1.6-1.9-.3zM260.4 1090.5l2 .4 0 1.4-2-.2zM280.6 1087.7l1.9 .6 0 1.1-1.9-.5z"/><path fill="#f4ec20" d="M240.3 1076.6l1.9 1.3 0 2.1-1.9-1.3zM339.2 1065.4l1.7-2.9 0 .3-1.7 2.9zM339.2 1065.4l1.7-2.8 0 .3-1.7 2.9z"/><path fill="#fccc28" d="M240.3 1078.5l1.9 1.2 0 2-1.9-1.1zM337.6 1066.8l1.9-1.4 0 .4-1.9 1.4z"/><path fill="#fcb030" d="M240.3 1080.4l1.9 1.1 0 2-1.9-1zM335.9 1068.8l1.9-1.6 0 .4-1.9 1.7z"/><path fill="#f89840" d="M240.3 1082.3l1.9 1 0 2-1.9-.9zM250.4 1080.9l1.9 .8 0 1.7-1.9-.7zM334.2 1070.8l1.9-1.7 0 .6-1.9 1.8z"/><path fill="#f08050" d="M240.3 1084.2l1.9 .8 0 2.1-1.9-.8zM248.7 1083.3l1.9 .6 0 1.8-1.9-.6zM253.7 1082.6l2 .8 0 1.5-2-.8zM332.5 1073.7l1.9-3.3 0 .7-1.9 3.2zM334.2 1073l1.9-2.3 0 .6-1.9 2.4z"/><path fill="#d45470" d="M240.3 1087.9l1.9 .7 0 2-1.9-.5zM260.4 1085.3l2 .6 0 1.5-2-.5z"/><path fill="#c44080" d="M240.3 1089.8l1.9 .6 0 2-1.9-.4zM243.7 1089.2l1.9 .7 0 1.8-1.9-.6zM258.8 1087.5l1.9 .4 0 1.6-1.9-.4zM268.8 1085.9l1.9 .6 0 1.4-1.9-.5zM322.5 1079.2l1.9-.3 0 .7-1.9 .5z"/><path fill="#8008a8" d="M240.3 1095.5l1.9 .2 0 2-1.9 0zM255.4 1093.5l1.9 .2 0 1.5-1.9-.2zM257.1 1093.7l1.9-.8 0 1.7-1.9 .6zM258.8 1092.9l1.9 .2 0 1.6-1.9-.1zM263.8 1092.4l1.9 .2 0 1.4-1.9-.2zM278.9 1090.3l1.9 .4 0 1.2-1.9-.3zM285.6 1090.2l1.9-1.6 0 1.2-1.9 1.5zM288.9 1088.9l2 .3 0 1.1-2-.3zM294 1088.3l1.9 .5 0 .9-1.9-.4zM305.7 1087.9l1.9-2.4 0 1.1-1.9 2.2zM315.8 1085.6l1.9-.5 0 1-1.9 .6zM319.1 1085.3l1.9-.8 0 1-1.9 .8zM320.8 1085.3l1.9-1.2 0 .9-1.9 1.2z"/><path fill="#fcd024" d="M242 1077.9l1.9 1.4 0 1.9-1.9-1.2zM337.6 1066.4l1.9-1.1 0 .3-1.9 1.2zM337.6 1066.6l1.9-1.2 0 .3-1.9 1.3z"/><path fill="#fcb830" d="M242 1079.7l1.9 1.3 0 1.9-1.9-1.2zM243.7 1079.3l1.9 1.4 0 1.8-1.9-1.3zM335.9 1068.4l1.9-1.4 0 .4-1.9 1.6z"/><path fill="#f89c3c" d="M242 1081.5l1.9 1.1 0 1.9-1.9-1zM335.9 1070.7l1.9-2.4 0 .5-1.9 2.5z"/><path fill="#bc3888" d="M242 1090.4l1.9 .5 0 1.9-1.9-.4zM245.3 1089.9l2 .6 0 1.7-2-.5zM247 1090.5l1.9-1 0 1.8-1.9 .9zM248.7 1089.5l1.9 .4 0 1.7-1.9-.3zM260.4 1087.9l2 .5 0 1.5-2-.4zM270.5 1086.5l1.9 .6 0 1.3-1.9-.5zM277.2 1087l1.9-2 0 1.3-1.9 1.8zM315.8 1080.8l1.9-.4 0 1-1.9 .4zM324.1 1080.9l2-2.8 0 .9-2 2.7z"/><path fill="#a82494" d="M242 1092.1l1.9 .4 0 2-1.9-.3zM253.7 1090.6l2 .4 0 1.5-2-.3zM267.1 1089.8l2-1.5 0 1.5-2 1.3zM273.8 1087.7l2 .6 0 1.2-2-.5zM278.9 1087.1l1.9 .6 0 1.2-1.9-.5zM315.8 1082.4l1.9-.4 0 1-1.9 .5zM322.5 1081.7l1.9-.8 0 .8-1.9 .8zM325.8 1081.5l1.9-1.3 0 .8-1.9 1.4zM327.5 1081.4l1.9-1.4 0 .5-1.9 1.5z"/><path fill="#6000a8" d="M242 1097.5l1.9 0 0 1.7-1.9 0zM297.3 1089.9l1.9 0 0 1-1.9 0z"/><path fill="#fca038" d="M243.7 1081l1.9 1.2 0 1.8-1.9-1.1zM245.3 1080.7l2 1.4 0 1.6-2-1.2zM247 1082.1l1.9-2 0 1.8-1.9 1.8z"/><path fill="#ec7854" d="M243.7 1084.3l1.9 1 0 1.8-1.9-.9zM257.1 1084.2l1.9-2.2 0 1.6-1.9 2zM332.5 1074.4l1.9-3.1 0 .6-1.9 3.1z"/><path fill="#e06460" d="M243.7 1085.9l1.9 .9 0 1.8-1.9-.8zM262.1 1083.5l1.9 .7 0 1.4-1.9-.6z"/><path fill="#d45070" d="M243.7 1087.6l1.9 .8 0 1.7-1.9-.6zM250.4 1086.9l1.9 .5 0 1.7-1.9-.5zM324.1 1078.9l2-3.5 0 .9-2 3.3zM327.5 1077.1l1.9-1 0 .8-1.9 1zM330.8 1077l2-1.9 0 .6-2 2.1z"/><path fill="#f49044" d="M245.3 1082.2l2 1.3 0 1.6-2-1.1zM247 1083.5l1.9-1.8 0 1.8-1.9 1.6zM334.2 1071.7l1.9-2 0 .6-1.9 2.1z"/><path fill="#ac2894" d="M245.3 1091.4l2 .5 0 1.7-2-.4zM275.5 1087.4l1.9 .5 0 1.1-1.9-.4zM314.1 1083.7l1.9-2.9 0 1-1.9 2.8zM317.4 1082l2-.5 0 1-2 .5z"/><path fill="#7000a8" d="M245.3 1096l2 .2 0 1.6-2 0zM255.4 1094.8l1.9 .1 0 1.5-1.9-.1zM257.1 1094.9l1.9-.6 0 1.6-1.9 .5zM263.8 1093.5l1.9 .2 0 1.4-1.9-.2zM272.2 1092.5l1.9 .2 0 1.3-1.9-.2zM277.2 1092.3l1.9-1 0 1.3-1.9 .9zM278.9 1091.3l1.9 .3 0 1.3-1.9-.3zM283.9 1090.6l1.9 .5 0 1-1.9-.4zM297.3 1089l1.9 0 0 1.1-1.9 0zM302.3 1088.4l2 .1 0 .9-2 0zM312.4 1087.1l1.9-.3 0 .9-1.9 .4z"/><path fill="#5800a4" d="M245.3 1097.6l2 0 0 1.4-2 .1zM247 1097.6l1.9-.2 0 1.5-1.9 .1zM248.7 1097.4l1.9 0 0 1.4-1.9 .1zM257.1 1096.1l1.9-.4 0 1.6-1.9 .3zM258.8 1095.7l1.9 0 0 1.6-1.9 0zM265.5 1094.8l1.9 .1 0 1.3-1.9 0zM267.1 1094.9l2-.6 0 1.5-2 .4zM268.8 1094.3l1.9 .2 0 1.3-1.9 0zM273.8 1093.8l2 .2 0 1.2-2-.2zM280.6 1092.6l1.9 .3 0 1.2-1.9-.2zM283.9 1092.3l1.9 .4 0 1-1.9-.3zM285.6 1092.7l1.9-1.2 0 1.3-1.9 .9zM288.9 1091.6l2 .1 0 1.1-2 0zM292.3 1091.1l1.9 .1 0 1-1.9-.1zM295.6 1091.4l2-1.5 0 1-2 1.4zM302.3 1089.8l2 0 0 1-2 0zM310.7 1088.9l2-.4 0 .9-2 .5zM315.8 1088.1l1.9-.7 0 1.1-1.9 .6z"/><path fill="#ac2494" d="M247 1091.9l1.9-.8 0 1.8-1.9 .7zM248.7 1091.1l1.9 .3 0 1.7-1.9-.2zM268.8 1088.3l1.9 .5 0 1.4-1.9-.4zM280.6 1086.7l1.9 .6 0 1.2-1.9-.6zM282.2 1086.4l2 .7 0 1.1-2-.6zM320.8 1081.7l1.9-.6 0 .8-1.9 .8z"/><path fill="#f89040" d="M248.7 1081.7l1.9 .7 0 1.8-1.9-.7z"/><path fill="#e46c5c" d="M248.7 1084.8l1.9 .6 0 1.8-1.9-.6zM258.8 1083.4l1.9 .6 0 1.6-1.9-.6zM330.8 1074.5l2-1.2 0 .6-2 1.4zM332.5 1075.1l1.9-3 0 .7-1.9 2.9z"/><path fill="#8008a4" d="M248.7 1094.2l1.9 .2 0 1.7-1.9-.1zM299 1087.4l1.9 .1 0 1.1-1.9-.1zM307.4 1086.4l1.9-.2 0 1-1.9 .3zM309.1 1086.2l1.9-.2 0 1-1.9 .2zM310.7 1086l2-.2 0 .9-2 .3zM312.4 1085.8l1.9-.2 0 .8-1.9 .3z"/><path fill="#f08848" d="M250.4 1082.4l1.9 .8 0 1.6-1.9-.6z"/><path fill="#e06064" d="M250.4 1085.4l1.9 .6 0 1.7-1.9-.5zM260.4 1084l2 .7 0 1.5-2-.6zM329.2 1075.5l1.9-1 0 .8-1.9 1zM330.8 1075.5l2-1.5 0 .7-2 1.6zM332.5 1075.8l1.9-2.8 0 .7-1.9 2.7z"/><path fill="#c8407c" d="M250.4 1088.4l1.9 .4 0 1.7-1.9-.4zM253.7 1087.9l2 .5 0 1.6-2-.5zM263.8 1086.5l1.9 .6 0 1.4-1.9-.5zM325.8 1078.8l1.9-1.1 0 .9-1.9 1.1z"/><path fill="#a42098" d="M250.4 1091.4l1.9 .3 0 1.6-1.9-.2zM257.1 1091.3l1.9-1.1 0 1.6-1.9 1zM258.8 1090.2l1.9 .3 0 1.6-1.9-.3zM265.5 1089.3l1.9 .5 0 1.3-1.9-.4zM270.5 1088.8l1.9 .5 0 1.3-1.9-.4zM277.2 1088.8l1.9-1.7 0 1.3-1.9 1.5zM288.9 1086.1l2 .5 0 1.1-2-.4zM307.4 1083.9l1.9-.1 0 1-1.9 .1zM314.1 1084.3l1.9-2.7 0 1.1-1.9 2.5zM320.8 1082.4l1.9-.7 0 .8-1.9 .9zM322.5 1082.3l1.9-.9 0 .8-1.9 .9z"/><path fill="#9010a0" d="M250.4 1092.9l1.9 .2 0 1.7-1.9-.2zM257.1 1092.5l1.9-.9 0 1.6-1.9 .8zM280.6 1088.7l1.9 .5 0 1.2-1.9-.5zM292.3 1087.1l1.9 .5 0 1-1.9-.5zM295.6 1088.1l2-2.5 0 1.1-2 2.3zM297.3 1086.5l1.9 .1 0 1.1-1.9-.1zM300.7 1086l1.9 .2 0 1-1.9-.2z"/><path fill="#5400a0" d="M250.4 1097.4l1.9-.1 0 1.5-1.9 0zM260.4 1095.7l2 .1 0 1.5-2 0zM270.5 1094.5l1.9 .1 0 1.3-1.9-.1zM290.6 1091.7l1.9 .2 0 1-1.9-.1zM294 1091.2l1.9 .2 0 .9-1.9-.1zM297.3 1090.7l1.9 0 0 1-1.9 .1zM304 1089.8l1.9 0 0 .9-1.9 .1zM309.1 1089.3l1.9-.4 0 1-1.9 .5zM317.4 1088.2l2-.6 0 1-2 .7zM319.1 1088.3l1.9-.9 0 .7-1.9 1z"/><path fill="#ec7850" d="M252.1 1083.2l1.9 .7 0 1.6-1.9-.7z"/><path fill="#5004a0" d="M252.1 1097.3l1.9 0 0 1.4-1.9 .1zM262.1 1095.8l1.9 0 0 1.5-1.9 0zM275.5 1094l1.9 .1 0 1.2-1.9-.1zM278.9 1093.4l1.9 .2 0 1.3-1.9-.2zM292.3 1091.9l1.9 .1 0 .9-1.9 0zM295.6 1092.1l2-1.4 0 1.1-2 1.2zM300.7 1090.6l1.9 0 0 .9-1.9 .1zM312.4 1089.2l1.9-.5 0 .9-1.9 .5zM314.1 1089.3l1.9-1.2 0 1-1.9 1.1z"/><path fill="#e8705c" d="M253.7 1083.9l2 .7 0 1.6-2-.7z"/><path fill="#dc6068" d="M253.7 1085.2l2 .7 0 1.5-2-.6zM325.8 1076l1.9-.8 0 .9-1.9 .9zM327.5 1075.8l1.9-.9 0 .8-1.9 1z"/><path fill="#d05070" d="M253.7 1086.6l2 .6 0 1.5-2-.5zM265.5 1085l1.9 .7 0 1.3-1.9-.7zM270.5 1084.2l1.9 .8 0 1.3-1.9-.7zM325.8 1077.4l1.9-1 0 .9-1.9 1zM329.2 1077.2l1.9-1.2 0 .8-1.9 1.2z"/><path fill="#b83088" d="M253.7 1089.3l2 .4 0 1.5-2-.3zM319.1 1080.8l1.9-.5 0 1-1.9 .5zM322.5 1080.5l1.9-.6 0 .8-1.9 .6zM325.8 1080.1l1.9-1.2 0 .9-1.9 1.3zM329.2 1080l1.9-1.5 0 .5-1.9 1.5z"/><path fill="#8808a4" d="M253.7 1093.3l2 .2 0 1.5-2-.1zM262.1 1092.1l1.9 .3 0 1.4-1.9-.2zM275.5 1090.2l1.9 .4 0 1.1-1.9-.3zM282.2 1089.2l2 .5 0 1.1-2-.4zM287.3 1088.6l1.9 .3 0 1.1-1.9-.2zM292.3 1087.9l1.9 .4 0 1-1.9-.4zM295.6 1088.8l2-2.3 0 1.1-2 2.1zM297.3 1087.3l1.9 .1 0 1.1-1.9-.1zM304 1086.4l1.9 .2 0 .9-1.9-.2zM314.1 1086.2l1.9-2.2 0 1.1-1.9 2z"/><path fill="#4c04a0" d="M253.7 1097.3l2 0 0 1.3-2 .1zM263.8 1095.8l1.9 .1 0 1.3-1.9 .1zM272.2 1094.6l1.9 .2 0 1.2-1.9-.1zM285.6 1093.5l1.9-1 0 1.2-1.9 .8zM287.3 1092.5l1.9 .1 0 1.1-1.9 0zM302.3 1090.6l2-.1 0 1-2 0zM310.7 1089.6l2-.4 0 .9-2 .5zM315.8 1088.9l1.9-.7 0 1.1-1.9 .6z"/><path fill="#e06464" d="M255.4 1084.6l1.9 .8 0 1.4-1.9-.6z"/><path fill="#d85470" d="M255.4 1085.9l1.9 .7 0 1.4-1.9-.6zM329.2 1076.6l1.9-1.1 0 .8-1.9 1.1z"/><path fill="#b02c90" d="M255.4 1089.7l1.9 .4 0 1.5-1.9-.4zM277.2 1087.9l1.9-1.9 0 1.3-1.9 1.7zM322.5 1081.1l1.9-.7 0 .8-1.9 .7zM325.8 1080.8l1.9-1.3 0 .9-1.9 1.3z"/><path fill="#5c00a4" d="M255.4 1096.1l1.9 0 0 1.5-1.9 0zM272.2 1093.5l1.9 .3 0 1.2-1.9-.1zM287.3 1091.5l1.9 .1 0 1.2-1.9 0zM300.7 1089.8l1.9 0 0 1-1.9 .1zM307.4 1088.9l1.9-.4 0 1.1-1.9 .4zM312.4 1088.5l1.9-.4 0 .8-1.9 .5zM314.1 1088.7l1.9-1.4 0 1-1.9 1.3zM319.1 1087.6l1.9-.9 0 .9-1.9 1z"/><path fill="#4804a0" d="M255.4 1097.3l1.9 0 0 1.2-1.9 .1zM257.1 1097.3l1.9-.2 0 1.3-1.9 .1zM265.5 1095.9l1.9 .1 0 1.2-1.9 0zM267.1 1096l2-.5 0 1.5-2 .2zM268.8 1095.5l1.9 .1 0 1.4-1.9 0zM273.8 1094.8l2 .1 0 1.2-2-.1zM280.6 1093.6l1.9 .2 0 1.2-1.9-.1zM283.9 1093.2l1.9 .3 0 1-1.9-.2zM288.9 1092.6l2 0 0 1.1-2 0zM290.6 1092.6l1.9 0 0 1.1-1.9 0zM294 1092l1.9 .1 0 .9-1.9-.1zM297.3 1091.5l1.9 0 0 1-1.9 .1zM299 1091.5l1.9-.1 0 1-1.9 .1zM304 1090.5l1.9 0 0 .9-1.9 .1zM305.7 1091.1l1.9-1.3 0 1.1-1.9 1.1zM309.1 1090.1l1.9-.5 0 1-1.9 .6zM312.4 1089.8l1.9-.5 0 .9-1.9 .6zM317.4 1089l2-.7 0 .8-2 .7z"/><path fill="#c03c80" d="M257.1 1089l1.9-1.5 0 1.6-1.9 1.3zM262.1 1087.2l1.9 .5 0 1.4-1.9-.4zM267.1 1087.8l2-1.9 0 1.5-2 1.6zM320.8 1079.6l1.9-.4 0 .9-1.9 .5zM324.1 1080.4l2-3 0 .9-2 2.9zM329.2 1078.8l1.9-1.3 0 .8-1.9 1.4z"/><path fill="#b42c90" d="M257.1 1090.1l1.9-1.3 0 1.7-1.9 1.1zM265.5 1088.2l1.9 .6 0 1.3-1.9-.5zM315.8 1081.6l1.9-.4 0 1-1.9 .5zM320.8 1081l1.9-.5 0 .8-1.9 .7z"/><path fill="#f07c50" d="M258.8 1082l1.9 .7 0 1.6-1.9-.7zM334.2 1073.5l1.9-2.5 0 .3-1.9 2.6z"/><path fill="#d04c74" d="M258.8 1086.1l1.9 .5 0 1.6-1.9-.5zM268.8 1084.7l1.9 .7 0 1.4-1.9-.6zM327.5 1077.7l1.9-1.1 0 .8-1.9 1.2z"/><path fill="#9410a0" d="M258.8 1091.6l1.9 .2 0 1.6-1.9-.2zM270.5 1089.9l1.9 .4 0 1.3-1.9-.3zM275.5 1089.3l1.9 .4 0 1.1-1.9-.3zM282.2 1088.3l2 .6 0 1.1-2-.6zM283.9 1088l1.9 .6 0 1.1-1.9-.6zM287.3 1087.6l1.9 .4 0 1.1-1.9-.3zM305.7 1086.6l1.9-2.7 0 1-1.9 2.6zM312.4 1084.4l1.9-.1 0 .9-1.9 .1zM315.8 1084l1.9-.5 0 1.1-1.9 .5zM319.1 1083.8l1.9-.7 0 1-1.9 .7zM322.5 1083.5l1.9-1 0 .7-1.9 1.2z"/><path fill="#4404a0" d="M258.8 1097.1l1.9-.1 0 1.3-1.9 .1zM300.7 1091.4l1.9-.1 0 1-1.9 .1zM307.4 1090.6l1.9-.5 0 1.1-1.9 .5zM314.1 1089.9l1.9-1 0 1-1.9 .9z"/><path fill="#c84478" d="M260.4 1086.6l2 .6 0 1.5-2-.5zM272.2 1085l1.9 .7 0 1.3-1.9-.7zM327.5 1078.3l1.9-1.1 0 .8-1.9 1.2z"/><path fill="#40049c" d="M260.4 1097l2 0 0 1.3-2 0zM262.1 1097l1.9 0 0 1.2-1.9 .1zM270.5 1095.6l1.9 .1 0 1.3-1.9 0zM275.5 1094.9l1.9 .1 0 1.2-1.9-.1zM277.2 1095l1.9-.5 0 1.3-1.9 .4zM278.9 1094.5l1.9 .1 0 1.3-1.9-.1zM287.3 1093.5l1.9 0 0 1.1-1.9 .1zM292.3 1092.6l1.9 .1 0 1-1.9 0zM295.6 1092.7l2-1.2 0 1.1-2 1zM302.3 1091.3l2-.1 0 .9-2 .2zM304 1091.2l1.9-.1 0 .9-1.9 .1zM310.7 1090.4l2-.6 0 1-2 .6z"/><path fill="#d05074" d="M263.8 1085.4l1.9 .7 0 1.3-1.9-.6zM330.8 1077.5l2-2 0 .6-2 2.2z"/><path fill="#b83488" d="M263.8 1087.7l1.9 .5 0 1.4-1.9-.5zM268.8 1087.1l1.9 .5 0 1.4-1.9-.4zM320.8 1080.3l1.9-.4 0 .8-1.9 .6z"/><path fill="#3c0498" d="M263.8 1097l1.9 0 0 1.1-1.9 .1zM272.2 1095.7l1.9 .1 0 1.2-1.9 0zM283.9 1094.1l1.9 .2 0 1-1.9-.1zM285.6 1094.3l1.9-.8 0 1.2-1.9 .6z"/><path fill="#380498" d="M265.5 1097l1.9 0 0 1-1.9 .1zM280.6 1094.6l1.9 .2 0 1.2-1.9-.1zM288.9 1093.5l2 0 0 1.1-2 0zM290.6 1093.5l1.9-.1 0 1.1-1.9 .1zM297.3 1092.4l1.9-.1 0 1-1.9 .2zM299 1092.3l1.9-.2 0 1.1-1.9 .1zM305.7 1091.8l1.9-1.2 0 1.1-1.9 1zM309.1 1090.9l1.9-.5 0 1-1.9 .6zM312.4 1090.5l1.9-.6 0 .9-1.9 .7zM314.1 1090.6l1.9-.9 0 .8-1.9 .7z"/><path fill="#d8546c" d="M267.1 1085.7l2-2.2 0 1.4-2 2.1z"/><path fill="#9818a0" d="M267.1 1090.8l2-1.3 0 1.5-2 1.1zM272.2 1089.3l1.9 .4 0 1.3-1.9-.4zM285.6 1088.6l1.9-2 0 1.2-1.9 1.9zM314.1 1084.9l1.9-2.5 0 1.1-1.9 2.3zM320.8 1083.1l1.9-.8 0 .8-1.9 1zM325.8 1082.9l1.9-1.5 0 .6-1.9 1.5z"/><path fill="#7808a8" d="M267.1 1092.9l2-1 0 1.5-2 .8zM275.5 1091.2l1.9 .3 0 1.1-1.9-.3zM282.2 1090.1l2 .5 0 1.1-2-.4z"/><path fill="#340498" d="M267.1 1097l2-.3 0 1.2-2 .1zM273.8 1095.8l2 .1 0 1.1-2 0zM295.6 1093.4l2-1 0 1.1-2 .8zM300.7 1092.1l1.9-.1 0 1-1.9 .2zM302.3 1092l2-.1 0 .9-2 .2zM307.4 1091.4l1.9-.5 0 1.1-1.9 .5z"/><path fill="#300498" d="M268.8 1096.7l1.9 0 0 1.2-1.9 0zM275.5 1095.9l1.9 0 0 1.1-1.9 0zM282.2 1094.8l2 .1 0 1.1-2 0zM292.3 1093.4l1.9 0 0 1-1.9 .1zM304 1091.9l1.9-.1 0 .9-1.9 .1zM310.7 1091.1l2-.6 0 1-2 .6z"/><path fill="#2c0894" d="M270.5 1096.7l1.9 0 0 1.1-1.9 .1zM277.2 1095.9l1.9-.4 0 1.3-1.9 .2zM278.9 1095.5l1.9 .1 0 1.3-1.9-.1zM309.1 1091.7l1.9-.6 0 1-1.9 .6z"/><path fill="#b42c8c" d="M272.2 1087.1l1.9 .6 0 1.3-1.9-.6z"/><path fill="#280894" d="M272.2 1096.7l1.9 .1 0 1-1.9 0zM283.9 1094.9l1.9 .2 0 1-1.9-.1zM285.6 1095.1l1.9-.6 0 1.2-1.9 .4zM287.3 1094.5l1.9-.1 0 1.2-1.9 .1zM297.3 1093.2l1.9-.1 0 1-1.9 .2zM305.7 1092.4l1.9-1 0 1.1-1.9 .8z"/><path fill="#240890" d="M273.8 1096.8l2 0 0 .9-2 .1zM280.6 1095.6l1.9 .1 0 1.2-1.9 0zM290.6 1094.3l1.9-.1 0 1.1-1.9 .1zM292.3 1094.2l1.9-.1 0 1-1.9 .2zM295.6 1094.1l2-.9 0 1.1-2 .7zM302.3 1092.7l2-.1 0 .9-2 .2zM304 1092.6l1.9-.2 0 .9-1.9 .2zM307.4 1092.3l1.9-.6 0 1-1.9 .7z"/><path fill="#200890" d="M275.5 1096.8l1.9 0 0 .9-1.9 0zM282.2 1095.7l2 .1 0 1.1-2 0zM294 1094.1l1.9 0 0 .9-1.9 .1zM309.1 1092.5l1.9-.6 0 .7-1.9 .7z"/><path fill="#5000a0" d="M277.2 1094.1l1.9-.7 0 1.3-1.9 .6zM282.2 1092.9l2 .3 0 1.1-2-.2zM299 1090.7l1.9-.1 0 1-1.9 .1zM305.7 1090.5l1.9-1.6 0 1.1-1.9 1.4zM307.4 1089.8l1.9-.5 0 1.1-1.9 .5z"/><path fill="#1c088c" d="M277.2 1096.8l1.9-.2 0 1-1.9 .1zM305.7 1093.1l1.9-.8 0 1.1-1.9 .6z"/><path fill="#900ca4" d="M278.9 1089.2l1.9 .5 0 1.2-1.9-.4zM285.6 1089.4l1.9-1.8 0 1.2-1.9 1.7zM307.4 1085.5l1.9-.1 0 1-1.9 .2zM317.4 1084.3l2-.5 0 1-2 .5zM324.1 1084l2-1.8 0 .9-2 1.7z"/><path fill="#18088c" d="M278.9 1096.6l1.9 0 0 1-1.9 0zM283.9 1095.8l1.9 .1 0 1-1.9 0zM285.6 1095.9l1.9-.4 0 1.2-1.9 .2zM287.3 1095.5l1.9-.2 0 1.2-1.9 .2zM288.9 1095.3l2-.1 0 1.1-2 .2zM297.3 1094.1l1.9-.2 0 1-1.9 .3zM299 1093.9l1.9-.2 0 1-1.9 .2zM300.7 1093.7l1.9-.2 0 .9-1.9 .3zM302.3 1093.5l2-.2 0 .9-2 .2zM304 1093.3l1.9-.2 0 .9-1.9 .2z"/><path fill="#140888" d="M280.6 1096.6l1.9 0 0 1-1.9 0zM290.6 1095.2l1.9-.2 0 1.1-1.9 .2zM292.3 1095l1.9-.1 0 .9-1.9 .3zM295.6 1094.7l2-.6 0 1.1-2 .4zM307.4 1093.1l1.9-.6 0 .8-1.9 .7z"/><path fill="#44049c" d="M282.2 1093.8l2 .3 0 1.1-2-.2zM315.8 1089.7l1.9-.7 0 .8-1.9 .7z"/><path fill="#100888" d="M282.2 1096.6l2 .1 0 .8-2 .1zM294 1094.9l1.9-.2 0 .9-1.9 .2zM305.7 1093.7l1.9-.6 0 .9-1.9 .4z"/><path fill="#0c0888" d="M283.9 1096.7l1.9 0 0 .8-1.9 0zM285.6 1096.7l1.9-.2 0 .9-1.9 .1zM287.3 1096.5l1.9-.3 0 1-1.9 .2zM288.9 1096.2l2-.2 0 .9-2 .3zM290.6 1096l1.9-.2 0 .8-1.9 .3zM292.3 1095.8l1.9-.2 0 .7-1.9 .3zM294 1095.6l1.9-.2 0 .6-1.9 .3zM295.6 1095.4l2-.5 0 .9-2 .2zM297.3 1094.9l1.9-.2 0 .8-1.9 .3zM299 1094.7l1.9-.3 0 .8-1.9 .3zM300.7 1094.4l1.9-.2 0 .7-1.9 .3zM302.3 1094.2l2-.2 0 .6-2 .3zM304 1094l1.9-.3 0 .7-1.9 .2z"/><path fill="#280890" d="M288.9 1094.4l2-.1 0 1.1-2 .2zM299 1093.1l1.9-.2 0 1-1.9 .2zM300.7 1092.9l1.9-.2 0 1-1.9 .2zM310.7 1091.9l2-.7 0 .7-2 .7z"/><path fill="#7004a8" d="M292.3 1089.5l1.9 .3 0 1-1.9-.3zM295.6 1090.1l2-1.9 0 1.1-2 1.7zM300.7 1088.3l1.9 .1 0 1-1.9-.1zM314.1 1087.4l1.9-1.8 0 1.1-1.9 1.6z"/><path fill="#3c049c" d="M294 1092.7l1.9 0 0 .9-1.9 .1z"/><path fill="#300494" d="M294 1093.4l1.9 0 0 .9-1.9 .1zM312.4 1091.2l1.9-.6 0 .6-1.9 .7z"/><path fill="#bc3884" d="M317.4 1080.4l2-.4 0 1-2 .4zM322.5 1079.9l1.9-.5 0 .7-1.9 .6zM327.5 1079.5l1.9-1.2 0 .8-1.9 1.3zM329.2 1079.4l1.9-1.4 0 .8-1.9 1.4z"/><path fill="#e06860" d="M325.8 1075.4l1.9-.8 0 .9-1.9 .8zM327.5 1075.2l1.9-.8 0 .8-1.9 .9zM329.2 1074.9l1.9-.9 0 .8-1.9 .9zM330.8 1075l2-1.3 0 .6-2 1.5z"/><path fill="#e86c5c" d="M327.5 1074.6l1.9-.8 0 .8-1.9 .9zM329.2 1074.4l1.9-.9 0 .8-1.9 .9z"/><path fill="#c43c80" d="M327.5 1078.9l1.9-1.2 0 .8-1.9 1.3z"/><path fill="#d85c68" d="M329.2 1076.1l1.9-1.1 0 .8-1.9 1.1z"/><path fill="#e87854" d="M330.8 1073.5l2-.9 0 .6-2 1.1z"/><path fill="#cc4478" d="M330.8 1078.5l2-2.3 0 .3-2 2.5z"/><path fill="#f89440" d="M332.5 1072.3l1.9-3.7 0 .7-1.9 3.6zM334.2 1071.3l1.9-1.9 0 .6-1.9 1.9z"/><path fill="#f89044" d="M332.5 1072.6l1.9-3.6 0 .7-1.9 3.5z"/><path fill="#f08448" d="M332.5 1073.3l1.9-3.4 0 .7-1.9 3.3z"/><path fill="#e06068" d="M332.5 1076.2l1.9-2.7 0 .4-1.9 2.6z"/><path fill="#fcb430" d="M334.2 1068.6l1.9-1.1 0 .6-1.9 1.2z"/><path fill="#fcb034" d="M334.2 1069l1.9-1.2 0 .6-1.9 1.3zM335.9 1069.1l1.9-1.7 0 .4-1.9 1.9z"/><path fill="#fca834" d="M334.2 1069.5l1.9-1.4 0 .6-1.9 1.5zM335.9 1069.4l1.9-1.8 0 .4-1.9 2z"/><path fill="#fca438" d="M334.2 1069.9l1.9-1.5 0 .6-1.9 1.6zM335.9 1070l1.9-2.1 0 .5-1.9 2.2z"/><path fill="#f8a03c" d="M334.2 1070.4l1.9-1.6 0 .5-1.9 1.8z"/><path fill="#f0844c" d="M334.2 1072.6l1.9-2.2 0 .5-1.9 2.4z"/><path fill="#fcc028" d="M335.9 1067.5l1.9-1.1 0 .4-1.9 1.3zM337.6 1067.8l1.9-2 0 .3-1.9 2.1z"/><path fill="#fcc02c" d="M335.9 1067.8l1.9-1.2 0 .4-1.9 1.4zM337.6 1067.9l1.9-2.1 0 .4-1.9 2.2zM337.6 1068.1l1.9-2.2 0 .3-1.9 2.4z"/><path fill="#fcb82c" d="M335.9 1068.1l1.9-1.3 0 .4-1.9 1.5z"/><path fill="#f8983c" d="M335.9 1071l1.9-2.5 0 .2-1.9 2.6z"/><path fill="#fcc828" d="M337.6 1067l1.9-1.5 0 .3-1.9 1.6zM337.6 1067.2l1.9-1.6 0 .3-1.9 1.7zM337.6 1067.4l1.9-1.8 0 .4-1.9 1.8z"/><path fill="#f4f020" d="M339.2 1065.3l1.7-2.9 0 .3-1.7 2.9z"/><path fill="#f4e820" d="M339.2 1065.5l1.7-2.8 0 .3-1.7 2.8zM339.2 1065.6l1.7-2.8 0 .3-1.7 2.8z"/><path fill="#f4e824" d="M339.2 1065.6l1.7-2.7 0 .3-1.7 2.8zM339.2 1065.7l1.7-2.7 0 .3-1.7 2.7z"/><path fill="#f8e024" d="M339.2 1065.9l1.7-2.7 0 .4-1.7 2.6zM339.2 1066l1.7-2.7 0 .4-1.7 2.6zM339.2 1066l1.7-2.6 0 .1-1.7 2.6z"/></g><path d="M235.3 1087.4V1099.3M237 1079V1099.2M238.6 1075.5V1099.1M240.3 1076.9V1099M242 1078.2V1098.9M243.7 1079.6V1098.9M245.3 1081V1098.8M247 1082.4V1098.7M248.7 1080.4V1098.6M250.4 1081.2V1098.5M252.1 1082V1098.5M253.7 1082.9V1098.4M255.4 1083.7V1098.3M257.1 1084.5V1098.2M258.8 1082.3V1098.1M260.4 1083V1098M262.1 1083.8V1098M263.8 1084.5V1097.9M265.5 1085.3V1097.8M267.1 1086V1097.7M268.8 1083.8V1097.6M270.5 1084.5V1097.6M272.2 1085.3V1097.5M273.8 1086V1097.5M275.5 1086.8V1097.4M277.2 1087.3V1097.4M278.9 1085.3V1097.3M280.6 1086V1097.3M282.2 1086.7V1097.3M283.9 1087.4V1097.2M285.6 1088.1V1097.2M287.3 1085.9V1097.1M288.9 1086.4V1096.9M290.6 1086.9V1096.6M292.3 1087.4V1096.3M294 1087.9V1096M295.6 1088.4V1095.7M297.3 1085.9V1095.5M299 1086.1V1095.2M300.7 1086.3V1094.9M302.3 1086.5V1094.6M304 1086.7V1094.3M305.7 1086.9V1094.1M307.4 1084.2V1093.7M309.1 1084.1V1093M310.7 1084.1V1092.3M312.4 1084V1091.6M314.1 1084V1090.9M315.8 1081.1V1090.2M317.4 1080.7V1089.5M319.1 1080.3V1088.8M320.8 1079.9V1087.8M322.5 1079.5V1086.3M324.1 1079.2V1084.7M325.8 1075.7V1083.2M327.5 1074.9V1081.7M329.2 1074.1V1080.2M330.8 1073.3V1078.7M332.5 1072.6V1076.2M334.2 1068.9V1073.6M335.9 1067.8V1071M337.6 1066.7V1068.4" stroke="#fff" stroke-opacity="0.22" stroke-width=".3" fill="none"/><circle cx="231.18" cy="1056.37" r="0.95" fill="#eea32a" opacity="1"/><circle cx="232.98" cy="1100.86" r="0.95" fill="#eea32a" opacity="1"/><circle cx="238.21" cy="1074.16" r="0.95" fill="#eea32a" opacity="1"/><circle cx="238.26" cy="1075.73" r="0.95" fill="#eea32a" opacity="1"/><circle cx="275.25" cy="1090.83" r="0.95" fill="#eea32a" opacity="0.9"/><circle cx="275.31" cy="1097.7" r="0.95" fill="#eea32a" opacity="0.9"/><circle cx="308.09" cy="1069.8" r="0.95" fill="#eea32a" opacity="0.8"/><circle cx="307.7" cy="1095.41" r="0.95" fill="#eea32a" opacity="0.8"/><circle cx="329.54" cy="1067.78" r="0.95" fill="#eea32a" opacity="0.6"/><circle cx="329.13" cy="1081.03" r="0.95" fill="#eea32a" opacity="0.6"/><circle cx="340.67" cy="1062.34" r="0.95" fill="#eea32a" opacity="0.7"/><circle cx="339.96" cy="1080.81" r="0.95" fill="#eea32a" opacity="0.55"/>
</svg></body></html>
